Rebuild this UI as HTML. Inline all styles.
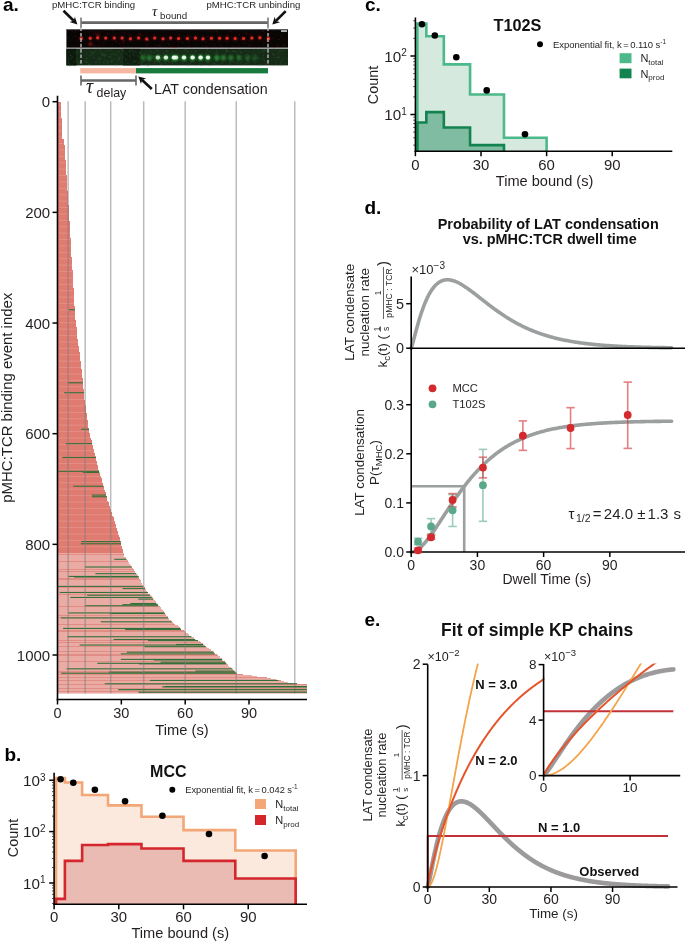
<!DOCTYPE html>
<html><head><meta charset="utf-8"><style>
html,body{margin:0;padding:0;background:#fff;}
body{width:685px;height:942px;overflow:hidden;}
svg{display:block;will-change:transform;font-family:"Liberation Sans", sans-serif;}
</style></head><body>
<svg width="685" height="942" viewBox="0 0 685 942">
<text x="3" y="10.5" font-size="19" text-anchor="start" font-weight="bold" fill="#000" >a.</text>
<text x="52" y="8.4" font-size="9.6" text-anchor="start" font-weight="normal" fill="#231f20" >pMHC:TCR binding</text>
<text x="206.5" y="8.4" font-size="9.6" text-anchor="start" font-weight="normal" fill="#231f20" >pMHC:TCR unbinding</text>
<text x="152" y="15.5" font-size="15" fill="#231f20" font-family="Liberation Serif" font-style="italic">τ</text>
<text x="160" y="19" font-size="9.8" text-anchor="start" font-weight="normal" fill="#231f20" >bound</text>
<line x1="63.5" y1="10.8" x2="73.69" y2="20.77" stroke="#111" stroke-width="2.6" />
<polygon points="77.4,24.4 69.6,22.08 73.69,20.77 74.91,16.65" fill="#111"/>
<line x1="285.7" y1="11.1" x2="275.95" y2="20.92" stroke="#111" stroke-width="2.6" />
<polygon points="272.3,24.6 274.68,16.81 275.95,20.92 280.07,22.17" fill="#111"/>
<line x1="81" y1="22.6" x2="268" y2="22.6" stroke="#666" stroke-width="2.6" />
<line x1="81" y1="17.5" x2="81" y2="28" stroke="#777" stroke-width="1.6" />
<line x1="268" y1="17.5" x2="268" y2="28" stroke="#777" stroke-width="1.6" />
<defs><filter id="blr" x="-50%" y="-50%" width="200%" height="200%"><feGaussianBlur stdDeviation="0.9"/></filter><filter id="blr2" x="-50%" y="-50%" width="200%" height="200%"><feGaussianBlur stdDeviation="0.45"/></filter></defs>
<rect x="66.4" y="29.2" width="221.6" height="18.6" fill="#080505" />
<rect x="66.4" y="48.6" width="221.6" height="16.8" fill="#162a17" />
<rect x="123" y="48.6" width="17" height="16.8" fill="#0f1c10" />
<rect x="66.4" y="48.6" width="10" height="16.8" fill="#0c170d" />
<line x1="66.4" y1="48.2" x2="288" y2="48.2" stroke="#a0a0a0" stroke-width="1.0" />
<line x1="66.4" y1="29.6" x2="288" y2="29.6" stroke="#6a6a6a" stroke-width="0.8" />
<g filter="url(#blr2)">
<rect x="138.24" y="32.64" width="1" height="1" fill="#a01515" opacity="0.22"/>
<rect x="82.94" y="39.38" width="1" height="1" fill="#a01515" opacity="0.12"/>
<rect x="79.76" y="38.88" width="1" height="1" fill="#a01515" opacity="0.1"/>
<rect x="162.4" y="31.22" width="1" height="1" fill="#a01515" opacity="0.1"/>
<rect x="160.39" y="44.47" width="1" height="1" fill="#a01515" opacity="0.1"/>
<rect x="116.11" y="40.98" width="1" height="1" fill="#a01515" opacity="0.48"/>
<rect x="193.96" y="36.94" width="1" height="1" fill="#a01515" opacity="0.52"/>
<rect x="77.25" y="45.02" width="1" height="1" fill="#a01515" opacity="0.11"/>
<rect x="98.74" y="32.06" width="1" height="1" fill="#a01515" opacity="0.11"/>
<rect x="246.55" y="33.16" width="1" height="1" fill="#a01515" opacity="0.19"/>
<rect x="207.56" y="36.52" width="1" height="1" fill="#a01515" opacity="0.17"/>
<rect x="80.81" y="31.04" width="1" height="1" fill="#a01515" opacity="0.1"/>
<rect x="216.69" y="37.48" width="1" height="1" fill="#a01515" opacity="0.11"/>
<rect x="195.82" y="37.93" width="1" height="1" fill="#a01515" opacity="0.11"/>
<rect x="241.76" y="42.23" width="1" height="1" fill="#a01515" opacity="0.11"/>
<rect x="193.37" y="39.19" width="1" height="1" fill="#a01515" opacity="0.4"/>
<rect x="227.48" y="35.04" width="1" height="1" fill="#a01515" opacity="0.52"/>
<rect x="92.97" y="37.32" width="1" height="1" fill="#a01515" opacity="0.3"/>
<rect x="100.44" y="38.56" width="1" height="1" fill="#a01515" opacity="0.1"/>
<rect x="214.01" y="43.38" width="1" height="1" fill="#a01515" opacity="0.18"/>
<rect x="259.61" y="35.49" width="1" height="1" fill="#a01515" opacity="0.25"/>
<rect x="197.76" y="40.15" width="1" height="1" fill="#a01515" opacity="0.14"/>
<rect x="251.79" y="46.53" width="1" height="1" fill="#a01515" opacity="0.15"/>
<rect x="213.11" y="31.06" width="1" height="1" fill="#a01515" opacity="0.26"/>
<rect x="209.37" y="47.38" width="1" height="1" fill="#a01515" opacity="0.35"/>
<rect x="129.61" y="36.75" width="1" height="1" fill="#a01515" opacity="0.23"/>
<rect x="71.96" y="38.08" width="1" height="1" fill="#a01515" opacity="0.1"/>
<rect x="92.76" y="31.03" width="1" height="1" fill="#a01515" opacity="0.3"/>
<rect x="95.45" y="34.33" width="1" height="1" fill="#a01515" opacity="0.13"/>
<rect x="258.71" y="31.41" width="1" height="1" fill="#a01515" opacity="0.14"/>
<rect x="187.88" y="45.46" width="1" height="1" fill="#a01515" opacity="0.35"/>
<rect x="257.08" y="34.87" width="1" height="1" fill="#a01515" opacity="0.13"/>
<rect x="145.93" y="45.47" width="1" height="1" fill="#a01515" opacity="0.5"/>
<rect x="100.2" y="33.08" width="1" height="1" fill="#a01515" opacity="0.11"/>
<rect x="118.33" y="38.49" width="1" height="1" fill="#a01515" opacity="0.19"/>
<rect x="124.8" y="30.07" width="1" height="1" fill="#a01515" opacity="0.13"/>
<rect x="148.24" y="39.91" width="1" height="1" fill="#a01515" opacity="0.49"/>
<rect x="218.91" y="39.02" width="1" height="1" fill="#a01515" opacity="0.21"/>
<rect x="215.76" y="30.94" width="1" height="1" fill="#a01515" opacity="0.43"/>
<rect x="238.59" y="45.3" width="1" height="1" fill="#a01515" opacity="0.33"/>
<rect x="153.32" y="36.98" width="1" height="1" fill="#a01515" opacity="0.1"/>
<rect x="206.54" y="31.09" width="1" height="1" fill="#a01515" opacity="0.1"/>
<rect x="112.93" y="32.84" width="1" height="1" fill="#a01515" opacity="0.12"/>
<rect x="78.57" y="30" width="1" height="1" fill="#a01515" opacity="0.1"/>
<rect x="89.32" y="36.36" width="1" height="1" fill="#a01515" opacity="0.1"/>
<rect x="259.35" y="40.75" width="1" height="1" fill="#a01515" opacity="0.1"/>
<rect x="122.5" y="36.08" width="1" height="1" fill="#a01515" opacity="0.12"/>
<rect x="94.03" y="44.86" width="1" height="1" fill="#a01515" opacity="0.54"/>
<rect x="169.52" y="38.47" width="1" height="1" fill="#a01515" opacity="0.1"/>
<rect x="89.48" y="36" width="1" height="1" fill="#a01515" opacity="0.11"/>
<rect x="249.35" y="32.83" width="1" height="1" fill="#a01515" opacity="0.1"/>
<rect x="276.22" y="39.24" width="1" height="1" fill="#a01515" opacity="0.1"/>
<rect x="186.5" y="30.47" width="1" height="1" fill="#a01515" opacity="0.17"/>
<rect x="282.27" y="45.11" width="1" height="1" fill="#a01515" opacity="0.25"/>
<rect x="124.45" y="36.42" width="1" height="1" fill="#a01515" opacity="0.1"/>
<rect x="236.83" y="39.32" width="1" height="1" fill="#a01515" opacity="0.31"/>
<rect x="139.53" y="33.9" width="1" height="1" fill="#a01515" opacity="0.34"/>
<rect x="283.68" y="44.92" width="1" height="1" fill="#a01515" opacity="0.34"/>
<rect x="247.03" y="42.95" width="1" height="1" fill="#a01515" opacity="0.11"/>
<rect x="180.88" y="36.22" width="1" height="1" fill="#a01515" opacity="0.1"/>
<rect x="73.15" y="34.89" width="1" height="1" fill="#a01515" opacity="0.11"/>
<rect x="219.35" y="46.74" width="1" height="1" fill="#a01515" opacity="0.14"/>
<rect x="273.14" y="47.29" width="1" height="1" fill="#a01515" opacity="0.49"/>
<rect x="147.22" y="33.86" width="1" height="1" fill="#a01515" opacity="0.11"/>
<rect x="110.28" y="33.58" width="1" height="1" fill="#a01515" opacity="0.21"/>
<rect x="265.07" y="44.71" width="1" height="1" fill="#a01515" opacity="0.15"/>
<rect x="210.66" y="43.99" width="1" height="1" fill="#a01515" opacity="0.1"/>
<rect x="212.33" y="45.92" width="1" height="1" fill="#a01515" opacity="0.32"/>
<rect x="232.03" y="38.37" width="1" height="1" fill="#a01515" opacity="0.1"/>
<rect x="240.61" y="35.82" width="1" height="1" fill="#a01515" opacity="0.33"/>
<rect x="280.76" y="36.93" width="1" height="1" fill="#a01515" opacity="0.13"/>
<rect x="275.3" y="42.68" width="1" height="1" fill="#a01515" opacity="0.1"/>
<rect x="94.95" y="32.65" width="1" height="1" fill="#a01515" opacity="0.43"/>
<rect x="244.43" y="32.56" width="1" height="1" fill="#a01515" opacity="0.35"/>
<rect x="282.67" y="41.5" width="1" height="1" fill="#a01515" opacity="0.12"/>
<rect x="187.71" y="32.29" width="1" height="1" fill="#a01515" opacity="0.1"/>
<rect x="280.6" y="41.37" width="1" height="1" fill="#a01515" opacity="0.17"/>
<rect x="272.4" y="37.59" width="1" height="1" fill="#a01515" opacity="0.4"/>
<rect x="248.75" y="33.69" width="1" height="1" fill="#a01515" opacity="0.11"/>
<rect x="131.45" y="34.21" width="1" height="1" fill="#a01515" opacity="0.19"/>
<rect x="124.06" y="37.33" width="1" height="1" fill="#a01515" opacity="0.1"/>
<rect x="267.2" y="36.19" width="1" height="1" fill="#a01515" opacity="0.14"/>
<rect x="195.34" y="45.83" width="1" height="1" fill="#a01515" opacity="0.13"/>
<rect x="268.9" y="38.78" width="1" height="1" fill="#a01515" opacity="0.17"/>
<rect x="182.17" y="30.33" width="1" height="1" fill="#a01515" opacity="0.14"/>
<rect x="107.28" y="30.07" width="1" height="1" fill="#a01515" opacity="0.33"/>
<rect x="104.92" y="38.29" width="1" height="1" fill="#a01515" opacity="0.27"/>
<rect x="189.42" y="35.7" width="1" height="1" fill="#a01515" opacity="0.16"/>
<rect x="189.2" y="43.72" width="1" height="1" fill="#a01515" opacity="0.1"/>
<rect x="190.27" y="34.35" width="1" height="1" fill="#a01515" opacity="0.11"/>
<rect x="236.9" y="38.88" width="1" height="1" fill="#a01515" opacity="0.18"/>
<rect x="234.2" y="45.97" width="1" height="1" fill="#a01515" opacity="0.14"/>
<rect x="201.76" y="38.85" width="1" height="1" fill="#a01515" opacity="0.16"/>
<rect x="219.4" y="37.92" width="1" height="1" fill="#a01515" opacity="0.17"/>
<rect x="172.17" y="46.48" width="1" height="1" fill="#a01515" opacity="0.25"/>
<rect x="259.84" y="46.49" width="1" height="1" fill="#a01515" opacity="0.11"/>
<rect x="190.09" y="46.51" width="1" height="1" fill="#a01515" opacity="0.37"/>
<rect x="97.17" y="32.13" width="1" height="1" fill="#a01515" opacity="0.14"/>
<rect x="82.96" y="34.21" width="1" height="1" fill="#a01515" opacity="0.1"/>
<rect x="214.28" y="43.72" width="1" height="1" fill="#a01515" opacity="0.42"/>
<rect x="100.98" y="42.53" width="1" height="1" fill="#a01515" opacity="0.23"/>
<rect x="98.46" y="45.45" width="1" height="1" fill="#a01515" opacity="0.51"/>
<rect x="115.31" y="46.67" width="1" height="1" fill="#a01515" opacity="0.13"/>
<rect x="174.2" y="47.32" width="1" height="1" fill="#a01515" opacity="0.36"/>
<rect x="102.52" y="37.55" width="1" height="1" fill="#a01515" opacity="0.16"/>
<rect x="141.61" y="33.43" width="1" height="1" fill="#a01515" opacity="0.11"/>
<rect x="225.87" y="30.34" width="1" height="1" fill="#a01515" opacity="0.18"/>
<rect x="163.9" y="30.32" width="1" height="1" fill="#a01515" opacity="0.12"/>
<rect x="204.26" y="38.96" width="1" height="1" fill="#a01515" opacity="0.1"/>
<rect x="283.72" y="43.8" width="1" height="1" fill="#a01515" opacity="0.51"/>
<rect x="90.05" y="34.65" width="1" height="1" fill="#a01515" opacity="0.1"/>
<rect x="238.38" y="34.73" width="1" height="1" fill="#a01515" opacity="0.1"/>
<rect x="159.9" y="45.95" width="1" height="1" fill="#a01515" opacity="0.35"/>
<rect x="123.89" y="32.61" width="1" height="1" fill="#a01515" opacity="0.45"/>
<rect x="192.53" y="42.26" width="1" height="1" fill="#a01515" opacity="0.1"/>
<rect x="79.66" y="42.04" width="1" height="1" fill="#a01515" opacity="0.13"/>
<rect x="82.93" y="46.42" width="1" height="1" fill="#a01515" opacity="0.21"/>
<rect x="243.36" y="31.47" width="1" height="1" fill="#a01515" opacity="0.38"/>
<rect x="81.66" y="45.1" width="1" height="1" fill="#a01515" opacity="0.14"/>
<rect x="141.61" y="39.68" width="1" height="1" fill="#a01515" opacity="0.46"/>
<rect x="125.93" y="32.26" width="1" height="1" fill="#a01515" opacity="0.17"/>
<rect x="119.46" y="31.92" width="1" height="1" fill="#a01515" opacity="0.1"/>
<rect x="78.08" y="33.53" width="1" height="1" fill="#a01515" opacity="0.11"/>
<rect x="134.1" y="43.29" width="1" height="1" fill="#a01515" opacity="0.11"/>
<rect x="177.02" y="33.11" width="1" height="1" fill="#a01515" opacity="0.12"/>
<rect x="71" y="34.38" width="1" height="1" fill="#a01515" opacity="0.1"/>
<rect x="228.28" y="39.64" width="1" height="1" fill="#a01515" opacity="0.1"/>
<rect x="171.45" y="46.36" width="1" height="1" fill="#a01515" opacity="0.1"/>
<rect x="247.16" y="37.56" width="1" height="1" fill="#a01515" opacity="0.15"/>
<rect x="250.62" y="36.88" width="1" height="1" fill="#a01515" opacity="0.16"/>
<rect x="218.3" y="47.19" width="1" height="1" fill="#a01515" opacity="0.12"/>
<rect x="250.1" y="42.37" width="1" height="1" fill="#a01515" opacity="0.22"/>
<rect x="156.03" y="36.08" width="1" height="1" fill="#a01515" opacity="0.1"/>
<rect x="95.56" y="31.24" width="1" height="1" fill="#a01515" opacity="0.28"/>
<rect x="123.23" y="32.86" width="1" height="1" fill="#a01515" opacity="0.1"/>
<rect x="252.08" y="45.23" width="1" height="1" fill="#a01515" opacity="0.24"/>
<rect x="129.03" y="34.24" width="1" height="1" fill="#a01515" opacity="0.11"/>
<rect x="168.08" y="32.76" width="1" height="1" fill="#a01515" opacity="0.14"/>
<rect x="124.91" y="46.83" width="1" height="1" fill="#a01515" opacity="0.51"/>
<rect x="187.36" y="34.28" width="1" height="1" fill="#a01515" opacity="0.51"/>
<rect x="135.1" y="36.24" width="1" height="1" fill="#a01515" opacity="0.1"/>
<rect x="150.96" y="38.31" width="1" height="1" fill="#a01515" opacity="0.16"/>
<rect x="111.22" y="38.83" width="1" height="1" fill="#a01515" opacity="0.1"/>
<rect x="125.12" y="31.57" width="1" height="1" fill="#a01515" opacity="0.13"/>
<rect x="76.17" y="30.39" width="1" height="1" fill="#a01515" opacity="0.11"/>
<rect x="118.22" y="40.25" width="1" height="1" fill="#a01515" opacity="0.17"/>
<rect x="232.12" y="41.51" width="1" height="1" fill="#a01515" opacity="0.27"/>
<rect x="260.4" y="36.82" width="1" height="1" fill="#a01515" opacity="0.12"/>
<rect x="283.64" y="32.62" width="1" height="1" fill="#a01515" opacity="0.27"/>
<rect x="208.51" y="30.77" width="1" height="1" fill="#a01515" opacity="0.36"/>
<rect x="263.23" y="40.98" width="1" height="1" fill="#a01515" opacity="0.28"/>
<rect x="245.69" y="32.44" width="1" height="1" fill="#a01515" opacity="0.16"/>
<rect x="177.96" y="44.61" width="1" height="1" fill="#a01515" opacity="0.33"/>
<rect x="248.81" y="40.22" width="1" height="1" fill="#a01515" opacity="0.42"/>
<rect x="217.24" y="42.13" width="1" height="1" fill="#a01515" opacity="0.11"/>
<rect x="73.86" y="32.33" width="1" height="1" fill="#a01515" opacity="0.12"/>
<rect x="90.08" y="44.63" width="1" height="1" fill="#a01515" opacity="0.18"/>
<rect x="205.11" y="40.96" width="1" height="1" fill="#a01515" opacity="0.24"/>
<rect x="174.64" y="30.06" width="1" height="1" fill="#a01515" opacity="0.33"/>
<rect x="231.62" y="38.8" width="1" height="1" fill="#a01515" opacity="0.17"/>
<rect x="212.05" y="31.16" width="1" height="1" fill="#a01515" opacity="0.28"/>
<rect x="122.48" y="31.3" width="1" height="1" fill="#a01515" opacity="0.11"/>
<rect x="227.45" y="33.59" width="1" height="1" fill="#a01515" opacity="0.28"/>
<rect x="281.66" y="38.64" width="1" height="1" fill="#a01515" opacity="0.13"/>
<rect x="172.38" y="41.96" width="1" height="1" fill="#a01515" opacity="0.3"/>
<rect x="202.73" y="41.25" width="1" height="1" fill="#a01515" opacity="0.1"/>
<rect x="99.43" y="34.44" width="1" height="1" fill="#a01515" opacity="0.28"/>
<rect x="133.97" y="39.94" width="1" height="1" fill="#a01515" opacity="0.1"/>
<rect x="80.35" y="34.7" width="1" height="1" fill="#a01515" opacity="0.24"/>
<rect x="219.28" y="41.82" width="1" height="1" fill="#a01515" opacity="0.11"/>
<rect x="180.64" y="38.13" width="1" height="1" fill="#a01515" opacity="0.15"/>
<rect x="93.07" y="45.64" width="1" height="1" fill="#a01515" opacity="0.1"/>
<rect x="282.19" y="46.38" width="1" height="1" fill="#a01515" opacity="0.1"/>
<rect x="167.97" y="44.35" width="1" height="1" fill="#a01515" opacity="0.51"/>
<rect x="165.88" y="34.7" width="1" height="1" fill="#a01515" opacity="0.1"/>
<rect x="275.03" y="33.69" width="1" height="1" fill="#a01515" opacity="0.19"/>
<rect x="98.18" y="39.17" width="1" height="1" fill="#a01515" opacity="0.49"/>
<rect x="96.17" y="44.35" width="1" height="1" fill="#a01515" opacity="0.16"/>
<rect x="262.11" y="42.31" width="1" height="1" fill="#a01515" opacity="0.11"/>
<rect x="264.5" y="38.51" width="1" height="1" fill="#a01515" opacity="0.1"/>
<rect x="67.79" y="38.6" width="1" height="1" fill="#a01515" opacity="0.14"/>
<rect x="133.43" y="32.46" width="1" height="1" fill="#a01515" opacity="0.12"/>
<rect x="136.54" y="44.7" width="1" height="1" fill="#a01515" opacity="0.1"/>
<rect x="232.16" y="44.68" width="1" height="1" fill="#a01515" opacity="0.1"/>
<rect x="270.81" y="42.48" width="1" height="1" fill="#a01515" opacity="0.43"/>
<rect x="130.76" y="36.51" width="1" height="1" fill="#a01515" opacity="0.13"/>
<rect x="286.73" y="40.31" width="1" height="1" fill="#a01515" opacity="0.12"/>
<rect x="161.17" y="34.82" width="1" height="1" fill="#a01515" opacity="0.1"/>
<rect x="89.38" y="44.61" width="1" height="1" fill="#a01515" opacity="0.11"/>
<rect x="272.83" y="34.36" width="1" height="1" fill="#a01515" opacity="0.11"/>
<rect x="179.41" y="33.32" width="1" height="1" fill="#a01515" opacity="0.12"/>
<rect x="277.36" y="45.47" width="1" height="1" fill="#a01515" opacity="0.34"/>
<rect x="205.8" y="45.98" width="1" height="1" fill="#a01515" opacity="0.47"/>
<rect x="187.83" y="42.59" width="1" height="1" fill="#a01515" opacity="0.1"/>
<rect x="228.12" y="37.89" width="1" height="1" fill="#a01515" opacity="0.29"/>
<rect x="208.79" y="35.01" width="1" height="1" fill="#a01515" opacity="0.1"/>
<rect x="270.89" y="32.23" width="1" height="1" fill="#a01515" opacity="0.15"/>
<rect x="142.61" y="35.21" width="1" height="1" fill="#a01515" opacity="0.28"/>
<rect x="281.79" y="34.55" width="1" height="1" fill="#a01515" opacity="0.23"/>
<rect x="133.18" y="39.75" width="1" height="1" fill="#a01515" opacity="0.13"/>
<rect x="103.81" y="32.83" width="1" height="1" fill="#a01515" opacity="0.1"/>
<rect x="266.31" y="38.7" width="1" height="1" fill="#a01515" opacity="0.1"/>
<rect x="266.38" y="47.44" width="1" height="1" fill="#a01515" opacity="0.14"/>
<rect x="97.71" y="33.37" width="1" height="1" fill="#a01515" opacity="0.1"/>
<rect x="142.23" y="31.59" width="1" height="1" fill="#a01515" opacity="0.11"/>
<rect x="123.84" y="39.97" width="1" height="1" fill="#a01515" opacity="0.41"/>
<rect x="231.92" y="37.22" width="1" height="1" fill="#a01515" opacity="0.13"/>
<rect x="182.32" y="36.6" width="1" height="1" fill="#a01515" opacity="0.12"/>
<rect x="80.65" y="34.86" width="1" height="1" fill="#a01515" opacity="0.51"/>
<rect x="94.69" y="38.81" width="1" height="1" fill="#a01515" opacity="0.21"/>
<rect x="256.83" y="33.78" width="1" height="1" fill="#a01515" opacity="0.11"/>
<rect x="121.66" y="37" width="1" height="1" fill="#a01515" opacity="0.14"/>
<rect x="276.87" y="44.85" width="1" height="1" fill="#a01515" opacity="0.4"/>
<rect x="71.8" y="30.56" width="1" height="1" fill="#a01515" opacity="0.26"/>
<rect x="264.05" y="38.28" width="1" height="1" fill="#a01515" opacity="0.19"/>
<rect x="67.04" y="36.85" width="1" height="1" fill="#a01515" opacity="0.46"/>
<rect x="248.63" y="44.97" width="1" height="1" fill="#a01515" opacity="0.51"/>
<rect x="121.66" y="31.91" width="1" height="1" fill="#a01515" opacity="0.1"/>
<rect x="181.92" y="41.94" width="1" height="1" fill="#a01515" opacity="0.48"/>
<rect x="225.78" y="41.33" width="1" height="1" fill="#a01515" opacity="0.3"/>
<rect x="167.61" y="39.65" width="1" height="1" fill="#a01515" opacity="0.1"/>
<rect x="239.11" y="34.07" width="1" height="1" fill="#a01515" opacity="0.45"/>
<rect x="209.01" y="35.32" width="1" height="1" fill="#a01515" opacity="0.1"/>
<rect x="122.39" y="41.14" width="1" height="1" fill="#a01515" opacity="0.25"/>
<rect x="91.67" y="31.23" width="1" height="1" fill="#a01515" opacity="0.16"/>
<rect x="195.24" y="36.79" width="1" height="1" fill="#a01515" opacity="0.11"/>
<rect x="199.23" y="30.18" width="1" height="1" fill="#a01515" opacity="0.11"/>
<rect x="168.35" y="46.78" width="1" height="1" fill="#a01515" opacity="0.22"/>
<rect x="261.43" y="38.32" width="1" height="1" fill="#a01515" opacity="0.11"/>
<rect x="121.35" y="46.81" width="1" height="1" fill="#a01515" opacity="0.26"/>
<rect x="134.63" y="30.38" width="1" height="1" fill="#a01515" opacity="0.16"/>
<rect x="215.38" y="37.35" width="1" height="1" fill="#a01515" opacity="0.11"/>
<rect x="213.82" y="46.19" width="1" height="1" fill="#a01515" opacity="0.11"/>
<rect x="74.5" y="35.92" width="1" height="1" fill="#a01515" opacity="0.13"/>
<rect x="217.16" y="33.47" width="1" height="1" fill="#a01515" opacity="0.33"/>
<rect x="229.61" y="38.84" width="1" height="1" fill="#a01515" opacity="0.1"/>
<rect x="280.37" y="35.46" width="1" height="1" fill="#a01515" opacity="0.35"/>
<rect x="117.78" y="33.88" width="1" height="1" fill="#a01515" opacity="0.3"/>
<rect x="131.89" y="46.66" width="1" height="1" fill="#a01515" opacity="0.15"/>
<rect x="108.21" y="33.91" width="1" height="1" fill="#a01515" opacity="0.13"/>
<rect x="213.36" y="46.6" width="1" height="1" fill="#a01515" opacity="0.1"/>
<rect x="153.56" y="33.73" width="1" height="1" fill="#a01515" opacity="0.52"/>
<rect x="98.22" y="30.91" width="1" height="1" fill="#a01515" opacity="0.1"/>
<rect x="153.53" y="45.72" width="1" height="1" fill="#a01515" opacity="0.41"/>
<rect x="228.2" y="47.46" width="1" height="1" fill="#a01515" opacity="0.46"/>
<rect x="139.43" y="33.25" width="1" height="1" fill="#a01515" opacity="0.47"/>
<rect x="231.19" y="30.56" width="1" height="1" fill="#a01515" opacity="0.23"/>
<rect x="150.3" y="36.54" width="1" height="1" fill="#a01515" opacity="0.12"/>
<rect x="104.24" y="30.05" width="1" height="1" fill="#a01515" opacity="0.11"/>
<rect x="144.32" y="46.72" width="1" height="1" fill="#a01515" opacity="0.1"/>
<rect x="279.14" y="33.63" width="1" height="1" fill="#a01515" opacity="0.12"/>
<rect x="247.75" y="44.39" width="1" height="1" fill="#a01515" opacity="0.14"/>
<rect x="77.84" y="38.29" width="1" height="1" fill="#a01515" opacity="0.12"/>
<rect x="269.29" y="33.38" width="1" height="1" fill="#a01515" opacity="0.12"/>
<rect x="264.34" y="30.53" width="1" height="1" fill="#a01515" opacity="0.13"/>
<rect x="245.6" y="43.42" width="1" height="1" fill="#a01515" opacity="0.1"/>
<rect x="74.67" y="31.1" width="1" height="1" fill="#a01515" opacity="0.45"/>
<rect x="123.54" y="43.08" width="1" height="1" fill="#a01515" opacity="0.43"/>
<rect x="141.6" y="34.77" width="1" height="1" fill="#a01515" opacity="0.5"/>
<rect x="202.74" y="34.59" width="1" height="1" fill="#a01515" opacity="0.27"/>
<rect x="136.63" y="34.82" width="1" height="1" fill="#a01515" opacity="0.1"/>
<rect x="233.24" y="46.04" width="1" height="1" fill="#a01515" opacity="0.21"/>
<rect x="274.52" y="30.42" width="1" height="1" fill="#a01515" opacity="0.11"/>
<rect x="171.54" y="46.74" width="1" height="1" fill="#a01515" opacity="0.49"/>
<rect x="152.03" y="34.39" width="1" height="1" fill="#a01515" opacity="0.14"/>
<rect x="175.56" y="46.24" width="1" height="1" fill="#a01515" opacity="0.1"/>
<rect x="243.57" y="42.92" width="1" height="1" fill="#a01515" opacity="0.35"/>
<rect x="237.02" y="40.63" width="1" height="1" fill="#a01515" opacity="0.12"/>
<rect x="137.3" y="36.33" width="1" height="1" fill="#a01515" opacity="0.32"/>
<rect x="84.38" y="33.45" width="1" height="1" fill="#a01515" opacity="0.29"/>
<rect x="121.41" y="31.13" width="1" height="1" fill="#a01515" opacity="0.1"/>
<rect x="188.57" y="35.7" width="1" height="1" fill="#a01515" opacity="0.52"/>
<rect x="261.36" y="47.29" width="1" height="1" fill="#a01515" opacity="0.11"/>
<rect x="85.5" y="31.69" width="1" height="1" fill="#a01515" opacity="0.16"/>
<rect x="223.15" y="37.82" width="1" height="1" fill="#a01515" opacity="0.11"/>
<rect x="158.7" y="40.86" width="1" height="1" fill="#a01515" opacity="0.24"/>
<rect x="231.55" y="44.82" width="1" height="1" fill="#a01515" opacity="0.23"/>
<rect x="93.66" y="44.72" width="1" height="1" fill="#a01515" opacity="0.11"/>
<rect x="191.71" y="36.53" width="1" height="1" fill="#a01515" opacity="0.28"/>
<rect x="110.82" y="34.33" width="1" height="1" fill="#a01515" opacity="0.11"/>
<rect x="100.73" y="45.47" width="1" height="1" fill="#a01515" opacity="0.19"/>
<rect x="138.79" y="36.93" width="1" height="1" fill="#a01515" opacity="0.54"/>
<rect x="178.61" y="34.05" width="1" height="1" fill="#a01515" opacity="0.34"/>
<rect x="210.73" y="47.34" width="1" height="1" fill="#a01515" opacity="0.1"/>
<rect x="171.45" y="44.33" width="1" height="1" fill="#a01515" opacity="0.37"/>
<rect x="268.16" y="30.71" width="1" height="1" fill="#a01515" opacity="0.11"/>
<rect x="93.23" y="33.32" width="1" height="1" fill="#a01515" opacity="0.51"/>
<rect x="195.3" y="46.28" width="1" height="1" fill="#a01515" opacity="0.12"/>
<rect x="257.55" y="37.86" width="1" height="1" fill="#a01515" opacity="0.11"/>
<rect x="238.11" y="46.55" width="1" height="1" fill="#a01515" opacity="0.1"/>
<rect x="198.15" y="40.85" width="1" height="1" fill="#a01515" opacity="0.1"/>
<rect x="148.12" y="32.47" width="1" height="1" fill="#a01515" opacity="0.1"/>
<rect x="123.08" y="40.49" width="1" height="1" fill="#a01515" opacity="0.22"/>
<rect x="111.76" y="30.2" width="1" height="1" fill="#a01515" opacity="0.12"/>
<rect x="216.23" y="33.24" width="1" height="1" fill="#a01515" opacity="0.11"/>
<rect x="111.75" y="43.92" width="1" height="1" fill="#a01515" opacity="0.17"/>
<rect x="80.92" y="31.77" width="1" height="1" fill="#a01515" opacity="0.13"/>
<rect x="188.03" y="41.19" width="1" height="1" fill="#a01515" opacity="0.1"/>
<rect x="103.01" y="42.17" width="1" height="1" fill="#a01515" opacity="0.13"/>
<rect x="129.33" y="35.38" width="1" height="1" fill="#a01515" opacity="0.49"/>
<rect x="135.72" y="39.91" width="1" height="1" fill="#a01515" opacity="0.12"/>
<rect x="158.62" y="45.12" width="1" height="1" fill="#a01515" opacity="0.55"/>
<rect x="147.03" y="33.45" width="1" height="1" fill="#a01515" opacity="0.27"/>
<rect x="111.81" y="30.1" width="1" height="1" fill="#a01515" opacity="0.43"/>
<rect x="160.23" y="44.36" width="1" height="1" fill="#a01515" opacity="0.13"/>
<rect x="261.22" y="38.07" width="1" height="1" fill="#a01515" opacity="0.1"/>
<rect x="70.26" y="39.65" width="1" height="1" fill="#a01515" opacity="0.22"/>
<rect x="267.15" y="31.56" width="1" height="1" fill="#a01515" opacity="0.21"/>
<rect x="148.59" y="38.83" width="1" height="1" fill="#a01515" opacity="0.1"/>
<rect x="129.32" y="39.12" width="1" height="1" fill="#a01515" opacity="0.46"/>
<rect x="90.93" y="38.58" width="1" height="1" fill="#a01515" opacity="0.33"/>
<rect x="279.71" y="33.45" width="1" height="1" fill="#a01515" opacity="0.1"/>
<rect x="274.48" y="47.07" width="1" height="1" fill="#a01515" opacity="0.15"/>
<rect x="78.74" y="46.21" width="1" height="1" fill="#a01515" opacity="0.13"/>
<rect x="265.93" y="40.86" width="1" height="1" fill="#a01515" opacity="0.35"/>
<rect x="102.26" y="43.75" width="1" height="1" fill="#a01515" opacity="0.1"/>
<rect x="155.99" y="44.81" width="1" height="1" fill="#a01515" opacity="0.36"/>
<rect x="107.25" y="33.82" width="1" height="1" fill="#a01515" opacity="0.13"/>
<rect x="180.94" y="36.71" width="1" height="1" fill="#a01515" opacity="0.1"/>
<rect x="121.35" y="42.69" width="1" height="1" fill="#a01515" opacity="0.43"/>
<rect x="76.04" y="39.84" width="1" height="1" fill="#a01515" opacity="0.3"/>
<rect x="75.39" y="44.67" width="1" height="1" fill="#a01515" opacity="0.1"/>
<rect x="198.89" y="39.63" width="1" height="1" fill="#a01515" opacity="0.21"/>
<rect x="134.37" y="37.35" width="1" height="1" fill="#a01515" opacity="0.19"/>
<rect x="160.66" y="41.53" width="1" height="1" fill="#a01515" opacity="0.14"/>
<rect x="163.44" y="30.41" width="1" height="1" fill="#a01515" opacity="0.21"/>
<rect x="174.69" y="34.12" width="1" height="1" fill="#a01515" opacity="0.3"/>
<rect x="238.59" y="38.02" width="1" height="1" fill="#a01515" opacity="0.1"/>
<rect x="171.11" y="31.87" width="1" height="1" fill="#a01515" opacity="0.1"/>
<rect x="161.73" y="31.6" width="1" height="1" fill="#a01515" opacity="0.14"/>
<rect x="179.24" y="30.71" width="1" height="1" fill="#a01515" opacity="0.22"/>
<rect x="85.09" y="42.84" width="1" height="1" fill="#a01515" opacity="0.31"/>
<rect x="179.53" y="30.95" width="1" height="1" fill="#a01515" opacity="0.16"/>
<rect x="150.13" y="46.64" width="1" height="1" fill="#a01515" opacity="0.1"/>
<rect x="255.56" y="47.43" width="1" height="1" fill="#a01515" opacity="0.28"/>
<rect x="246.3" y="33.39" width="1" height="1" fill="#a01515" opacity="0.53"/>
<rect x="175.21" y="46.74" width="1" height="1" fill="#a01515" opacity="0.45"/>
<rect x="103.32" y="43.8" width="1" height="1" fill="#a01515" opacity="0.46"/>
<rect x="81.41" y="36.14" width="1" height="1" fill="#a01515" opacity="0.29"/>
<rect x="101.93" y="45.69" width="1" height="1" fill="#a01515" opacity="0.11"/>
<rect x="246.44" y="32.51" width="1" height="1" fill="#a01515" opacity="0.16"/>
<rect x="269.38" y="33.65" width="1" height="1" fill="#a01515" opacity="0.11"/>
<rect x="178.32" y="35.58" width="1" height="1" fill="#a01515" opacity="0.1"/>
<rect x="107.06" y="32.82" width="1" height="1" fill="#a01515" opacity="0.47"/>
<rect x="216.53" y="45.67" width="1" height="1" fill="#a01515" opacity="0.1"/>
<rect x="239.67" y="32.01" width="1" height="1" fill="#a01515" opacity="0.17"/>
<rect x="206.99" y="36.3" width="1" height="1" fill="#a01515" opacity="0.4"/>
<rect x="189.14" y="40.15" width="1" height="1" fill="#a01515" opacity="0.41"/>
<rect x="90.01" y="47.38" width="1" height="1" fill="#a01515" opacity="0.21"/>
<rect x="153.74" y="43.96" width="1" height="1" fill="#a01515" opacity="0.11"/>
<rect x="284.91" y="40.1" width="1" height="1" fill="#a01515" opacity="0.12"/>
<rect x="235.22" y="37.74" width="1" height="1" fill="#a01515" opacity="0.1"/>
<rect x="230.59" y="30.85" width="1" height="1" fill="#a01515" opacity="0.35"/>
<rect x="122.8" y="41.19" width="1" height="1" fill="#a01515" opacity="0.53"/>
<rect x="195.89" y="41.61" width="1" height="1" fill="#a01515" opacity="0.11"/>
<rect x="67.39" y="30.59" width="1" height="1" fill="#a01515" opacity="0.1"/>
<rect x="202.53" y="37.56" width="1" height="1" fill="#a01515" opacity="0.16"/>
<rect x="264.02" y="32.31" width="1" height="1" fill="#a01515" opacity="0.11"/>
<rect x="210.68" y="30.39" width="1" height="1" fill="#a01515" opacity="0.1"/>
<rect x="145.09" y="31.86" width="1" height="1" fill="#a01515" opacity="0.12"/>
<rect x="116.34" y="40.21" width="1" height="1" fill="#a01515" opacity="0.19"/>
<rect x="111.92" y="40.92" width="1" height="1" fill="#a01515" opacity="0.15"/>
<rect x="96.64" y="46.39" width="1" height="1" fill="#a01515" opacity="0.11"/>
<rect x="99.85" y="31.68" width="1" height="1" fill="#a01515" opacity="0.22"/>
<rect x="258.68" y="43.69" width="1" height="1" fill="#a01515" opacity="0.13"/>
<rect x="125.13" y="30.2" width="1" height="1" fill="#a01515" opacity="0.22"/>
<rect x="190.71" y="36.13" width="1" height="1" fill="#a01515" opacity="0.22"/>
<rect x="164.63" y="46.4" width="1" height="1" fill="#a01515" opacity="0.28"/>
<rect x="121.67" y="45.81" width="1" height="1" fill="#a01515" opacity="0.1"/>
<rect x="183.94" y="37.1" width="1" height="1" fill="#a01515" opacity="0.11"/>
<rect x="79.84" y="43.63" width="1" height="1" fill="#a01515" opacity="0.1"/>
<rect x="188.2" y="46.47" width="1" height="1" fill="#a01515" opacity="0.1"/>
<rect x="110.89" y="40.64" width="1" height="1" fill="#a01515" opacity="0.16"/>
<rect x="208.15" y="44.23" width="1" height="1" fill="#a01515" opacity="0.1"/>
<rect x="135.06" y="35.25" width="1" height="1" fill="#a01515" opacity="0.1"/>
<rect x="262.66" y="43.7" width="1" height="1" fill="#a01515" opacity="0.26"/>
<rect x="68.4" y="44.78" width="1" height="1" fill="#a01515" opacity="0.29"/>
<rect x="169.36" y="42.98" width="1" height="1" fill="#a01515" opacity="0.14"/>
<rect x="116.71" y="31.84" width="1" height="1" fill="#a01515" opacity="0.11"/>
<rect x="75.54" y="35.87" width="1" height="1" fill="#a01515" opacity="0.29"/>
<rect x="219.92" y="44.79" width="1" height="1" fill="#a01515" opacity="0.26"/>
<rect x="125.52" y="39.69" width="1" height="1" fill="#a01515" opacity="0.14"/>
<rect x="240.46" y="39.16" width="1" height="1" fill="#a01515" opacity="0.11"/>
<rect x="208.24" y="46.89" width="1" height="1" fill="#a01515" opacity="0.1"/>
<rect x="260.61" y="30.27" width="1" height="1" fill="#a01515" opacity="0.11"/>
<rect x="118.94" y="43.02" width="1" height="1" fill="#a01515" opacity="0.48"/>
<rect x="231.15" y="35.72" width="1" height="1" fill="#a01515" opacity="0.41"/>
<rect x="139.28" y="34.19" width="1" height="1" fill="#a01515" opacity="0.44"/>
<rect x="205.75" y="42.12" width="1" height="1" fill="#a01515" opacity="0.23"/>
<rect x="282.38" y="38.22" width="1" height="1" fill="#a01515" opacity="0.37"/>
<rect x="220.48" y="45.01" width="1" height="1" fill="#a01515" opacity="0.14"/>
<rect x="226.42" y="39.98" width="1" height="1" fill="#a01515" opacity="0.11"/>
<rect x="113.63" y="40.9" width="1" height="1" fill="#a01515" opacity="0.1"/>
<rect x="267.37" y="32.53" width="1" height="1" fill="#a01515" opacity="0.1"/>
<rect x="90.47" y="46.26" width="1" height="1" fill="#a01515" opacity="0.12"/>
<rect x="98.21" y="30.5" width="1" height="1" fill="#a01515" opacity="0.1"/>
<rect x="219.38" y="41.09" width="1" height="1" fill="#a01515" opacity="0.25"/>
<rect x="229.09" y="31.15" width="1" height="1" fill="#a01515" opacity="0.19"/>
<rect x="146.95" y="44.31" width="1" height="1" fill="#a01515" opacity="0.35"/>
<rect x="263.08" y="31.15" width="1" height="1" fill="#a01515" opacity="0.39"/>
<rect x="268.17" y="46.53" width="1" height="1" fill="#a01515" opacity="0.1"/>
<rect x="112.26" y="31.96" width="1" height="1" fill="#a01515" opacity="0.1"/>
<rect x="253.5" y="44.21" width="1" height="1" fill="#a01515" opacity="0.21"/>
<rect x="248.51" y="41.05" width="1" height="1" fill="#a01515" opacity="0.11"/>
<rect x="88.97" y="31.71" width="1" height="1" fill="#a01515" opacity="0.3"/>
<rect x="112.1" y="35.58" width="1" height="1" fill="#a01515" opacity="0.13"/>
<rect x="71.6" y="34.49" width="1" height="1" fill="#a01515" opacity="0.11"/>
<rect x="224.47" y="36.44" width="1" height="1" fill="#a01515" opacity="0.11"/>
<rect x="279.08" y="38.82" width="1" height="1" fill="#a01515" opacity="0.38"/>
<rect x="203.02" y="30.54" width="1" height="1" fill="#a01515" opacity="0.13"/>
<rect x="163.02" y="43.53" width="1" height="1" fill="#a01515" opacity="0.12"/>
<rect x="222.03" y="39.41" width="1" height="1" fill="#a01515" opacity="0.1"/>
<rect x="256.69" y="31.59" width="1" height="1" fill="#a01515" opacity="0.35"/>
<rect x="104.48" y="30.02" width="1" height="1" fill="#a01515" opacity="0.1"/>
<rect x="234.68" y="47.11" width="1" height="1" fill="#a01515" opacity="0.1"/>
<rect x="174.98" y="38.6" width="1" height="1" fill="#a01515" opacity="0.33"/>
<rect x="107.59" y="38.66" width="1" height="1" fill="#a01515" opacity="0.12"/>
<rect x="250" y="34.56" width="1" height="1" fill="#a01515" opacity="0.48"/>
<rect x="129.42" y="33.76" width="1" height="1" fill="#a01515" opacity="0.25"/>
<rect x="176.63" y="31.92" width="1" height="1" fill="#a01515" opacity="0.22"/>
<rect x="84.79" y="61.61" width="1.3" height="1.3" fill="#2f5f30" opacity="0.38"/>
<rect x="240.13" y="59.05" width="1.3" height="1.3" fill="#2f5f30" opacity="0.24"/>
<rect x="155.28" y="55.31" width="1.3" height="1.3" fill="#2f5f30" opacity="0.46"/>
<rect x="85.96" y="63.22" width="1.3" height="1.3" fill="#2f5f30" opacity="0.11"/>
<rect x="112.35" y="53.21" width="1.3" height="1.3" fill="#2f5f30" opacity="0.46"/>
<rect x="177.26" y="55.07" width="1.3" height="1.3" fill="#2f5f30" opacity="0.45"/>
<rect x="118.39" y="56.37" width="1.3" height="1.3" fill="#2f5f30" opacity="0.31"/>
<rect x="232.98" y="61.05" width="1.3" height="1.3" fill="#2f5f30" opacity="0.36"/>
<rect x="143.67" y="54.23" width="1.3" height="1.3" fill="#2f5f30" opacity="0.16"/>
<rect x="252.48" y="59.59" width="1.3" height="1.3" fill="#2f5f30" opacity="0.4"/>
<rect x="104.3" y="56.02" width="1.3" height="1.3" fill="#2f5f30" opacity="0.41"/>
<rect x="194.42" y="51.02" width="1.3" height="1.3" fill="#2f5f30" opacity="0.28"/>
<rect x="261.73" y="52.81" width="1.3" height="1.3" fill="#2f5f30" opacity="0.18"/>
<rect x="133.33" y="60.25" width="1.3" height="1.3" fill="#2f5f30" opacity="0.44"/>
<rect x="101.01" y="51.5" width="1.3" height="1.3" fill="#2f5f30" opacity="0.2"/>
<rect x="138.84" y="57.35" width="1.3" height="1.3" fill="#2f5f30" opacity="0.16"/>
<rect x="139.18" y="52.03" width="1.3" height="1.3" fill="#2f5f30" opacity="0.49"/>
<rect x="227.32" y="50.63" width="1.3" height="1.3" fill="#2f5f30" opacity="0.48"/>
<rect x="89.36" y="55.15" width="1.3" height="1.3" fill="#2f5f30" opacity="0.49"/>
<rect x="241.88" y="60.73" width="1.3" height="1.3" fill="#2f5f30" opacity="0.27"/>
<rect x="110.16" y="59.21" width="1.3" height="1.3" fill="#2f5f30" opacity="0.14"/>
<rect x="112.42" y="55.21" width="1.3" height="1.3" fill="#2f5f30" opacity="0.11"/>
<rect x="154.78" y="61.66" width="1.3" height="1.3" fill="#2f5f30" opacity="0.38"/>
<rect x="177.11" y="59.12" width="1.3" height="1.3" fill="#2f5f30" opacity="0.29"/>
<rect x="98.2" y="58.66" width="1.3" height="1.3" fill="#2f5f30" opacity="0.26"/>
<rect x="230.01" y="63.53" width="1.3" height="1.3" fill="#2f5f30" opacity="0.27"/>
<rect x="193.28" y="60.99" width="1.3" height="1.3" fill="#2f5f30" opacity="0.27"/>
<rect x="117.28" y="60.56" width="1.3" height="1.3" fill="#2f5f30" opacity="0.45"/>
<rect x="237.29" y="60.2" width="1.3" height="1.3" fill="#2f5f30" opacity="0.44"/>
<rect x="216.51" y="59.26" width="1.3" height="1.3" fill="#2f5f30" opacity="0.28"/>
<rect x="135.86" y="59.05" width="1.3" height="1.3" fill="#2f5f30" opacity="0.14"/>
<rect x="159.31" y="61.52" width="1.3" height="1.3" fill="#2f5f30" opacity="0.39"/>
<rect x="205.52" y="53" width="1.3" height="1.3" fill="#2f5f30" opacity="0.27"/>
<rect x="167.14" y="58.95" width="1.3" height="1.3" fill="#2f5f30" opacity="0.26"/>
<rect x="215.55" y="63.88" width="1.3" height="1.3" fill="#2f5f30" opacity="0.17"/>
<rect x="210.99" y="61.45" width="1.3" height="1.3" fill="#2f5f30" opacity="0.26"/>
<rect x="174.76" y="64.59" width="1.3" height="1.3" fill="#2f5f30" opacity="0.12"/>
<rect x="186.54" y="51.57" width="1.3" height="1.3" fill="#2f5f30" opacity="0.41"/>
<rect x="273.93" y="57.31" width="1.3" height="1.3" fill="#2f5f30" opacity="0.14"/>
<rect x="193.4" y="57.66" width="1.3" height="1.3" fill="#2f5f30" opacity="0.39"/>
<rect x="179.68" y="59.23" width="1.3" height="1.3" fill="#2f5f30" opacity="0.43"/>
<rect x="181.77" y="55.57" width="1.3" height="1.3" fill="#2f5f30" opacity="0.48"/>
<rect x="113.22" y="59.95" width="1.3" height="1.3" fill="#2f5f30" opacity="0.26"/>
<rect x="234.79" y="50.96" width="1.3" height="1.3" fill="#2f5f30" opacity="0.49"/>
<rect x="145.2" y="49.91" width="1.3" height="1.3" fill="#2f5f30" opacity="0.21"/>
<rect x="154.93" y="49.21" width="1.3" height="1.3" fill="#2f5f30" opacity="0.27"/>
<rect x="159.52" y="60.17" width="1.3" height="1.3" fill="#2f5f30" opacity="0.24"/>
<rect x="125.33" y="52.59" width="1.3" height="1.3" fill="#2f5f30" opacity="0.4"/>
<rect x="273.78" y="57.43" width="1.3" height="1.3" fill="#2f5f30" opacity="0.19"/>
<rect x="243.33" y="55.27" width="1.3" height="1.3" fill="#2f5f30" opacity="0.18"/>
<rect x="95.45" y="61.43" width="1.3" height="1.3" fill="#2f5f30" opacity="0.42"/>
<rect x="206.55" y="56.51" width="1.3" height="1.3" fill="#2f5f30" opacity="0.32"/>
<rect x="116.72" y="64.42" width="1.3" height="1.3" fill="#2f5f30" opacity="0.24"/>
<rect x="207.54" y="62.1" width="1.3" height="1.3" fill="#2f5f30" opacity="0.43"/>
<rect x="169.98" y="53.71" width="1.3" height="1.3" fill="#2f5f30" opacity="0.32"/>
<rect x="94.54" y="62.34" width="1.3" height="1.3" fill="#2f5f30" opacity="0.24"/>
<rect x="254.15" y="53.28" width="1.3" height="1.3" fill="#2f5f30" opacity="0.25"/>
<rect x="122.78" y="55.82" width="1.3" height="1.3" fill="#2f5f30" opacity="0.17"/>
<rect x="67.59" y="60.55" width="1.3" height="1.3" fill="#2f5f30" opacity="0.21"/>
<rect x="120.89" y="53.83" width="1.3" height="1.3" fill="#2f5f30" opacity="0.29"/>
<rect x="161.27" y="59.2" width="1.3" height="1.3" fill="#2f5f30" opacity="0.36"/>
<rect x="146.73" y="63.86" width="1.3" height="1.3" fill="#2f5f30" opacity="0.44"/>
<rect x="79.55" y="62.25" width="1.3" height="1.3" fill="#2f5f30" opacity="0.46"/>
<rect x="239.49" y="51.25" width="1.3" height="1.3" fill="#2f5f30" opacity="0.43"/>
<rect x="206.3" y="49.24" width="1.3" height="1.3" fill="#2f5f30" opacity="0.1"/>
<rect x="276.39" y="59.5" width="1.3" height="1.3" fill="#2f5f30" opacity="0.2"/>
<rect x="89.33" y="51.28" width="1.3" height="1.3" fill="#2f5f30" opacity="0.19"/>
<rect x="237.79" y="54.54" width="1.3" height="1.3" fill="#2f5f30" opacity="0.16"/>
<rect x="265.9" y="61.67" width="1.3" height="1.3" fill="#2f5f30" opacity="0.17"/>
<rect x="263.05" y="58.73" width="1.3" height="1.3" fill="#2f5f30" opacity="0.41"/>
<rect x="214.06" y="63.3" width="1.3" height="1.3" fill="#2f5f30" opacity="0.42"/>
<rect x="251.54" y="52.16" width="1.3" height="1.3" fill="#2f5f30" opacity="0.38"/>
<rect x="183.78" y="60.87" width="1.3" height="1.3" fill="#2f5f30" opacity="0.28"/>
<rect x="261.19" y="57.88" width="1.3" height="1.3" fill="#2f5f30" opacity="0.21"/>
<rect x="118.52" y="51.23" width="1.3" height="1.3" fill="#2f5f30" opacity="0.3"/>
<rect x="79.86" y="56.47" width="1.3" height="1.3" fill="#2f5f30" opacity="0.16"/>
<rect x="175.1" y="56.97" width="1.3" height="1.3" fill="#2f5f30" opacity="0.32"/>
<rect x="256.83" y="49.11" width="1.3" height="1.3" fill="#2f5f30" opacity="0.44"/>
<rect x="169.95" y="58" width="1.3" height="1.3" fill="#2f5f30" opacity="0.37"/>
<rect x="251.92" y="55" width="1.3" height="1.3" fill="#2f5f30" opacity="0.27"/>
<rect x="278.33" y="50.21" width="1.3" height="1.3" fill="#2f5f30" opacity="0.35"/>
<rect x="206.95" y="49.46" width="1.3" height="1.3" fill="#2f5f30" opacity="0.34"/>
<rect x="217.17" y="63.9" width="1.3" height="1.3" fill="#2f5f30" opacity="0.23"/>
<rect x="282.98" y="57.17" width="1.3" height="1.3" fill="#2f5f30" opacity="0.29"/>
<rect x="264.46" y="49.54" width="1.3" height="1.3" fill="#2f5f30" opacity="0.39"/>
<rect x="204.56" y="54.42" width="1.3" height="1.3" fill="#2f5f30" opacity="0.44"/>
<rect x="147.55" y="56.59" width="1.3" height="1.3" fill="#2f5f30" opacity="0.31"/>
<rect x="236.53" y="52.37" width="1.3" height="1.3" fill="#2f5f30" opacity="0.27"/>
<rect x="159.93" y="57.86" width="1.3" height="1.3" fill="#2f5f30" opacity="0.43"/>
<rect x="131.43" y="62.24" width="1.3" height="1.3" fill="#2f5f30" opacity="0.26"/>
<rect x="177.82" y="53.35" width="1.3" height="1.3" fill="#2f5f30" opacity="0.3"/>
<rect x="281.5" y="59.47" width="1.3" height="1.3" fill="#2f5f30" opacity="0.42"/>
<rect x="139.8" y="54.07" width="1.3" height="1.3" fill="#2f5f30" opacity="0.22"/>
<rect x="196.02" y="59.16" width="1.3" height="1.3" fill="#2f5f30" opacity="0.41"/>
<rect x="75.81" y="60.56" width="1.3" height="1.3" fill="#2f5f30" opacity="0.45"/>
<rect x="186.99" y="49.8" width="1.3" height="1.3" fill="#2f5f30" opacity="0.22"/>
<rect x="68.37" y="52.04" width="1.3" height="1.3" fill="#2f5f30" opacity="0.47"/>
<rect x="200.91" y="59.53" width="1.3" height="1.3" fill="#2f5f30" opacity="0.42"/>
<rect x="267.16" y="58.79" width="1.3" height="1.3" fill="#2f5f30" opacity="0.35"/>
<rect x="204.9" y="60.14" width="1.3" height="1.3" fill="#2f5f30" opacity="0.34"/>
<rect x="216.82" y="52.4" width="1.3" height="1.3" fill="#2f5f30" opacity="0.37"/>
<rect x="167.73" y="61.2" width="1.3" height="1.3" fill="#2f5f30" opacity="0.14"/>
<rect x="106.89" y="49.59" width="1.3" height="1.3" fill="#2f5f30" opacity="0.41"/>
<rect x="268.1" y="59.49" width="1.3" height="1.3" fill="#2f5f30" opacity="0.25"/>
<rect x="247.97" y="61.58" width="1.3" height="1.3" fill="#2f5f30" opacity="0.32"/>
<rect x="123.76" y="53.83" width="1.3" height="1.3" fill="#2f5f30" opacity="0.27"/>
<rect x="137.06" y="55.89" width="1.3" height="1.3" fill="#2f5f30" opacity="0.36"/>
<rect x="272.45" y="49.87" width="1.3" height="1.3" fill="#2f5f30" opacity="0.33"/>
<rect x="75.66" y="50.9" width="1.3" height="1.3" fill="#2f5f30" opacity="0.42"/>
<rect x="193.57" y="63.7" width="1.3" height="1.3" fill="#2f5f30" opacity="0.28"/>
<rect x="70.11" y="55.19" width="1.3" height="1.3" fill="#2f5f30" opacity="0.34"/>
<rect x="273.3" y="64.69" width="1.3" height="1.3" fill="#2f5f30" opacity="0.29"/>
<rect x="157.73" y="50.63" width="1.3" height="1.3" fill="#2f5f30" opacity="0.36"/>
<rect x="113.7" y="51.43" width="1.3" height="1.3" fill="#2f5f30" opacity="0.11"/>
<rect x="68.05" y="59.94" width="1.3" height="1.3" fill="#2f5f30" opacity="0.15"/>
<rect x="279.6" y="50.41" width="1.3" height="1.3" fill="#2f5f30" opacity="0.45"/>
<rect x="95.37" y="49.28" width="1.3" height="1.3" fill="#2f5f30" opacity="0.39"/>
<rect x="120.3" y="60.74" width="1.3" height="1.3" fill="#2f5f30" opacity="0.17"/>
<rect x="78.03" y="61.38" width="1.3" height="1.3" fill="#2f5f30" opacity="0.39"/>
<rect x="255.21" y="60.68" width="1.3" height="1.3" fill="#2f5f30" opacity="0.13"/>
<rect x="205.3" y="60.35" width="1.3" height="1.3" fill="#2f5f30" opacity="0.28"/>
<rect x="272.12" y="53.06" width="1.3" height="1.3" fill="#2f5f30" opacity="0.49"/>
<rect x="224.79" y="49.18" width="1.3" height="1.3" fill="#2f5f30" opacity="0.11"/>
<rect x="210.15" y="62.08" width="1.3" height="1.3" fill="#2f5f30" opacity="0.13"/>
<rect x="135.43" y="60.67" width="1.3" height="1.3" fill="#2f5f30" opacity="0.17"/>
<rect x="256.41" y="56.78" width="1.3" height="1.3" fill="#2f5f30" opacity="0.12"/>
<rect x="147.86" y="58.2" width="1.3" height="1.3" fill="#2f5f30" opacity="0.28"/>
<rect x="215.91" y="51.32" width="1.3" height="1.3" fill="#2f5f30" opacity="0.42"/>
<rect x="146.92" y="59.32" width="1.3" height="1.3" fill="#2f5f30" opacity="0.35"/>
<rect x="158.95" y="55.17" width="1.3" height="1.3" fill="#2f5f30" opacity="0.41"/>
<rect x="274.88" y="61.55" width="1.3" height="1.3" fill="#2f5f30" opacity="0.33"/>
<rect x="131.33" y="49.97" width="1.3" height="1.3" fill="#2f5f30" opacity="0.49"/>
<rect x="221.72" y="62.24" width="1.3" height="1.3" fill="#2f5f30" opacity="0.23"/>
<rect x="200.28" y="64.64" width="1.3" height="1.3" fill="#2f5f30" opacity="0.43"/>
<rect x="199.25" y="53.94" width="1.3" height="1.3" fill="#2f5f30" opacity="0.27"/>
<rect x="262.39" y="55.03" width="1.3" height="1.3" fill="#2f5f30" opacity="0.37"/>
<rect x="199.39" y="63.34" width="1.3" height="1.3" fill="#2f5f30" opacity="0.42"/>
<rect x="129.33" y="49.03" width="1.3" height="1.3" fill="#2f5f30" opacity="0.21"/>
<rect x="159.95" y="58.39" width="1.3" height="1.3" fill="#2f5f30" opacity="0.43"/>
<rect x="262.24" y="49.68" width="1.3" height="1.3" fill="#2f5f30" opacity="0.43"/>
<rect x="245.59" y="62.88" width="1.3" height="1.3" fill="#2f5f30" opacity="0.33"/>
<rect x="127.25" y="62.62" width="1.3" height="1.3" fill="#2f5f30" opacity="0.42"/>
<rect x="217.62" y="63.62" width="1.3" height="1.3" fill="#2f5f30" opacity="0.24"/>
<rect x="85.71" y="57.86" width="1.3" height="1.3" fill="#2f5f30" opacity="0.42"/>
<rect x="111.09" y="61" width="1.3" height="1.3" fill="#2f5f30" opacity="0.47"/>
<rect x="118.49" y="58.71" width="1.3" height="1.3" fill="#2f5f30" opacity="0.37"/>
<rect x="169.37" y="52.31" width="1.3" height="1.3" fill="#2f5f30" opacity="0.2"/>
<rect x="232.25" y="61.67" width="1.3" height="1.3" fill="#2f5f30" opacity="0.28"/>
<rect x="86.29" y="61.91" width="1.3" height="1.3" fill="#2f5f30" opacity="0.41"/>
<rect x="118.23" y="58.27" width="1.3" height="1.3" fill="#2f5f30" opacity="0.46"/>
<rect x="261.72" y="57.35" width="1.3" height="1.3" fill="#2f5f30" opacity="0.29"/>
<rect x="196.65" y="52.03" width="1.3" height="1.3" fill="#2f5f30" opacity="0.18"/>
<rect x="106.75" y="60.22" width="1.3" height="1.3" fill="#2f5f30" opacity="0.25"/>
<rect x="191.17" y="55.44" width="1.3" height="1.3" fill="#2f5f30" opacity="0.31"/>
<rect x="99.78" y="49.71" width="1.3" height="1.3" fill="#2f5f30" opacity="0.5"/>
<rect x="149.29" y="50.7" width="1.3" height="1.3" fill="#2f5f30" opacity="0.35"/>
<rect x="240.22" y="51.5" width="1.3" height="1.3" fill="#2f5f30" opacity="0.34"/>
<rect x="142.88" y="57.31" width="1.3" height="1.3" fill="#2f5f30" opacity="0.11"/>
<rect x="74.39" y="64.85" width="1.3" height="1.3" fill="#2f5f30" opacity="0.45"/>
<rect x="173.99" y="58.07" width="1.3" height="1.3" fill="#2f5f30" opacity="0.2"/>
<rect x="238.42" y="55.82" width="1.3" height="1.3" fill="#2f5f30" opacity="0.48"/>
<rect x="235.79" y="62.1" width="1.3" height="1.3" fill="#2f5f30" opacity="0.49"/>
<rect x="122.88" y="49.61" width="1.3" height="1.3" fill="#2f5f30" opacity="0.18"/>
<rect x="106.76" y="50.34" width="1.3" height="1.3" fill="#2f5f30" opacity="0.12"/>
<rect x="189.62" y="62.93" width="1.3" height="1.3" fill="#2f5f30" opacity="0.28"/>
<rect x="275.39" y="63.56" width="1.3" height="1.3" fill="#2f5f30" opacity="0.13"/>
<rect x="198.58" y="55.36" width="1.3" height="1.3" fill="#2f5f30" opacity="0.15"/>
<rect x="278.05" y="53.12" width="1.3" height="1.3" fill="#2f5f30" opacity="0.33"/>
<rect x="207.94" y="64.3" width="1.3" height="1.3" fill="#2f5f30" opacity="0.37"/>
<rect x="153.49" y="56.17" width="1.3" height="1.3" fill="#2f5f30" opacity="0.16"/>
<rect x="279.47" y="64.87" width="1.3" height="1.3" fill="#2f5f30" opacity="0.19"/>
<rect x="75.5" y="53.09" width="1.3" height="1.3" fill="#2f5f30" opacity="0.24"/>
<rect x="265.61" y="63.47" width="1.3" height="1.3" fill="#2f5f30" opacity="0.43"/>
<rect x="77.35" y="61.58" width="1.3" height="1.3" fill="#2f5f30" opacity="0.38"/>
<rect x="209.27" y="64.77" width="1.3" height="1.3" fill="#2f5f30" opacity="0.12"/>
<rect x="98.86" y="61.08" width="1.3" height="1.3" fill="#2f5f30" opacity="0.48"/>
<rect x="215.92" y="53.78" width="1.3" height="1.3" fill="#2f5f30" opacity="0.34"/>
<rect x="233.74" y="50.69" width="1.3" height="1.3" fill="#2f5f30" opacity="0.23"/>
<rect x="123.54" y="50.99" width="1.3" height="1.3" fill="#2f5f30" opacity="0.29"/>
<rect x="104.09" y="52.82" width="1.3" height="1.3" fill="#2f5f30" opacity="0.16"/>
<rect x="216.08" y="49.2" width="1.3" height="1.3" fill="#2f5f30" opacity="0.39"/>
<rect x="109.92" y="49.58" width="1.3" height="1.3" fill="#2f5f30" opacity="0.47"/>
<rect x="115.52" y="63.94" width="1.3" height="1.3" fill="#2f5f30" opacity="0.45"/>
<rect x="262.52" y="51.24" width="1.3" height="1.3" fill="#2f5f30" opacity="0.28"/>
<rect x="88.34" y="63.86" width="1.3" height="1.3" fill="#2f5f30" opacity="0.44"/>
<rect x="205.24" y="56.24" width="1.3" height="1.3" fill="#2f5f30" opacity="0.24"/>
<rect x="248.07" y="56.64" width="1.3" height="1.3" fill="#2f5f30" opacity="0.35"/>
<rect x="98.41" y="52.55" width="1.3" height="1.3" fill="#2f5f30" opacity="0.12"/>
<rect x="224.02" y="57.85" width="1.3" height="1.3" fill="#2f5f30" opacity="0.16"/>
<rect x="258.56" y="53.26" width="1.3" height="1.3" fill="#2f5f30" opacity="0.26"/>
<rect x="101.25" y="53.34" width="1.3" height="1.3" fill="#2f5f30" opacity="0.44"/>
<rect x="140.59" y="51.68" width="1.3" height="1.3" fill="#2f5f30" opacity="0.3"/>
<rect x="136.97" y="63.45" width="1.3" height="1.3" fill="#2f5f30" opacity="0.15"/>
<rect x="282.3" y="49.91" width="1.3" height="1.3" fill="#2f5f30" opacity="0.46"/>
<rect x="214.02" y="52.38" width="1.3" height="1.3" fill="#2f5f30" opacity="0.29"/>
<rect x="129.97" y="53.12" width="1.3" height="1.3" fill="#2f5f30" opacity="0.18"/>
<rect x="147.14" y="64.86" width="1.3" height="1.3" fill="#2f5f30" opacity="0.5"/>
<rect x="270.52" y="50.56" width="1.3" height="1.3" fill="#2f5f30" opacity="0.22"/>
<rect x="264.16" y="49.92" width="1.3" height="1.3" fill="#2f5f30" opacity="0.39"/>
<rect x="131.58" y="64.66" width="1.3" height="1.3" fill="#2f5f30" opacity="0.11"/>
<rect x="244.55" y="54.45" width="1.3" height="1.3" fill="#2f5f30" opacity="0.16"/>
<rect x="67.42" y="62.32" width="1.3" height="1.3" fill="#2f5f30" opacity="0.31"/>
<rect x="107.88" y="55.96" width="1.3" height="1.3" fill="#2f5f30" opacity="0.46"/>
<rect x="115.02" y="58.14" width="1.3" height="1.3" fill="#2f5f30" opacity="0.16"/>
<rect x="106.63" y="61.33" width="1.3" height="1.3" fill="#2f5f30" opacity="0.38"/>
<rect x="110.28" y="50.27" width="1.3" height="1.3" fill="#2f5f30" opacity="0.13"/>
<rect x="200.88" y="56.93" width="1.3" height="1.3" fill="#2f5f30" opacity="0.21"/>
<rect x="112.33" y="58.8" width="1.3" height="1.3" fill="#2f5f30" opacity="0.38"/>
<rect x="245.55" y="58.33" width="1.3" height="1.3" fill="#2f5f30" opacity="0.18"/>
<rect x="81.45" y="60.72" width="1.3" height="1.3" fill="#2f5f30" opacity="0.26"/>
<rect x="225.76" y="49.89" width="1.3" height="1.3" fill="#2f5f30" opacity="0.42"/>
<rect x="140.75" y="62.47" width="1.3" height="1.3" fill="#2f5f30" opacity="0.45"/>
<rect x="175.46" y="49.25" width="1.3" height="1.3" fill="#2f5f30" opacity="0.46"/>
<rect x="171.86" y="62.95" width="1.3" height="1.3" fill="#2f5f30" opacity="0.21"/>
<rect x="107.93" y="62.31" width="1.3" height="1.3" fill="#2f5f30" opacity="0.25"/>
<rect x="102.97" y="54.94" width="1.3" height="1.3" fill="#2f5f30" opacity="0.34"/>
<rect x="68.02" y="57.32" width="1.3" height="1.3" fill="#2f5f30" opacity="0.28"/>
<rect x="180.44" y="50.93" width="1.3" height="1.3" fill="#2f5f30" opacity="0.39"/>
<rect x="246.64" y="62.85" width="1.3" height="1.3" fill="#2f5f30" opacity="0.23"/>
<rect x="223.46" y="55.1" width="1.3" height="1.3" fill="#2f5f30" opacity="0.4"/>
<rect x="80.47" y="62.96" width="1.3" height="1.3" fill="#2f5f30" opacity="0.48"/>
<rect x="175.86" y="57.21" width="1.3" height="1.3" fill="#2f5f30" opacity="0.31"/>
<rect x="185.21" y="49.33" width="1.3" height="1.3" fill="#2f5f30" opacity="0.49"/>
<rect x="116.21" y="51.92" width="1.3" height="1.3" fill="#2f5f30" opacity="0.14"/>
<rect x="122.1" y="62.07" width="1.3" height="1.3" fill="#2f5f30" opacity="0.11"/>
<rect x="88.22" y="60.18" width="1.3" height="1.3" fill="#2f5f30" opacity="0.18"/>
<rect x="70.89" y="58.59" width="1.3" height="1.3" fill="#2f5f30" opacity="0.33"/>
<rect x="182.04" y="60.24" width="1.3" height="1.3" fill="#2f5f30" opacity="0.14"/>
<rect x="258.3" y="60.47" width="1.3" height="1.3" fill="#2f5f30" opacity="0.12"/>
<rect x="94.07" y="56.9" width="1.3" height="1.3" fill="#2f5f30" opacity="0.3"/>
<rect x="128.52" y="50.95" width="1.3" height="1.3" fill="#2f5f30" opacity="0.26"/>
<rect x="97.13" y="58.47" width="1.3" height="1.3" fill="#2f5f30" opacity="0.44"/>
<rect x="99.39" y="58.17" width="1.3" height="1.3" fill="#2f5f30" opacity="0.4"/>
<rect x="103.15" y="62.22" width="1.3" height="1.3" fill="#2f5f30" opacity="0.48"/>
<rect x="152.52" y="55.73" width="1.3" height="1.3" fill="#2f5f30" opacity="0.44"/>
<rect x="182.64" y="55.33" width="1.3" height="1.3" fill="#2f5f30" opacity="0.48"/>
<rect x="237.92" y="54.42" width="1.3" height="1.3" fill="#2f5f30" opacity="0.2"/>
<rect x="140.72" y="55.97" width="1.3" height="1.3" fill="#2f5f30" opacity="0.49"/>
<rect x="243.96" y="63.6" width="1.3" height="1.3" fill="#2f5f30" opacity="0.43"/>
<rect x="253.48" y="49.86" width="1.3" height="1.3" fill="#2f5f30" opacity="0.31"/>
<rect x="277.73" y="63.95" width="1.3" height="1.3" fill="#2f5f30" opacity="0.2"/>
<rect x="159.87" y="59.12" width="1.3" height="1.3" fill="#2f5f30" opacity="0.25"/>
<rect x="183.78" y="50.11" width="1.3" height="1.3" fill="#2f5f30" opacity="0.27"/>
<rect x="178.05" y="49.33" width="1.3" height="1.3" fill="#2f5f30" opacity="0.16"/>
<rect x="280.33" y="61.43" width="1.3" height="1.3" fill="#2f5f30" opacity="0.47"/>
<rect x="206.31" y="61.95" width="1.3" height="1.3" fill="#2f5f30" opacity="0.45"/>
<rect x="261.62" y="49.55" width="1.3" height="1.3" fill="#2f5f30" opacity="0.36"/>
<rect x="125.47" y="59.86" width="1.3" height="1.3" fill="#2f5f30" opacity="0.21"/>
<rect x="186.3" y="63.79" width="1.3" height="1.3" fill="#2f5f30" opacity="0.35"/>
<rect x="122.13" y="57.32" width="1.3" height="1.3" fill="#2f5f30" opacity="0.27"/>
<rect x="276.19" y="53.6" width="1.3" height="1.3" fill="#2f5f30" opacity="0.22"/>
<rect x="209.45" y="50.93" width="1.3" height="1.3" fill="#2f5f30" opacity="0.34"/>
<rect x="277.34" y="57.22" width="1.3" height="1.3" fill="#2f5f30" opacity="0.21"/>
<rect x="169.61" y="57.54" width="1.3" height="1.3" fill="#2f5f30" opacity="0.16"/>
<rect x="94.26" y="51.1" width="1.3" height="1.3" fill="#2f5f30" opacity="0.22"/>
<rect x="156.44" y="53.61" width="1.3" height="1.3" fill="#2f5f30" opacity="0.2"/>
<rect x="86.33" y="57.74" width="1.3" height="1.3" fill="#2f5f30" opacity="0.44"/>
<rect x="201.19" y="58.12" width="1.3" height="1.3" fill="#2f5f30" opacity="0.36"/>
<rect x="111.26" y="60.37" width="1.3" height="1.3" fill="#2f5f30" opacity="0.28"/>
<rect x="187.57" y="58.8" width="1.3" height="1.3" fill="#2f5f30" opacity="0.29"/>
<rect x="135.31" y="52.88" width="1.3" height="1.3" fill="#2f5f30" opacity="0.19"/>
<rect x="179.74" y="55.13" width="1.3" height="1.3" fill="#2f5f30" opacity="0.33"/>
<rect x="69.61" y="54.64" width="1.3" height="1.3" fill="#2f5f30" opacity="0.44"/>
<rect x="119.48" y="57.91" width="1.3" height="1.3" fill="#2f5f30" opacity="0.3"/>
<rect x="129.66" y="64.8" width="1.3" height="1.3" fill="#2f5f30" opacity="0.22"/>
<rect x="236.87" y="51.54" width="1.3" height="1.3" fill="#2f5f30" opacity="0.13"/>
<rect x="258.68" y="56.04" width="1.3" height="1.3" fill="#2f5f30" opacity="0.12"/>
<rect x="152.34" y="56.04" width="1.3" height="1.3" fill="#2f5f30" opacity="0.39"/>
<rect x="91.03" y="52.6" width="1.3" height="1.3" fill="#2f5f30" opacity="0.48"/>
<rect x="229.5" y="51.47" width="1.3" height="1.3" fill="#2f5f30" opacity="0.23"/>
<rect x="144.54" y="59.81" width="1.3" height="1.3" fill="#2f5f30" opacity="0.35"/>
<rect x="254" y="62.14" width="1.3" height="1.3" fill="#2f5f30" opacity="0.31"/>
<rect x="229.53" y="60.89" width="1.3" height="1.3" fill="#2f5f30" opacity="0.4"/>
<rect x="171.55" y="61.56" width="1.3" height="1.3" fill="#2f5f30" opacity="0.38"/>
<rect x="268.24" y="51.04" width="1.3" height="1.3" fill="#2f5f30" opacity="0.45"/>
<rect x="67.95" y="61.25" width="1.3" height="1.3" fill="#2f5f30" opacity="0.33"/>
<rect x="176.53" y="64.4" width="1.3" height="1.3" fill="#2f5f30" opacity="0.33"/>
<rect x="158.94" y="61.54" width="1.3" height="1.3" fill="#2f5f30" opacity="0.45"/>
<rect x="200.61" y="55.07" width="1.3" height="1.3" fill="#2f5f30" opacity="0.28"/>
<rect x="167.74" y="60.57" width="1.3" height="1.3" fill="#2f5f30" opacity="0.22"/>
<rect x="152.95" y="57.89" width="1.3" height="1.3" fill="#2f5f30" opacity="0.25"/>
<rect x="137.84" y="61.59" width="1.3" height="1.3" fill="#2f5f30" opacity="0.44"/>
<rect x="176.9" y="56.1" width="1.3" height="1.3" fill="#2f5f30" opacity="0.17"/>
<rect x="133.89" y="51.32" width="1.3" height="1.3" fill="#2f5f30" opacity="0.33"/>
<rect x="194.95" y="50.41" width="1.3" height="1.3" fill="#2f5f30" opacity="0.47"/>
<rect x="138.25" y="62.49" width="1.3" height="1.3" fill="#2f5f30" opacity="0.44"/>
<rect x="277.93" y="52.27" width="1.3" height="1.3" fill="#2f5f30" opacity="0.27"/>
<rect x="267.33" y="49.17" width="1.3" height="1.3" fill="#2f5f30" opacity="0.12"/>
<rect x="191.29" y="56.96" width="1.3" height="1.3" fill="#2f5f30" opacity="0.47"/>
<rect x="237.17" y="57.62" width="1.3" height="1.3" fill="#2f5f30" opacity="0.5"/>
<rect x="180.84" y="57.28" width="1.3" height="1.3" fill="#2f5f30" opacity="0.37"/>
<rect x="152.69" y="54.72" width="1.3" height="1.3" fill="#2f5f30" opacity="0.34"/>
<rect x="144.24" y="64.17" width="1.3" height="1.3" fill="#2f5f30" opacity="0.37"/>
<rect x="182.55" y="50.58" width="1.3" height="1.3" fill="#2f5f30" opacity="0.25"/>
<rect x="155.2" y="57.98" width="1.3" height="1.3" fill="#2f5f30" opacity="0.33"/>
<rect x="260.56" y="64.43" width="1.3" height="1.3" fill="#2f5f30" opacity="0.29"/>
<rect x="163.84" y="58.99" width="1.3" height="1.3" fill="#2f5f30" opacity="0.5"/>
<rect x="142.52" y="57.48" width="1.3" height="1.3" fill="#2f5f30" opacity="0.43"/>
<rect x="104.56" y="54.09" width="1.3" height="1.3" fill="#2f5f30" opacity="0.49"/>
<rect x="248.73" y="57.2" width="1.3" height="1.3" fill="#2f5f30" opacity="0.14"/>
<rect x="263.79" y="60.04" width="1.3" height="1.3" fill="#2f5f30" opacity="0.43"/>
<rect x="284.85" y="63.21" width="1.3" height="1.3" fill="#2f5f30" opacity="0.27"/>
<rect x="101.41" y="53.64" width="1.3" height="1.3" fill="#2f5f30" opacity="0.3"/>
<rect x="178.08" y="52.01" width="1.3" height="1.3" fill="#2f5f30" opacity="0.17"/>
<rect x="205.62" y="58.65" width="1.3" height="1.3" fill="#2f5f30" opacity="0.24"/>
<rect x="285.62" y="59.18" width="1.3" height="1.3" fill="#2f5f30" opacity="0.12"/>
<rect x="157.51" y="61.6" width="1.3" height="1.3" fill="#2f5f30" opacity="0.22"/>
<rect x="218.95" y="49.06" width="1.3" height="1.3" fill="#2f5f30" opacity="0.22"/>
<rect x="252.27" y="58.38" width="1.3" height="1.3" fill="#2f5f30" opacity="0.37"/>
<rect x="110.26" y="56.97" width="1.3" height="1.3" fill="#2f5f30" opacity="0.32"/>
<rect x="125.52" y="59.35" width="1.3" height="1.3" fill="#2f5f30" opacity="0.31"/>
<rect x="286.36" y="58.19" width="1.3" height="1.3" fill="#2f5f30" opacity="0.26"/>
<rect x="93.73" y="51.51" width="1.3" height="1.3" fill="#2f5f30" opacity="0.4"/>
<rect x="90.46" y="50.6" width="1.3" height="1.3" fill="#2f5f30" opacity="0.17"/>
<rect x="181.95" y="62.17" width="1.3" height="1.3" fill="#2f5f30" opacity="0.35"/>
<rect x="244.45" y="49.99" width="1.3" height="1.3" fill="#2f5f30" opacity="0.1"/>
<rect x="236.53" y="54.17" width="1.3" height="1.3" fill="#2f5f30" opacity="0.39"/>
<rect x="144.85" y="51.71" width="1.3" height="1.3" fill="#2f5f30" opacity="0.21"/>
<rect x="88.88" y="63.46" width="1.3" height="1.3" fill="#2f5f30" opacity="0.33"/>
<rect x="143.76" y="56.2" width="1.3" height="1.3" fill="#2f5f30" opacity="0.25"/>
<rect x="79.03" y="63.25" width="1.3" height="1.3" fill="#2f5f30" opacity="0.33"/>
<rect x="278.11" y="56.03" width="1.3" height="1.3" fill="#2f5f30" opacity="0.35"/>
<rect x="121.85" y="49.7" width="1.3" height="1.3" fill="#2f5f30" opacity="0.47"/>
<rect x="255.04" y="54.04" width="1.3" height="1.3" fill="#2f5f30" opacity="0.46"/>
<rect x="246.5" y="53.86" width="1.3" height="1.3" fill="#2f5f30" opacity="0.34"/>
<rect x="278.21" y="56.93" width="1.3" height="1.3" fill="#2f5f30" opacity="0.48"/>
<rect x="120.44" y="55.24" width="1.3" height="1.3" fill="#2f5f30" opacity="0.39"/>
<rect x="115.71" y="53.95" width="1.3" height="1.3" fill="#2f5f30" opacity="0.45"/>
<rect x="173.57" y="61.68" width="1.3" height="1.3" fill="#2f5f30" opacity="0.2"/>
<rect x="105.16" y="54.73" width="1.3" height="1.3" fill="#2f5f30" opacity="0.17"/>
<rect x="280.74" y="53.65" width="1.3" height="1.3" fill="#2f5f30" opacity="0.32"/>
<rect x="92.27" y="57.54" width="1.3" height="1.3" fill="#2f5f30" opacity="0.25"/>
<rect x="155.7" y="50.05" width="1.3" height="1.3" fill="#2f5f30" opacity="0.15"/>
<rect x="248.68" y="54.62" width="1.3" height="1.3" fill="#2f5f30" opacity="0.2"/>
<rect x="109.06" y="53.54" width="1.3" height="1.3" fill="#2f5f30" opacity="0.19"/>
<rect x="74.68" y="59.63" width="1.3" height="1.3" fill="#2f5f30" opacity="0.24"/>
<rect x="101.3" y="60.29" width="1.3" height="1.3" fill="#2f5f30" opacity="0.14"/>
<rect x="126.33" y="62.36" width="1.3" height="1.3" fill="#2f5f30" opacity="0.15"/>
<rect x="164.53" y="62.38" width="1.3" height="1.3" fill="#2f5f30" opacity="0.42"/>
<rect x="102.03" y="54.65" width="1.3" height="1.3" fill="#2f5f30" opacity="0.39"/>
<rect x="149.92" y="64.33" width="1.3" height="1.3" fill="#2f5f30" opacity="0.18"/>
<rect x="276.21" y="57.08" width="1.3" height="1.3" fill="#2f5f30" opacity="0.19"/>
<rect x="166.59" y="51.1" width="1.3" height="1.3" fill="#2f5f30" opacity="0.38"/>
<rect x="124.37" y="63.39" width="1.3" height="1.3" fill="#2f5f30" opacity="0.34"/>
<rect x="147.96" y="52.94" width="1.3" height="1.3" fill="#2f5f30" opacity="0.34"/>
<rect x="113.76" y="62.96" width="1.3" height="1.3" fill="#2f5f30" opacity="0.15"/>
<rect x="179.87" y="57.68" width="1.3" height="1.3" fill="#2f5f30" opacity="0.21"/>
<rect x="236.78" y="55.16" width="1.3" height="1.3" fill="#2f5f30" opacity="0.36"/>
<rect x="191.89" y="53.97" width="1.3" height="1.3" fill="#2f5f30" opacity="0.26"/>
<rect x="85.93" y="51.83" width="1.3" height="1.3" fill="#2f5f30" opacity="0.44"/>
<rect x="137.63" y="59.6" width="1.3" height="1.3" fill="#2f5f30" opacity="0.14"/>
<rect x="190.64" y="54.78" width="1.3" height="1.3" fill="#2f5f30" opacity="0.3"/>
<rect x="132.33" y="50.05" width="1.3" height="1.3" fill="#2f5f30" opacity="0.22"/>
<rect x="116.81" y="51.02" width="1.3" height="1.3" fill="#2f5f30" opacity="0.39"/>
<rect x="129.12" y="55.45" width="1.3" height="1.3" fill="#2f5f30" opacity="0.46"/>
<rect x="237.5" y="63.12" width="1.3" height="1.3" fill="#2f5f30" opacity="0.44"/>
<rect x="96.08" y="53.42" width="1.3" height="1.3" fill="#2f5f30" opacity="0.11"/>
<rect x="216.52" y="59.62" width="1.3" height="1.3" fill="#2f5f30" opacity="0.24"/>
<rect x="157.77" y="59.55" width="1.3" height="1.3" fill="#2f5f30" opacity="0.38"/>
<rect x="121.65" y="62.55" width="1.3" height="1.3" fill="#2f5f30" opacity="0.24"/>
<rect x="205.34" y="51.91" width="1.3" height="1.3" fill="#2f5f30" opacity="0.15"/>
<rect x="267.79" y="60.74" width="1.3" height="1.3" fill="#2f5f30" opacity="0.39"/>
<rect x="75.9" y="49.64" width="1.3" height="1.3" fill="#2f5f30" opacity="0.16"/>
<rect x="110.58" y="53.85" width="1.3" height="1.3" fill="#2f5f30" opacity="0.25"/>
<rect x="75.63" y="53.97" width="1.3" height="1.3" fill="#2f5f30" opacity="0.36"/>
<rect x="106.53" y="62.43" width="1.3" height="1.3" fill="#2f5f30" opacity="0.33"/>
<rect x="224.66" y="53.08" width="1.3" height="1.3" fill="#2f5f30" opacity="0.27"/>
<rect x="217.55" y="54.58" width="1.3" height="1.3" fill="#2f5f30" opacity="0.1"/>
<rect x="250.54" y="61.42" width="1.3" height="1.3" fill="#2f5f30" opacity="0.21"/>
<rect x="76.45" y="62.67" width="1.3" height="1.3" fill="#2f5f30" opacity="0.34"/>
<rect x="77.42" y="52.91" width="1.3" height="1.3" fill="#2f5f30" opacity="0.14"/>
<rect x="241.12" y="52.36" width="1.3" height="1.3" fill="#2f5f30" opacity="0.47"/>
<rect x="231.9" y="50.38" width="1.3" height="1.3" fill="#2f5f30" opacity="0.38"/>
<rect x="153.6" y="60.96" width="1.3" height="1.3" fill="#2f5f30" opacity="0.43"/>
<rect x="128.86" y="50.44" width="1.3" height="1.3" fill="#2f5f30" opacity="0.48"/>
<rect x="160.27" y="63.88" width="1.3" height="1.3" fill="#2f5f30" opacity="0.38"/>
<rect x="229.49" y="62.28" width="1.3" height="1.3" fill="#2f5f30" opacity="0.35"/>
<rect x="166.61" y="49.87" width="1.3" height="1.3" fill="#2f5f30" opacity="0.38"/>
<rect x="161.24" y="57.19" width="1.3" height="1.3" fill="#2f5f30" opacity="0.47"/>
<rect x="95.08" y="61.19" width="1.3" height="1.3" fill="#2f5f30" opacity="0.12"/>
<rect x="221.6" y="61.89" width="1.3" height="1.3" fill="#2f5f30" opacity="0.2"/>
<rect x="187.21" y="64.51" width="1.3" height="1.3" fill="#2f5f30" opacity="0.36"/>
<rect x="186.66" y="53" width="1.3" height="1.3" fill="#2f5f30" opacity="0.12"/>
<rect x="145.72" y="55.59" width="1.3" height="1.3" fill="#2f5f30" opacity="0.18"/>
<rect x="135.32" y="51.18" width="1.3" height="1.3" fill="#2f5f30" opacity="0.38"/>
<rect x="214.47" y="52.81" width="1.3" height="1.3" fill="#2f5f30" opacity="0.2"/>
<rect x="180.38" y="56.12" width="1.3" height="1.3" fill="#2f5f30" opacity="0.47"/>
<rect x="144.32" y="53.79" width="1.3" height="1.3" fill="#2f5f30" opacity="0.45"/>
<rect x="98.22" y="58.01" width="1.3" height="1.3" fill="#2f5f30" opacity="0.23"/>
<rect x="246.39" y="57.77" width="1.3" height="1.3" fill="#2f5f30" opacity="0.4"/>
<rect x="104.23" y="59.66" width="1.3" height="1.3" fill="#2f5f30" opacity="0.34"/>
<rect x="168.46" y="61.26" width="1.3" height="1.3" fill="#2f5f30" opacity="0.43"/>
<rect x="92.19" y="53.63" width="1.3" height="1.3" fill="#2f5f30" opacity="0.24"/>
<rect x="112.42" y="49.97" width="1.3" height="1.3" fill="#2f5f30" opacity="0.21"/>
<rect x="110.36" y="60.23" width="1.3" height="1.3" fill="#2f5f30" opacity="0.28"/>
<rect x="91.86" y="54.19" width="1.3" height="1.3" fill="#2f5f30" opacity="0.29"/>
<rect x="146.85" y="51.69" width="1.3" height="1.3" fill="#2f5f30" opacity="0.13"/>
<rect x="69.38" y="64.87" width="1.3" height="1.3" fill="#2f5f30" opacity="0.4"/>
<rect x="85.47" y="60.47" width="1.3" height="1.3" fill="#2f5f30" opacity="0.49"/>
<rect x="191" y="50.74" width="1.3" height="1.3" fill="#2f5f30" opacity="0.3"/>
<rect x="162.53" y="52.04" width="1.3" height="1.3" fill="#2f5f30" opacity="0.32"/>
<rect x="68.83" y="63.71" width="1.3" height="1.3" fill="#2f5f30" opacity="0.36"/>
<rect x="205.1" y="63.96" width="1.3" height="1.3" fill="#2f5f30" opacity="0.36"/>
<rect x="122.31" y="52.94" width="1.3" height="1.3" fill="#2f5f30" opacity="0.16"/>
<rect x="73.09" y="61.39" width="1.3" height="1.3" fill="#2f5f30" opacity="0.44"/>
<rect x="132.19" y="51.97" width="1.3" height="1.3" fill="#2f5f30" opacity="0.36"/>
<rect x="253.06" y="63.83" width="1.3" height="1.3" fill="#2f5f30" opacity="0.17"/>
<rect x="239.62" y="62.29" width="1.3" height="1.3" fill="#2f5f30" opacity="0.4"/>
<rect x="138.87" y="51.95" width="1.3" height="1.3" fill="#2f5f30" opacity="0.43"/>
<rect x="137.43" y="54.9" width="1.3" height="1.3" fill="#2f5f30" opacity="0.32"/>
<rect x="148.24" y="62.3" width="1.3" height="1.3" fill="#2f5f30" opacity="0.2"/>
<rect x="76.08" y="58.07" width="1.3" height="1.3" fill="#2f5f30" opacity="0.35"/>
<rect x="247.34" y="60.29" width="1.3" height="1.3" fill="#2f5f30" opacity="0.46"/>
<rect x="274.89" y="56.91" width="1.3" height="1.3" fill="#2f5f30" opacity="0.3"/>
<rect x="101.65" y="53.79" width="1.3" height="1.3" fill="#2f5f30" opacity="0.33"/>
<rect x="84.65" y="60.01" width="1.3" height="1.3" fill="#2f5f30" opacity="0.17"/>
<rect x="164.5" y="64.52" width="1.3" height="1.3" fill="#2f5f30" opacity="0.14"/>
<rect x="75.79" y="56.03" width="1.3" height="1.3" fill="#2f5f30" opacity="0.18"/>
<rect x="226.05" y="49.04" width="1.3" height="1.3" fill="#2f5f30" opacity="0.44"/>
<rect x="255.17" y="61.59" width="1.3" height="1.3" fill="#2f5f30" opacity="0.27"/>
<rect x="129.32" y="59.59" width="1.3" height="1.3" fill="#2f5f30" opacity="0.31"/>
<rect x="159.67" y="54.42" width="1.3" height="1.3" fill="#2f5f30" opacity="0.28"/>
<rect x="213.54" y="62.22" width="1.3" height="1.3" fill="#2f5f30" opacity="0.46"/>
<rect x="103.18" y="53.73" width="1.3" height="1.3" fill="#2f5f30" opacity="0.28"/>
<rect x="190.94" y="54.57" width="1.3" height="1.3" fill="#2f5f30" opacity="0.18"/>
<rect x="85.71" y="54.18" width="1.3" height="1.3" fill="#2f5f30" opacity="0.28"/>
<rect x="280.69" y="63.54" width="1.3" height="1.3" fill="#2f5f30" opacity="0.45"/>
<rect x="281.36" y="64.39" width="1.3" height="1.3" fill="#2f5f30" opacity="0.35"/>
<rect x="245.45" y="49.96" width="1.3" height="1.3" fill="#2f5f30" opacity="0.37"/>
<rect x="201.01" y="53.75" width="1.3" height="1.3" fill="#2f5f30" opacity="0.33"/>
<rect x="276.62" y="56.69" width="1.3" height="1.3" fill="#2f5f30" opacity="0.36"/>
<rect x="132.85" y="54.49" width="1.3" height="1.3" fill="#2f5f30" opacity="0.45"/>
<rect x="73.13" y="52.02" width="1.3" height="1.3" fill="#2f5f30" opacity="0.37"/>
<rect x="165.42" y="50.36" width="1.3" height="1.3" fill="#2f5f30" opacity="0.36"/>
<rect x="148.84" y="58.29" width="1.3" height="1.3" fill="#2f5f30" opacity="0.27"/>
<rect x="183.6" y="58.04" width="1.3" height="1.3" fill="#2f5f30" opacity="0.26"/>
<rect x="92.14" y="51.89" width="1.3" height="1.3" fill="#2f5f30" opacity="0.46"/>
<rect x="187.59" y="50.8" width="1.3" height="1.3" fill="#2f5f30" opacity="0.44"/>
<rect x="122.77" y="50.52" width="1.3" height="1.3" fill="#2f5f30" opacity="0.31"/>
<rect x="122.34" y="56.83" width="1.3" height="1.3" fill="#2f5f30" opacity="0.32"/>
<rect x="116.84" y="58.16" width="1.3" height="1.3" fill="#2f5f30" opacity="0.15"/>
<rect x="179.9" y="58.42" width="1.3" height="1.3" fill="#2f5f30" opacity="0.13"/>
<rect x="156.77" y="50.18" width="1.3" height="1.3" fill="#2f5f30" opacity="0.28"/>
<rect x="256.96" y="57.81" width="1.3" height="1.3" fill="#2f5f30" opacity="0.39"/>
<rect x="233.52" y="50.83" width="1.3" height="1.3" fill="#2f5f30" opacity="0.5"/>
<rect x="225.75" y="50.63" width="1.3" height="1.3" fill="#2f5f30" opacity="0.43"/>
<rect x="153.23" y="51.74" width="1.3" height="1.3" fill="#2f5f30" opacity="0.48"/>
<rect x="190.87" y="61.4" width="1.3" height="1.3" fill="#2f5f30" opacity="0.15"/>
<rect x="237.76" y="49.92" width="1.3" height="1.3" fill="#2f5f30" opacity="0.19"/>
<rect x="148.92" y="49.24" width="1.3" height="1.3" fill="#2f5f30" opacity="0.34"/>
<rect x="113.89" y="53.8" width="1.3" height="1.3" fill="#2f5f30" opacity="0.38"/>
<rect x="160.71" y="63.22" width="1.3" height="1.3" fill="#2f5f30" opacity="0.35"/>
<rect x="258.87" y="58.01" width="1.3" height="1.3" fill="#2f5f30" opacity="0.47"/>
<rect x="258.57" y="51.69" width="1.3" height="1.3" fill="#2f5f30" opacity="0.4"/>
<rect x="142.11" y="61.22" width="1.3" height="1.3" fill="#2f5f30" opacity="0.37"/>
<rect x="248.64" y="50.96" width="1.3" height="1.3" fill="#2f5f30" opacity="0.25"/>
<rect x="229.19" y="64.17" width="1.3" height="1.3" fill="#2f5f30" opacity="0.39"/>
<rect x="76.57" y="58.66" width="1.3" height="1.3" fill="#2f5f30" opacity="0.14"/>
<rect x="187.74" y="61.85" width="1.3" height="1.3" fill="#2f5f30" opacity="0.15"/>
<rect x="270.58" y="59.8" width="1.3" height="1.3" fill="#2f5f30" opacity="0.2"/>
<rect x="109.49" y="56.15" width="1.3" height="1.3" fill="#2f5f30" opacity="0.44"/>
<rect x="194.9" y="50.82" width="1.3" height="1.3" fill="#2f5f30" opacity="0.11"/>
<rect x="91.29" y="61.81" width="1.3" height="1.3" fill="#2f5f30" opacity="0.17"/>
<rect x="188.93" y="53.64" width="1.3" height="1.3" fill="#2f5f30" opacity="0.37"/>
<rect x="150.78" y="51.31" width="1.3" height="1.3" fill="#2f5f30" opacity="0.45"/>
<rect x="185.46" y="60.03" width="1.3" height="1.3" fill="#2f5f30" opacity="0.42"/>
<rect x="275.73" y="49.22" width="1.3" height="1.3" fill="#2f5f30" opacity="0.24"/>
<rect x="100.21" y="57.03" width="1.3" height="1.3" fill="#2f5f30" opacity="0.45"/>
<rect x="243.1" y="49.57" width="1.3" height="1.3" fill="#2f5f30" opacity="0.17"/>
<rect x="247.03" y="59.87" width="1.3" height="1.3" fill="#2f5f30" opacity="0.26"/>
<rect x="171.67" y="51.53" width="1.3" height="1.3" fill="#2f5f30" opacity="0.44"/>
<rect x="153.55" y="62.97" width="1.3" height="1.3" fill="#2f5f30" opacity="0.34"/>
<rect x="83.69" y="54.27" width="1.3" height="1.3" fill="#2f5f30" opacity="0.19"/>
<rect x="263.68" y="58.43" width="1.3" height="1.3" fill="#2f5f30" opacity="0.12"/>
<rect x="104.34" y="54.78" width="1.3" height="1.3" fill="#2f5f30" opacity="0.29"/>
<rect x="193.95" y="55.21" width="1.3" height="1.3" fill="#2f5f30" opacity="0.24"/>
<rect x="68.32" y="58.27" width="1.3" height="1.3" fill="#2f5f30" opacity="0.23"/>
<rect x="71.51" y="56.35" width="1.3" height="1.3" fill="#2f5f30" opacity="0.49"/>
<rect x="76.98" y="51.33" width="1.3" height="1.3" fill="#2f5f30" opacity="0.37"/>
<rect x="126.99" y="53.37" width="1.3" height="1.3" fill="#2f5f30" opacity="0.3"/>
<rect x="124.65" y="58.1" width="1.3" height="1.3" fill="#2f5f30" opacity="0.31"/>
<rect x="277.53" y="64.87" width="1.3" height="1.3" fill="#2f5f30" opacity="0.11"/>
<rect x="190.34" y="61.33" width="1.3" height="1.3" fill="#2f5f30" opacity="0.45"/>
<rect x="237.35" y="59.13" width="1.3" height="1.3" fill="#2f5f30" opacity="0.35"/>
<rect x="146.84" y="53.51" width="1.3" height="1.3" fill="#2f5f30" opacity="0.42"/>
<rect x="259.02" y="64.02" width="1.3" height="1.3" fill="#2f5f30" opacity="0.37"/>
<rect x="133.88" y="61.21" width="1.3" height="1.3" fill="#2f5f30" opacity="0.4"/>
<rect x="178.96" y="59.16" width="1.3" height="1.3" fill="#2f5f30" opacity="0.24"/>
<rect x="188.16" y="55.5" width="1.3" height="1.3" fill="#2f5f30" opacity="0.12"/>
<rect x="141.19" y="54.17" width="1.3" height="1.3" fill="#2f5f30" opacity="0.5"/>
<rect x="172.92" y="54.88" width="1.3" height="1.3" fill="#2f5f30" opacity="0.2"/>
<rect x="118.66" y="54.59" width="1.3" height="1.3" fill="#2f5f30" opacity="0.15"/>
<rect x="68.59" y="62.94" width="1.3" height="1.3" fill="#2f5f30" opacity="0.28"/>
<rect x="165.01" y="58.1" width="1.3" height="1.3" fill="#2f5f30" opacity="0.22"/>
<rect x="104.16" y="50.06" width="1.3" height="1.3" fill="#2f5f30" opacity="0.22"/>
<rect x="134.87" y="60.63" width="1.3" height="1.3" fill="#2f5f30" opacity="0.32"/>
<rect x="273.23" y="54.45" width="1.3" height="1.3" fill="#2f5f30" opacity="0.47"/>
<rect x="195.34" y="50.28" width="1.3" height="1.3" fill="#2f5f30" opacity="0.17"/>
<rect x="194.71" y="64.8" width="1.3" height="1.3" fill="#2f5f30" opacity="0.24"/>
<rect x="237.38" y="55.85" width="1.3" height="1.3" fill="#2f5f30" opacity="0.45"/>
</g>
<g filter="url(#blr2)">
<circle cx="81.27" cy="38.38" r="1.5" fill="#ff3a30"/>
<circle cx="90.2" cy="38.13" r="1.5" fill="#ff3a30"/>
<circle cx="97.66" cy="37.83" r="1.5" fill="#ff3a30"/>
<circle cx="105.66" cy="38.12" r="1.5" fill="#ff3a30"/>
<circle cx="114.3" cy="38.06" r="1.5" fill="#ff3a30"/>
<circle cx="122.1" cy="38.04" r="1.5" fill="#ff3a30"/>
<circle cx="130.4" cy="38.84" r="1.5" fill="#ff3a30"/>
<circle cx="138.55" cy="38.04" r="1.5" fill="#ff3a30"/>
<circle cx="146.73" cy="38.96" r="1.5" fill="#ff3a30"/>
<circle cx="154.7" cy="37.9" r="1.5" fill="#ff3a30"/>
<circle cx="163.01" cy="38.85" r="1.5" fill="#ff3a30"/>
<circle cx="170.64" cy="37.96" r="1.5" fill="#ff3a30"/>
<circle cx="178.59" cy="38.44" r="1.5" fill="#ff3a30"/>
<circle cx="187.38" cy="38.57" r="1.5" fill="#ff3a30"/>
<circle cx="195.52" cy="38.05" r="1.5" fill="#ff3a30"/>
<circle cx="203.03" cy="38.7" r="1.5" fill="#ff3a30"/>
<circle cx="211.45" cy="38.29" r="1.5" fill="#ff3a30"/>
<circle cx="219.58" cy="38.21" r="1.5" fill="#ff3a30"/>
<circle cx="227.06" cy="38.3" r="1.5" fill="#ff3a30"/>
<circle cx="235.15" cy="38.55" r="1.5" fill="#ff3a30"/>
<circle cx="243.53" cy="38.39" r="1.5" fill="#ff3a30"/>
<circle cx="251.9" cy="38.11" r="1.5" fill="#ff3a30"/>
<circle cx="259.86" cy="37.82" r="1.5" fill="#ff3a30"/>
<circle cx="268.43" cy="38.48" r="1.5" fill="#ff3a30"/>
</g>
<g filter="url(#blr)">
<circle cx="81.27" cy="38.38" r="2.2" fill="#c01818" opacity="0.5"/>
<circle cx="90.2" cy="38.13" r="2.2" fill="#c01818" opacity="0.5"/>
<circle cx="97.66" cy="37.83" r="2.2" fill="#c01818" opacity="0.5"/>
<circle cx="105.66" cy="38.12" r="2.2" fill="#c01818" opacity="0.5"/>
<circle cx="114.3" cy="38.06" r="2.2" fill="#c01818" opacity="0.5"/>
<circle cx="122.1" cy="38.04" r="2.2" fill="#c01818" opacity="0.5"/>
<circle cx="130.4" cy="38.84" r="2.2" fill="#c01818" opacity="0.5"/>
<circle cx="138.55" cy="38.04" r="2.2" fill="#c01818" opacity="0.5"/>
<circle cx="146.73" cy="38.96" r="2.2" fill="#c01818" opacity="0.5"/>
<circle cx="154.7" cy="37.9" r="2.2" fill="#c01818" opacity="0.5"/>
<circle cx="163.01" cy="38.85" r="2.2" fill="#c01818" opacity="0.5"/>
<circle cx="170.64" cy="37.96" r="2.2" fill="#c01818" opacity="0.5"/>
<circle cx="178.59" cy="38.44" r="2.2" fill="#c01818" opacity="0.5"/>
<circle cx="187.38" cy="38.57" r="2.2" fill="#c01818" opacity="0.5"/>
<circle cx="195.52" cy="38.05" r="2.2" fill="#c01818" opacity="0.5"/>
<circle cx="203.03" cy="38.7" r="2.2" fill="#c01818" opacity="0.5"/>
<circle cx="211.45" cy="38.29" r="2.2" fill="#c01818" opacity="0.5"/>
<circle cx="219.58" cy="38.21" r="2.2" fill="#c01818" opacity="0.5"/>
<circle cx="227.06" cy="38.3" r="2.2" fill="#c01818" opacity="0.5"/>
<circle cx="235.15" cy="38.55" r="2.2" fill="#c01818" opacity="0.5"/>
<circle cx="243.53" cy="38.39" r="2.2" fill="#c01818" opacity="0.5"/>
<circle cx="251.9" cy="38.11" r="2.2" fill="#c01818" opacity="0.5"/>
<circle cx="259.86" cy="37.82" r="2.2" fill="#c01818" opacity="0.5"/>
<circle cx="268.43" cy="38.48" r="2.2" fill="#c01818" opacity="0.5"/>
<circle cx="90.5" cy="44" r="1.8" fill="#d02020" opacity="0.7"/>
<circle cx="98" cy="35" r="1.2" fill="#d02020" opacity="0.6"/>
<ellipse cx="143.1" cy="57.7" rx="2.6" ry="2.8" fill="#38c848" opacity="0.38"/>
<ellipse cx="149.5" cy="57.7" rx="2.6" ry="2.8" fill="#38c848" opacity="0.47"/>
<ellipse cx="157.9" cy="57.7" rx="2.6" ry="2.8" fill="#38c848" opacity="0.68"/>
<ellipse cx="165.9" cy="57.7" rx="2.6" ry="2.8" fill="#38c848" opacity="0.77"/>
<ellipse cx="173.9" cy="57.7" rx="2.6" ry="2.8" fill="#38c848" opacity="0.85"/>
<ellipse cx="176" cy="57.7" rx="2.6" ry="2.8" fill="#38c848" opacity="0.77"/>
<ellipse cx="184" cy="57.7" rx="2.6" ry="2.8" fill="#38c848" opacity="0.85"/>
<ellipse cx="192.6" cy="57.7" rx="2.6" ry="2.8" fill="#38c848" opacity="0.85"/>
<ellipse cx="200.6" cy="57.7" rx="2.6" ry="2.8" fill="#38c848" opacity="0.85"/>
<ellipse cx="208" cy="57.7" rx="2.6" ry="2.8" fill="#38c848" opacity="0.81"/>
<ellipse cx="216.8" cy="57.7" rx="2.6" ry="2.8" fill="#38c848" opacity="0.59"/>
<ellipse cx="223.4" cy="57.7" rx="2.6" ry="2.8" fill="#38c848" opacity="0.51"/>
<ellipse cx="230.9" cy="57.7" rx="2.6" ry="2.8" fill="#38c848" opacity="0.47"/>
<ellipse cx="239.2" cy="57.7" rx="2.6" ry="2.8" fill="#38c848" opacity="0.38"/>
<ellipse cx="247.6" cy="57.7" rx="2.6" ry="2.8" fill="#38c848" opacity="0.3"/>
<ellipse cx="255" cy="57.7" rx="2.6" ry="2.8" fill="#38c848" opacity="0.26"/>
</g>
<g filter="url(#blr2)">
<ellipse cx="157.9" cy="57.5" rx="2.2" ry="2.0" fill="#f4fff4" opacity="0.76"/>
<ellipse cx="165.9" cy="57.5" rx="2.2" ry="2.0" fill="#f4fff4" opacity="0.85"/>
<ellipse cx="173.9" cy="57.5" rx="2.2" ry="2.0" fill="#f4fff4" opacity="0.95"/>
<ellipse cx="176" cy="57.5" rx="2.2" ry="2.0" fill="#f4fff4" opacity="0.85"/>
<ellipse cx="184" cy="57.5" rx="2.2" ry="2.0" fill="#f4fff4" opacity="0.95"/>
<ellipse cx="192.6" cy="57.5" rx="2.2" ry="2.0" fill="#f4fff4" opacity="0.95"/>
<ellipse cx="200.6" cy="57.5" rx="2.2" ry="2.0" fill="#f4fff4" opacity="0.95"/>
<ellipse cx="208" cy="57.5" rx="2.2" ry="2.0" fill="#f4fff4" opacity="0.9"/>
</g>
<rect x="281" y="30.4" width="6" height="1.3" fill="#fff" />
<line x1="81" y1="27.5" x2="81" y2="66" stroke="#b8b8b8" stroke-width="1.4" stroke-dasharray="3.6,1.8"/>
<line x1="268" y1="27.5" x2="268" y2="66" stroke="#b8b8b8" stroke-width="1.4" stroke-dasharray="3.6,1.8"/>
<rect x="80.2" y="68.1" width="55.8" height="5.3" fill="#f6b8a2" />
<rect x="136" y="68.1" width="132" height="5.3" fill="#187a3c" />
<line x1="81" y1="80.5" x2="136" y2="80.5" stroke="#666" stroke-width="2.6" />
<line x1="81" y1="75.4" x2="81" y2="85.4" stroke="#666" stroke-width="1.6" />
<line x1="136" y1="75.4" x2="136" y2="85.4" stroke="#666" stroke-width="1.6" />
<text x="86" y="93" font-size="20" fill="#231f20" font-family="Liberation Serif" font-style="italic">τ</text>
<text x="96.6" y="97" font-size="12.4" text-anchor="start" font-weight="normal" fill="#231f20" >delay</text>
<line x1="151.8" y1="89" x2="142.09" y2="79.94" stroke="#111" stroke-width="2.6" />
<polygon points="138.3,76.4 146.16,78.53 142.09,79.94 140.97,84.09" fill="#111"/>
<text x="154" y="94" font-size="14.25" text-anchor="start" font-weight="normal" fill="#231f20" >LAT condensation</text>
<g shape-rendering="crispEdges">
<rect x="58.3" y="101.7" width="2.99" height="0.6" fill="#e07b71"/>
<rect x="58.3" y="102.25" width="3" height="0.6" fill="#e07b71"/>
<rect x="58.3" y="102.81" width="3" height="0.6" fill="#e07b71"/>
<rect x="58.3" y="103.36" width="3.02" height="0.6" fill="#e07b71"/>
<rect x="58.3" y="103.91" width="3.02" height="0.6" fill="#e07b71"/>
<rect x="58.3" y="104.47" width="3.02" height="0.6" fill="#e07b71"/>
<rect x="58.3" y="105.02" width="3.03" height="0.6" fill="#e07b71"/>
<rect x="58.3" y="105.57" width="3.03" height="0.6" fill="#e07b71"/>
<rect x="58.3" y="106.13" width="3.04" height="0.6" fill="#e07b71"/>
<rect x="58.3" y="106.68" width="3.04" height="0.6" fill="#e07b71"/>
<rect x="58.3" y="107.23" width="3.06" height="0.6" fill="#e07b71"/>
<rect x="58.3" y="107.79" width="3.06" height="0.6" fill="#e07b71"/>
<rect x="58.3" y="108.34" width="3.06" height="0.6" fill="#e07b71"/>
<rect x="58.3" y="108.89" width="3.06" height="0.6" fill="#e07b71"/>
<rect x="58.3" y="109.45" width="3.07" height="0.6" fill="#e07b71"/>
<rect x="58.3" y="110" width="3.07" height="0.6" fill="#e07b71"/>
<rect x="58.3" y="110.55" width="3.08" height="0.6" fill="#e07b71"/>
<rect x="58.3" y="111.11" width="3.08" height="0.6" fill="#e07b71"/>
<rect x="58.3" y="111.66" width="3.1" height="0.6" fill="#e07b71"/>
<rect x="58.3" y="112.21" width="3.11" height="0.6" fill="#e07b71"/>
<rect x="58.3" y="112.77" width="3.12" height="0.6" fill="#e07b71"/>
<rect x="58.3" y="113.32" width="3.13" height="0.6" fill="#e07b71"/>
<rect x="58.3" y="113.87" width="3.15" height="0.6" fill="#e07b71"/>
<rect x="58.3" y="114.43" width="3.15" height="0.6" fill="#e07b71"/>
<rect x="58.3" y="114.98" width="3.16" height="0.6" fill="#e07b71"/>
<rect x="58.3" y="115.53" width="3.16" height="0.6" fill="#e07b71"/>
<rect x="58.3" y="116.09" width="3.16" height="0.6" fill="#e07b71"/>
<rect x="58.3" y="116.64" width="3.17" height="0.6" fill="#e07b71"/>
<rect x="58.3" y="117.19" width="3.17" height="0.6" fill="#e07b71"/>
<rect x="58.3" y="117.75" width="3.2" height="0.6" fill="#e07b71"/>
<rect x="58.3" y="118.3" width="3.22" height="0.6" fill="#e07b71"/>
<rect x="58.3" y="118.85" width="3.22" height="0.6" fill="#e07b71"/>
<rect x="58.3" y="119.41" width="3.23" height="0.6" fill="#e07b71"/>
<rect x="58.3" y="119.96" width="3.24" height="0.6" fill="#e07b71"/>
<rect x="58.3" y="120.51" width="3.24" height="0.6" fill="#e07b71"/>
<rect x="58.3" y="121.07" width="3.26" height="0.6" fill="#e07b71"/>
<rect x="58.3" y="121.62" width="3.26" height="0.6" fill="#e07b71"/>
<rect x="58.3" y="122.17" width="3.27" height="0.6" fill="#e07b71"/>
<rect x="58.3" y="122.73" width="3.27" height="0.6" fill="#e07b71"/>
<rect x="58.3" y="123.28" width="3.29" height="0.6" fill="#e07b71"/>
<rect x="58.3" y="123.83" width="3.3" height="0.6" fill="#e07b71"/>
<rect x="58.3" y="124.39" width="3.3" height="0.6" fill="#e07b71"/>
<rect x="58.3" y="124.94" width="3.31" height="0.6" fill="#e07b71"/>
<rect x="58.3" y="125.49" width="3.32" height="0.6" fill="#e07b71"/>
<rect x="58.3" y="126.05" width="3.32" height="0.6" fill="#e07b71"/>
<rect x="58.3" y="126.6" width="3.35" height="0.6" fill="#e07b71"/>
<rect x="58.3" y="127.15" width="3.36" height="0.6" fill="#e07b71"/>
<rect x="58.3" y="127.71" width="3.36" height="0.6" fill="#e07b71"/>
<rect x="58.3" y="128.26" width="3.36" height="0.6" fill="#e07b71"/>
<rect x="58.3" y="128.81" width="3.37" height="0.6" fill="#e07b71"/>
<rect x="58.3" y="129.37" width="3.37" height="0.6" fill="#e07b71"/>
<rect x="58.3" y="129.92" width="3.38" height="0.6" fill="#e07b71"/>
<rect x="58.3" y="130.47" width="3.38" height="0.6" fill="#e07b71"/>
<rect x="58.3" y="131.02" width="3.38" height="0.6" fill="#e07b71"/>
<rect x="58.3" y="131.58" width="3.38" height="0.6" fill="#e07b71"/>
<rect x="58.3" y="132.13" width="3.38" height="0.6" fill="#e07b71"/>
<rect x="58.3" y="132.68" width="3.39" height="0.6" fill="#e07b71"/>
<rect x="58.3" y="133.24" width="3.4" height="0.6" fill="#e07b71"/>
<rect x="58.3" y="133.79" width="3.4" height="0.6" fill="#e07b71"/>
<rect x="58.3" y="134.34" width="3.45" height="0.6" fill="#e07b71"/>
<rect x="58.3" y="134.9" width="3.46" height="0.6" fill="#e07b71"/>
<rect x="58.3" y="135.45" width="3.47" height="0.6" fill="#e07b71"/>
<rect x="58.3" y="136" width="3.47" height="0.6" fill="#e07b71"/>
<rect x="58.3" y="136.56" width="3.49" height="0.6" fill="#e07b71"/>
<rect x="58.3" y="137.11" width="3.49" height="0.6" fill="#e07b71"/>
<rect x="58.3" y="137.66" width="3.49" height="0.6" fill="#e07b71"/>
<rect x="58.3" y="138.22" width="3.49" height="0.6" fill="#e07b71"/>
<rect x="58.3" y="138.77" width="5.68" height="0.6" fill="#e07b71"/>
<rect x="58.3" y="139.32" width="5.78" height="0.6" fill="#e07b71"/>
<rect x="58.3" y="139.88" width="5.87" height="0.6" fill="#e07b71"/>
<rect x="58.3" y="140.43" width="5.93" height="0.6" fill="#e07b71"/>
<rect x="58.3" y="140.98" width="5.98" height="0.6" fill="#e07b71"/>
<rect x="58.3" y="141.54" width="5.99" height="0.6" fill="#e07b71"/>
<rect x="58.3" y="142.09" width="6.04" height="0.6" fill="#e07b71"/>
<rect x="58.3" y="142.64" width="6.06" height="0.6" fill="#e07b71"/>
<rect x="58.3" y="143.2" width="6.08" height="0.6" fill="#e07b71"/>
<rect x="58.3" y="143.75" width="6.14" height="0.6" fill="#e07b71"/>
<rect x="58.3" y="144.3" width="6.16" height="0.6" fill="#e07b71"/>
<rect x="58.3" y="144.86" width="6.16" height="0.6" fill="#e07b71"/>
<rect x="58.3" y="145.41" width="6.2" height="0.6" fill="#e07b71"/>
<rect x="58.3" y="145.96" width="6.23" height="0.6" fill="#e07b71"/>
<rect x="58.3" y="146.52" width="6.28" height="0.6" fill="#e07b71"/>
<rect x="58.3" y="147.07" width="6.32" height="0.6" fill="#e07b71"/>
<rect x="58.3" y="147.62" width="6.35" height="0.6" fill="#e07b71"/>
<rect x="58.3" y="148.18" width="6.39" height="0.6" fill="#e07b71"/>
<rect x="58.3" y="148.73" width="6.46" height="0.6" fill="#e07b71"/>
<rect x="58.3" y="149.28" width="6.48" height="0.6" fill="#e07b71"/>
<rect x="58.3" y="149.84" width="6.56" height="0.6" fill="#e07b71"/>
<rect x="58.3" y="150.39" width="6.57" height="0.6" fill="#e07b71"/>
<rect x="58.3" y="150.94" width="6.68" height="0.6" fill="#e07b71"/>
<rect x="58.3" y="151.5" width="6.71" height="0.6" fill="#e07b71"/>
<rect x="58.3" y="152.05" width="6.74" height="0.6" fill="#e07b71"/>
<rect x="58.3" y="152.6" width="6.76" height="0.6" fill="#e07b71"/>
<rect x="58.3" y="153.16" width="6.79" height="0.6" fill="#e07b71"/>
<rect x="58.3" y="153.71" width="6.83" height="0.6" fill="#e07b71"/>
<rect x="58.3" y="154.26" width="6.85" height="0.6" fill="#e07b71"/>
<rect x="58.3" y="154.82" width="6.86" height="0.6" fill="#e07b71"/>
<rect x="58.3" y="155.37" width="6.92" height="0.6" fill="#e07b71"/>
<rect x="58.3" y="155.92" width="7.01" height="0.6" fill="#e07b71"/>
<rect x="58.3" y="156.48" width="7.02" height="0.6" fill="#e07b71"/>
<rect x="58.3" y="157.03" width="7.06" height="0.6" fill="#e07b71"/>
<rect x="58.3" y="157.58" width="7.07" height="0.6" fill="#e07b71"/>
<rect x="58.3" y="158.14" width="7.1" height="0.6" fill="#e07b71"/>
<rect x="58.3" y="158.69" width="7.13" height="0.6" fill="#e07b71"/>
<rect x="58.3" y="159.24" width="7.16" height="0.6" fill="#e07b71"/>
<rect x="58.3" y="159.8" width="7.18" height="0.6" fill="#e07b71"/>
<rect x="58.3" y="160.35" width="7.25" height="0.6" fill="#e07b71"/>
<rect x="58.3" y="160.9" width="7.32" height="0.6" fill="#e07b71"/>
<rect x="58.3" y="161.46" width="7.33" height="0.6" fill="#e07b71"/>
<rect x="58.3" y="162.01" width="7.35" height="0.6" fill="#e07b71"/>
<rect x="58.3" y="162.56" width="7.35" height="0.6" fill="#e07b71"/>
<rect x="58.3" y="163.12" width="7.39" height="0.6" fill="#e07b71"/>
<rect x="58.3" y="163.67" width="7.41" height="0.6" fill="#e07b71"/>
<rect x="58.3" y="164.22" width="7.49" height="0.6" fill="#e07b71"/>
<rect x="58.3" y="164.78" width="7.5" height="0.6" fill="#e07b71"/>
<rect x="58.3" y="165.33" width="7.54" height="0.6" fill="#e07b71"/>
<rect x="58.3" y="165.88" width="7.57" height="0.6" fill="#e07b71"/>
<rect x="58.3" y="166.44" width="7.61" height="0.6" fill="#e07b71"/>
<rect x="58.3" y="166.99" width="7.65" height="0.6" fill="#e07b71"/>
<rect x="58.3" y="167.54" width="7.67" height="0.6" fill="#e07b71"/>
<rect x="58.3" y="168.1" width="7.81" height="0.6" fill="#e07b71"/>
<rect x="58.3" y="168.65" width="7.81" height="0.6" fill="#e07b71"/>
<rect x="58.3" y="169.2" width="7.83" height="0.6" fill="#e07b71"/>
<rect x="58.3" y="169.76" width="7.84" height="0.6" fill="#e07b71"/>
<rect x="58.3" y="170.31" width="7.85" height="0.6" fill="#e07b71"/>
<rect x="58.3" y="170.86" width="7.91" height="0.6" fill="#e07b71"/>
<rect x="58.3" y="171.42" width="7.98" height="0.6" fill="#e07b71"/>
<rect x="58.3" y="171.97" width="7.99" height="0.6" fill="#e07b71"/>
<rect x="58.3" y="172.52" width="8.08" height="0.6" fill="#e07b71"/>
<rect x="58.3" y="173.08" width="8.14" height="0.6" fill="#e07b71"/>
<rect x="58.3" y="173.63" width="8.16" height="0.6" fill="#e07b71"/>
<rect x="58.3" y="174.18" width="8.16" height="0.6" fill="#e07b71"/>
<rect x="58.3" y="174.74" width="8.17" height="0.6" fill="#e07b71"/>
<rect x="58.3" y="175.29" width="8.2" height="0.6" fill="#e07b71"/>
<rect x="58.3" y="175.84" width="8.26" height="0.6" fill="#e07b71"/>
<rect x="58.3" y="176.4" width="8.29" height="0.6" fill="#e07b71"/>
<rect x="58.3" y="176.95" width="8.29" height="0.6" fill="#e07b71"/>
<rect x="58.3" y="177.5" width="8.3" height="0.6" fill="#e07b71"/>
<rect x="58.3" y="178.06" width="8.3" height="0.6" fill="#e07b71"/>
<rect x="58.3" y="178.61" width="8.36" height="0.6" fill="#e07b71"/>
<rect x="58.3" y="179.16" width="8.39" height="0.6" fill="#e07b71"/>
<rect x="58.3" y="179.72" width="8.44" height="0.6" fill="#e07b71"/>
<rect x="58.3" y="180.27" width="8.54" height="0.6" fill="#e07b71"/>
<rect x="58.3" y="180.82" width="8.59" height="0.6" fill="#e07b71"/>
<rect x="58.3" y="181.38" width="8.6" height="0.6" fill="#e07b71"/>
<rect x="58.3" y="181.93" width="8.63" height="0.6" fill="#e07b71"/>
<rect x="58.3" y="182.48" width="8.69" height="0.6" fill="#e07b71"/>
<rect x="58.3" y="183.04" width="8.7" height="0.6" fill="#e07b71"/>
<rect x="58.3" y="183.59" width="8.71" height="0.6" fill="#e07b71"/>
<rect x="58.3" y="184.14" width="8.84" height="0.6" fill="#e07b71"/>
<rect x="58.3" y="184.69" width="8.85" height="0.6" fill="#e07b71"/>
<rect x="58.3" y="185.25" width="8.85" height="0.6" fill="#e07b71"/>
<rect x="58.3" y="185.8" width="8.93" height="0.6" fill="#e07b71"/>
<rect x="58.3" y="186.35" width="8.94" height="0.6" fill="#e07b71"/>
<rect x="58.3" y="186.91" width="8.96" height="0.6" fill="#e07b71"/>
<rect x="58.3" y="187.46" width="8.96" height="0.6" fill="#e07b71"/>
<rect x="58.3" y="188.01" width="9.09" height="0.6" fill="#e07b71"/>
<rect x="58.3" y="188.57" width="9.1" height="0.6" fill="#e07b71"/>
<rect x="58.3" y="189.12" width="9.11" height="0.6" fill="#e07b71"/>
<rect x="58.3" y="189.67" width="9.13" height="0.6" fill="#e07b71"/>
<rect x="58.3" y="190.23" width="9.17" height="0.6" fill="#e07b71"/>
<rect x="58.3" y="190.78" width="9.21" height="0.6" fill="#e07b71"/>
<rect x="58.3" y="191.33" width="9.3" height="0.6" fill="#e07b71"/>
<rect x="58.3" y="191.89" width="9.3" height="0.6" fill="#e07b71"/>
<rect x="58.3" y="192.44" width="9.34" height="0.6" fill="#e07b71"/>
<rect x="58.3" y="192.99" width="9.35" height="0.6" fill="#e07b71"/>
<rect x="58.3" y="193.55" width="9.39" height="0.6" fill="#e07b71"/>
<rect x="58.3" y="194.1" width="9.41" height="0.6" fill="#e07b71"/>
<rect x="58.3" y="194.65" width="9.44" height="0.6" fill="#e07b71"/>
<rect x="58.3" y="195.21" width="9.51" height="0.6" fill="#e07b71"/>
<rect x="58.3" y="195.76" width="9.68" height="0.6" fill="#e07b71"/>
<rect x="58.3" y="196.31" width="9.68" height="0.6" fill="#e07b71"/>
<rect x="58.3" y="196.87" width="9.7" height="0.6" fill="#e07b71"/>
<rect x="58.3" y="197.42" width="9.72" height="0.6" fill="#e07b71"/>
<rect x="58.3" y="197.97" width="9.83" height="0.6" fill="#e07b71"/>
<rect x="58.3" y="198.53" width="9.83" height="0.6" fill="#e07b71"/>
<rect x="58.3" y="199.08" width="9.83" height="0.6" fill="#e07b71"/>
<rect x="58.3" y="199.63" width="9.91" height="0.6" fill="#e07b71"/>
<rect x="58.3" y="200.19" width="9.96" height="0.6" fill="#e07b71"/>
<rect x="58.3" y="200.74" width="9.96" height="0.6" fill="#e07b71"/>
<rect x="58.3" y="201.29" width="9.96" height="0.6" fill="#e07b71"/>
<rect x="58.3" y="201.85" width="9.97" height="0.6" fill="#e07b71"/>
<rect x="58.3" y="202.4" width="10" height="0.6" fill="#e07b71"/>
<rect x="58.3" y="202.95" width="10.01" height="0.6" fill="#e07b71"/>
<rect x="58.3" y="203.51" width="10.02" height="0.6" fill="#e07b71"/>
<rect x="58.3" y="204.06" width="10.04" height="0.6" fill="#e07b71"/>
<rect x="58.3" y="204.61" width="10.06" height="0.6" fill="#e07b71"/>
<rect x="58.3" y="205.17" width="10.2" height="0.6" fill="#e07b71"/>
<rect x="58.3" y="205.72" width="10.23" height="0.6" fill="#e07b71"/>
<rect x="58.3" y="206.27" width="10.3" height="0.6" fill="#e07b71"/>
<rect x="58.3" y="206.83" width="10.3" height="0.6" fill="#e07b71"/>
<rect x="58.3" y="207.38" width="10.31" height="0.6" fill="#e07b71"/>
<rect x="58.3" y="207.93" width="10.32" height="0.6" fill="#e07b71"/>
<rect x="58.3" y="208.49" width="10.33" height="0.6" fill="#e07b71"/>
<rect x="58.3" y="209.04" width="10.42" height="0.6" fill="#e07b71"/>
<rect x="58.3" y="209.59" width="10.42" height="0.6" fill="#e07b71"/>
<rect x="58.3" y="210.15" width="10.43" height="0.6" fill="#e07b71"/>
<rect x="58.3" y="210.7" width="10.43" height="0.6" fill="#e07b71"/>
<rect x="58.3" y="211.25" width="10.5" height="0.6" fill="#e07b71"/>
<rect x="58.3" y="211.81" width="10.51" height="0.6" fill="#e07b71"/>
<rect x="58.3" y="212.36" width="10.63" height="0.6" fill="#e07b71"/>
<rect x="58.3" y="212.91" width="10.72" height="0.6" fill="#e07b71"/>
<rect x="58.3" y="213.47" width="10.73" height="0.6" fill="#e07b71"/>
<rect x="58.3" y="214.02" width="10.79" height="0.6" fill="#e07b71"/>
<rect x="58.3" y="214.57" width="10.83" height="0.6" fill="#e07b71"/>
<rect x="58.3" y="215.13" width="10.87" height="0.6" fill="#e07b71"/>
<rect x="58.3" y="215.68" width="10.98" height="0.6" fill="#e07b71"/>
<rect x="58.3" y="216.23" width="11" height="0.6" fill="#e07b71"/>
<rect x="58.3" y="216.79" width="11.01" height="0.6" fill="#e07b71"/>
<rect x="58.3" y="217.34" width="11.01" height="0.6" fill="#e07b71"/>
<rect x="58.3" y="217.89" width="11.07" height="0.6" fill="#e07b71"/>
<rect x="58.3" y="218.45" width="11.08" height="0.6" fill="#e07b71"/>
<rect x="58.3" y="219" width="11.15" height="0.6" fill="#e07b71"/>
<rect x="58.3" y="219.55" width="11.17" height="0.6" fill="#e07b71"/>
<rect x="58.3" y="220.11" width="11.18" height="0.6" fill="#e07b71"/>
<rect x="58.3" y="220.66" width="11.27" height="0.6" fill="#e07b71"/>
<rect x="58.3" y="221.21" width="11.33" height="0.6" fill="#e07b71"/>
<rect x="58.3" y="221.77" width="11.34" height="0.6" fill="#e07b71"/>
<rect x="58.3" y="222.32" width="11.34" height="0.6" fill="#e07b71"/>
<rect x="58.3" y="222.87" width="11.45" height="0.6" fill="#e07b71"/>
<rect x="58.3" y="223.43" width="11.46" height="0.6" fill="#e07b71"/>
<rect x="58.3" y="223.98" width="11.51" height="0.6" fill="#e07b71"/>
<rect x="58.3" y="224.53" width="11.52" height="0.6" fill="#e07b71"/>
<rect x="58.3" y="225.09" width="11.53" height="0.6" fill="#e07b71"/>
<rect x="58.3" y="225.64" width="11.56" height="0.6" fill="#e07b71"/>
<rect x="58.3" y="226.19" width="11.57" height="0.6" fill="#e07b71"/>
<rect x="58.3" y="226.75" width="11.57" height="0.6" fill="#e07b71"/>
<rect x="58.3" y="227.3" width="11.58" height="0.6" fill="#e07b71"/>
<rect x="58.3" y="227.85" width="11.63" height="0.6" fill="#e07b71"/>
<rect x="58.3" y="228.41" width="11.65" height="0.6" fill="#e07b71"/>
<rect x="58.3" y="228.96" width="11.66" height="0.6" fill="#e07b71"/>
<rect x="58.3" y="229.51" width="11.67" height="0.6" fill="#e07b71"/>
<rect x="58.3" y="230.07" width="11.71" height="0.6" fill="#e07b71"/>
<rect x="58.3" y="230.62" width="11.72" height="0.6" fill="#e07b71"/>
<rect x="58.3" y="231.17" width="11.73" height="0.6" fill="#e07b71"/>
<rect x="58.3" y="231.73" width="11.79" height="0.6" fill="#e07b71"/>
<rect x="58.3" y="232.28" width="11.81" height="0.6" fill="#e07b71"/>
<rect x="58.3" y="232.83" width="11.89" height="0.6" fill="#e07b71"/>
<rect x="58.3" y="233.39" width="11.9" height="0.6" fill="#e07b71"/>
<rect x="58.3" y="233.94" width="11.92" height="0.6" fill="#e07b71"/>
<rect x="58.3" y="234.49" width="11.93" height="0.6" fill="#e07b71"/>
<rect x="58.3" y="235.05" width="11.96" height="0.6" fill="#e07b71"/>
<rect x="58.3" y="235.6" width="12.01" height="0.6" fill="#e07b71"/>
<rect x="58.3" y="236.15" width="12.01" height="0.6" fill="#e07b71"/>
<rect x="58.3" y="236.71" width="12.02" height="0.6" fill="#e07b71"/>
<rect x="58.3" y="237.26" width="12.07" height="0.6" fill="#e07b71"/>
<rect x="58.3" y="237.81" width="12.26" height="0.6" fill="#e07b71"/>
<rect x="58.3" y="238.37" width="12.28" height="0.6" fill="#e07b71"/>
<rect x="58.3" y="238.92" width="12.3" height="0.6" fill="#e07b71"/>
<rect x="58.3" y="239.47" width="12.34" height="0.6" fill="#e07b71"/>
<rect x="58.3" y="240.03" width="12.35" height="0.6" fill="#e07b71"/>
<rect x="58.3" y="240.58" width="12.48" height="0.6" fill="#e07b71"/>
<rect x="58.3" y="241.13" width="12.49" height="0.6" fill="#e07b71"/>
<rect x="58.3" y="241.68" width="12.51" height="0.6" fill="#e07b71"/>
<rect x="58.3" y="242.24" width="12.52" height="0.6" fill="#e07b71"/>
<rect x="58.3" y="242.79" width="12.54" height="0.6" fill="#e07b71"/>
<rect x="58.3" y="243.34" width="12.58" height="0.6" fill="#e07b71"/>
<rect x="58.3" y="243.9" width="12.59" height="0.6" fill="#e07b71"/>
<rect x="58.3" y="244.45" width="12.6" height="0.6" fill="#e07b71"/>
<rect x="58.3" y="245" width="12.68" height="0.6" fill="#e07b71"/>
<rect x="58.3" y="245.56" width="12.68" height="0.6" fill="#e07b71"/>
<rect x="58.3" y="246.11" width="12.7" height="0.6" fill="#e07b71"/>
<rect x="58.3" y="246.66" width="12.74" height="0.6" fill="#e07b71"/>
<rect x="58.3" y="247.22" width="12.74" height="0.6" fill="#e07b71"/>
<rect x="58.3" y="247.77" width="12.76" height="0.6" fill="#e07b71"/>
<rect x="58.3" y="248.32" width="12.79" height="0.6" fill="#e07b71"/>
<rect x="58.3" y="248.88" width="12.82" height="0.6" fill="#e07b71"/>
<rect x="58.3" y="249.43" width="12.83" height="0.6" fill="#e07b71"/>
<rect x="58.3" y="249.98" width="12.84" height="0.6" fill="#e07b71"/>
<rect x="58.3" y="250.54" width="12.84" height="0.6" fill="#e07b71"/>
<rect x="58.3" y="251.09" width="12.87" height="0.6" fill="#e07b71"/>
<rect x="58.3" y="251.64" width="12.88" height="0.6" fill="#e07b71"/>
<rect x="58.3" y="252.2" width="12.92" height="0.6" fill="#e07b71"/>
<rect x="58.3" y="252.75" width="12.97" height="0.6" fill="#e07b71"/>
<rect x="58.3" y="253.3" width="12.98" height="0.6" fill="#e07b71"/>
<rect x="58.3" y="253.86" width="12.98" height="0.6" fill="#e07b71"/>
<rect x="58.3" y="254.41" width="13.03" height="0.6" fill="#e07b71"/>
<rect x="58.3" y="254.96" width="13.05" height="0.6" fill="#e07b71"/>
<rect x="58.3" y="255.52" width="13.06" height="0.6" fill="#e07b71"/>
<rect x="58.3" y="256.07" width="13.08" height="0.6" fill="#e07b71"/>
<rect x="58.3" y="256.62" width="13.09" height="0.6" fill="#e07b71"/>
<rect x="58.3" y="257.18" width="13.24" height="0.6" fill="#e07b71"/>
<rect x="58.3" y="257.73" width="13.3" height="0.6" fill="#e07b71"/>
<rect x="58.3" y="258.28" width="13.34" height="0.6" fill="#e07b71"/>
<rect x="58.3" y="258.84" width="13.35" height="0.6" fill="#e07b71"/>
<rect x="58.3" y="259.39" width="13.49" height="0.6" fill="#e07b71"/>
<rect x="58.3" y="259.94" width="13.5" height="0.6" fill="#e07b71"/>
<rect x="58.3" y="260.5" width="13.53" height="0.6" fill="#e07b71"/>
<rect x="58.3" y="261.05" width="13.54" height="0.6" fill="#e07b71"/>
<rect x="58.3" y="261.6" width="13.59" height="0.6" fill="#e07b71"/>
<rect x="58.3" y="262.16" width="13.61" height="0.6" fill="#e07b71"/>
<rect x="58.3" y="262.71" width="13.62" height="0.6" fill="#e07b71"/>
<rect x="58.3" y="263.26" width="13.69" height="0.6" fill="#e07b71"/>
<rect x="58.3" y="263.82" width="13.7" height="0.6" fill="#e07b71"/>
<rect x="58.3" y="264.37" width="13.75" height="0.6" fill="#e07b71"/>
<rect x="58.3" y="264.92" width="13.76" height="0.6" fill="#e07b71"/>
<rect x="58.3" y="265.48" width="13.76" height="0.6" fill="#e07b71"/>
<rect x="58.3" y="266.03" width="13.77" height="0.6" fill="#e07b71"/>
<rect x="58.3" y="266.58" width="13.85" height="0.6" fill="#e07b71"/>
<rect x="58.3" y="267.14" width="13.89" height="0.6" fill="#e07b71"/>
<rect x="58.3" y="267.69" width="14.02" height="0.6" fill="#e07b71"/>
<rect x="58.3" y="268.24" width="14.02" height="0.6" fill="#e07b71"/>
<rect x="58.3" y="268.8" width="14.03" height="0.6" fill="#e07b71"/>
<rect x="58.3" y="269.35" width="14.15" height="0.6" fill="#e07b71"/>
<rect x="58.3" y="269.9" width="14.17" height="0.6" fill="#e07b71"/>
<rect x="58.3" y="270.46" width="14.2" height="0.6" fill="#e07b71"/>
<rect x="58.3" y="271.01" width="14.2" height="0.6" fill="#e07b71"/>
<rect x="58.3" y="271.56" width="14.21" height="0.6" fill="#e07b71"/>
<rect x="58.3" y="272.12" width="14.21" height="0.6" fill="#e07b71"/>
<rect x="58.3" y="272.67" width="14.29" height="0.6" fill="#e07b71"/>
<rect x="58.3" y="273.22" width="14.47" height="0.6" fill="#e07b71"/>
<rect x="58.3" y="273.78" width="14.49" height="0.6" fill="#e07b71"/>
<rect x="58.3" y="274.33" width="14.51" height="0.6" fill="#e07b71"/>
<rect x="58.3" y="274.88" width="14.56" height="0.6" fill="#e07b71"/>
<rect x="58.3" y="275.44" width="14.57" height="0.6" fill="#e07b71"/>
<rect x="58.3" y="275.99" width="14.58" height="0.6" fill="#e07b71"/>
<rect x="58.3" y="276.54" width="14.58" height="0.6" fill="#e07b71"/>
<rect x="58.3" y="277.1" width="14.58" height="0.6" fill="#e07b71"/>
<rect x="58.3" y="277.65" width="14.59" height="0.6" fill="#e07b71"/>
<rect x="58.3" y="278.2" width="14.61" height="0.6" fill="#e07b71"/>
<rect x="58.3" y="278.76" width="14.69" height="0.6" fill="#e07b71"/>
<rect x="58.3" y="279.31" width="14.7" height="0.6" fill="#e07b71"/>
<rect x="58.3" y="279.86" width="14.73" height="0.6" fill="#e07b71"/>
<rect x="58.3" y="280.42" width="14.74" height="0.6" fill="#e07b71"/>
<rect x="58.3" y="280.97" width="14.74" height="0.6" fill="#e07b71"/>
<rect x="58.3" y="281.52" width="14.77" height="0.6" fill="#e07b71"/>
<rect x="58.3" y="282.08" width="14.79" height="0.6" fill="#e07b71"/>
<rect x="58.3" y="282.63" width="14.81" height="0.6" fill="#e07b71"/>
<rect x="58.3" y="283.18" width="14.84" height="0.6" fill="#e07b71"/>
<rect x="58.3" y="283.74" width="14.86" height="0.6" fill="#e07b71"/>
<rect x="58.3" y="284.29" width="14.87" height="0.6" fill="#e07b71"/>
<rect x="58.3" y="284.84" width="14.87" height="0.6" fill="#e07b71"/>
<rect x="58.3" y="285.4" width="14.92" height="0.6" fill="#e07b71"/>
<rect x="58.3" y="285.95" width="14.98" height="0.6" fill="#e07b71"/>
<rect x="58.3" y="286.5" width="14.98" height="0.6" fill="#e07b71"/>
<rect x="58.3" y="287.06" width="15.12" height="0.6" fill="#e07b71"/>
<rect x="58.3" y="287.61" width="15.19" height="0.6" fill="#e07b71"/>
<rect x="58.3" y="288.16" width="15.23" height="0.6" fill="#e07b71"/>
<rect x="58.3" y="288.72" width="15.25" height="0.6" fill="#e07b71"/>
<rect x="58.3" y="289.27" width="15.26" height="0.6" fill="#e07b71"/>
<rect x="58.3" y="289.82" width="15.28" height="0.6" fill="#e07b71"/>
<rect x="58.3" y="290.38" width="15.41" height="0.6" fill="#e07b71"/>
<rect x="58.3" y="290.93" width="15.41" height="0.6" fill="#e07b71"/>
<rect x="58.3" y="291.48" width="15.47" height="0.6" fill="#e07b71"/>
<rect x="58.3" y="292.04" width="15.49" height="0.6" fill="#e07b71"/>
<rect x="58.3" y="292.59" width="15.52" height="0.6" fill="#e07b71"/>
<rect x="58.3" y="293.14" width="15.55" height="0.6" fill="#e07b71"/>
<rect x="58.3" y="293.7" width="15.57" height="0.6" fill="#e07b71"/>
<rect x="58.3" y="294.25" width="15.57" height="0.6" fill="#e07b71"/>
<rect x="58.3" y="294.8" width="15.61" height="0.6" fill="#e07b71"/>
<rect x="58.3" y="295.36" width="15.62" height="0.6" fill="#e07b71"/>
<rect x="58.3" y="295.91" width="15.64" height="0.6" fill="#e07b71"/>
<rect x="58.3" y="296.46" width="15.65" height="0.6" fill="#e07b71"/>
<rect x="58.3" y="297.01" width="15.66" height="0.6" fill="#e07b71"/>
<rect x="58.3" y="297.57" width="15.7" height="0.6" fill="#e07b71"/>
<rect x="58.3" y="298.12" width="15.75" height="0.6" fill="#e07b71"/>
<rect x="58.3" y="298.67" width="15.77" height="0.6" fill="#e07b71"/>
<rect x="58.3" y="299.23" width="15.84" height="0.6" fill="#e07b71"/>
<rect x="58.3" y="299.78" width="15.86" height="0.6" fill="#e07b71"/>
<rect x="58.3" y="300.33" width="15.87" height="0.6" fill="#e07b71"/>
<rect x="58.3" y="300.89" width="15.87" height="0.6" fill="#e07b71"/>
<rect x="58.3" y="301.44" width="15.92" height="0.6" fill="#e07b71"/>
<rect x="58.3" y="301.99" width="15.95" height="0.6" fill="#e07b71"/>
<rect x="58.3" y="302.55" width="15.98" height="0.6" fill="#e07b71"/>
<rect x="58.3" y="303.1" width="15.99" height="0.6" fill="#e07b71"/>
<rect x="58.3" y="303.65" width="15.99" height="0.6" fill="#e07b71"/>
<rect x="58.3" y="304.21" width="16.04" height="0.6" fill="#e07b71"/>
<rect x="58.3" y="304.76" width="16.11" height="0.6" fill="#e07b71"/>
<rect x="58.3" y="305.31" width="16.12" height="0.6" fill="#e07b71"/>
<rect x="58.3" y="305.87" width="16.24" height="0.6" fill="#e07b71"/>
<rect x="58.3" y="306.42" width="16.27" height="0.6" fill="#e07b71"/>
<rect x="58.3" y="306.97" width="16.28" height="0.6" fill="#e07b71"/>
<rect x="58.3" y="307.53" width="16.33" height="0.6" fill="#e07b71"/>
<rect x="58.3" y="308.08" width="16.37" height="0.6" fill="#e07b71"/>
<rect x="58.3" y="308.63" width="16.46" height="0.6" fill="#e07b71"/>
<rect x="58.3" y="309.19" width="16.48" height="0.6" fill="#e07b71"/>
<rect x="58.3" y="309.74" width="16.55" height="0.6" fill="#e07b71"/>
<rect x="58.3" y="310.29" width="16.59" height="0.6" fill="#e07b71"/>
<rect x="58.3" y="310.85" width="16.61" height="0.6" fill="#e07b71"/>
<rect x="58.3" y="311.4" width="16.61" height="0.6" fill="#e07b71"/>
<rect x="58.3" y="311.95" width="16.63" height="0.6" fill="#e07b71"/>
<rect x="58.3" y="312.51" width="16.69" height="0.6" fill="#e07b71"/>
<rect x="58.3" y="313.06" width="16.74" height="0.6" fill="#e07b71"/>
<rect x="58.3" y="313.61" width="16.76" height="0.6" fill="#e07b71"/>
<rect x="58.3" y="314.17" width="16.82" height="0.6" fill="#e07b71"/>
<rect x="58.3" y="314.72" width="16.82" height="0.6" fill="#e07b71"/>
<rect x="58.3" y="315.27" width="16.82" height="0.6" fill="#e07b71"/>
<rect x="58.3" y="315.83" width="16.86" height="0.6" fill="#e07b71"/>
<rect x="58.3" y="316.38" width="16.9" height="0.6" fill="#e07b71"/>
<rect x="58.3" y="316.93" width="16.94" height="0.6" fill="#e07b71"/>
<rect x="58.3" y="317.49" width="16.98" height="0.6" fill="#e07b71"/>
<rect x="58.3" y="318.04" width="17" height="0.6" fill="#e07b71"/>
<rect x="58.3" y="318.59" width="17.01" height="0.6" fill="#e07b71"/>
<rect x="58.3" y="319.15" width="17.02" height="0.6" fill="#e07b71"/>
<rect x="58.3" y="319.7" width="17.12" height="0.6" fill="#e07b71"/>
<rect x="58.3" y="320.25" width="17.2" height="0.6" fill="#e07b71"/>
<rect x="58.3" y="320.81" width="17.26" height="0.6" fill="#e07b71"/>
<rect x="58.3" y="321.36" width="17.38" height="0.6" fill="#e07b71"/>
<rect x="58.3" y="321.91" width="17.41" height="0.6" fill="#e07b71"/>
<rect x="58.3" y="322.47" width="17.53" height="0.6" fill="#e07b71"/>
<rect x="58.3" y="323.02" width="17.53" height="0.6" fill="#e07b71"/>
<rect x="58.3" y="323.57" width="17.58" height="0.6" fill="#e07b71"/>
<rect x="58.3" y="324.13" width="17.64" height="0.6" fill="#e07b71"/>
<rect x="58.3" y="324.68" width="17.65" height="0.6" fill="#e07b71"/>
<rect x="58.3" y="325.23" width="17.7" height="0.6" fill="#e07b71"/>
<rect x="58.3" y="325.79" width="17.72" height="0.6" fill="#e07b71"/>
<rect x="58.3" y="326.34" width="17.86" height="0.6" fill="#e07b71"/>
<rect x="58.3" y="326.89" width="18.14" height="0.6" fill="#e07b71"/>
<rect x="58.3" y="327.45" width="18.3" height="0.6" fill="#e07b71"/>
<rect x="58.3" y="328" width="18.3" height="0.6" fill="#e07b71"/>
<rect x="58.3" y="328.55" width="18.33" height="0.6" fill="#e07b71"/>
<rect x="58.3" y="329.11" width="18.34" height="0.6" fill="#e07b71"/>
<rect x="58.3" y="329.66" width="18.34" height="0.6" fill="#e07b71"/>
<rect x="58.3" y="330.21" width="18.37" height="0.6" fill="#e07b71"/>
<rect x="58.3" y="330.77" width="18.46" height="0.6" fill="#e07b71"/>
<rect x="58.3" y="331.32" width="18.48" height="0.6" fill="#e07b71"/>
<rect x="58.3" y="331.87" width="18.51" height="0.6" fill="#e07b71"/>
<rect x="58.3" y="332.43" width="18.51" height="0.6" fill="#e07b71"/>
<rect x="58.3" y="332.98" width="18.57" height="0.6" fill="#e07b71"/>
<rect x="58.3" y="333.53" width="18.65" height="0.6" fill="#e07b71"/>
<rect x="58.3" y="334.09" width="18.88" height="0.6" fill="#e07b71"/>
<rect x="58.3" y="334.64" width="18.95" height="0.6" fill="#e07b71"/>
<rect x="58.3" y="335.19" width="18.96" height="0.6" fill="#e07b71"/>
<rect x="58.3" y="335.75" width="19.03" height="0.6" fill="#e07b71"/>
<rect x="58.3" y="336.3" width="19.07" height="0.6" fill="#e07b71"/>
<rect x="58.3" y="336.85" width="19.13" height="0.6" fill="#e07b71"/>
<rect x="58.3" y="337.41" width="19.16" height="0.6" fill="#e07b71"/>
<rect x="58.3" y="337.96" width="19.18" height="0.6" fill="#e07b71"/>
<rect x="58.3" y="338.51" width="19.26" height="0.6" fill="#e07b71"/>
<rect x="58.3" y="339.07" width="19.44" height="0.6" fill="#e07b71"/>
<rect x="58.3" y="339.62" width="19.71" height="0.6" fill="#e07b71"/>
<rect x="58.3" y="340.17" width="19.71" height="0.6" fill="#e07b71"/>
<rect x="58.3" y="340.73" width="19.74" height="0.6" fill="#e07b71"/>
<rect x="58.3" y="341.28" width="19.75" height="0.6" fill="#e07b71"/>
<rect x="58.3" y="341.83" width="19.76" height="0.6" fill="#e07b71"/>
<rect x="58.3" y="342.39" width="19.85" height="0.6" fill="#e07b71"/>
<rect x="58.3" y="342.94" width="19.99" height="0.6" fill="#e07b71"/>
<rect x="58.3" y="343.49" width="20" height="0.6" fill="#e07b71"/>
<rect x="58.3" y="344.05" width="20.11" height="0.6" fill="#e07b71"/>
<rect x="58.3" y="344.6" width="20.12" height="0.6" fill="#e07b71"/>
<rect x="58.3" y="345.15" width="20.19" height="0.6" fill="#e07b71"/>
<rect x="58.3" y="345.71" width="20.22" height="0.6" fill="#e07b71"/>
<rect x="58.3" y="346.26" width="20.28" height="0.6" fill="#e07b71"/>
<rect x="58.3" y="346.81" width="20.31" height="0.6" fill="#e07b71"/>
<rect x="58.3" y="347.37" width="20.37" height="0.6" fill="#e07b71"/>
<rect x="58.3" y="347.92" width="20.47" height="0.6" fill="#e07b71"/>
<rect x="58.3" y="348.47" width="20.6" height="0.6" fill="#e07b71"/>
<rect x="58.3" y="349.03" width="20.64" height="0.6" fill="#e07b71"/>
<rect x="58.3" y="349.58" width="20.72" height="0.6" fill="#e07b71"/>
<rect x="58.3" y="350.13" width="20.73" height="0.6" fill="#e07b71"/>
<rect x="58.3" y="350.69" width="20.85" height="0.6" fill="#e07b71"/>
<rect x="58.3" y="351.24" width="21.02" height="0.6" fill="#e07b71"/>
<rect x="58.3" y="351.79" width="21.17" height="0.6" fill="#e07b71"/>
<rect x="58.3" y="352.34" width="21.21" height="0.6" fill="#e07b71"/>
<rect x="58.3" y="352.9" width="21.23" height="0.6" fill="#e07b71"/>
<rect x="58.3" y="353.45" width="21.29" height="0.6" fill="#e07b71"/>
<rect x="58.3" y="354" width="21.34" height="0.6" fill="#e07b71"/>
<rect x="58.3" y="354.56" width="21.34" height="0.6" fill="#e07b71"/>
<rect x="58.3" y="355.11" width="21.36" height="0.6" fill="#e07b71"/>
<rect x="58.3" y="355.66" width="21.42" height="0.6" fill="#e07b71"/>
<rect x="58.3" y="356.22" width="21.67" height="0.6" fill="#e07b71"/>
<rect x="58.3" y="356.77" width="21.8" height="0.6" fill="#e07b71"/>
<rect x="58.3" y="357.32" width="21.81" height="0.6" fill="#e07b71"/>
<rect x="58.3" y="357.88" width="21.86" height="0.6" fill="#e07b71"/>
<rect x="58.3" y="358.43" width="21.91" height="0.6" fill="#e07b71"/>
<rect x="58.3" y="358.98" width="21.96" height="0.6" fill="#e07b71"/>
<rect x="58.3" y="359.54" width="22.13" height="0.6" fill="#e07b71"/>
<rect x="58.3" y="360.09" width="22.14" height="0.6" fill="#e07b71"/>
<rect x="58.3" y="360.64" width="22.3" height="0.6" fill="#e07b71"/>
<rect x="58.3" y="361.2" width="22.3" height="0.6" fill="#e07b71"/>
<rect x="58.3" y="361.75" width="22.36" height="0.6" fill="#e07b71"/>
<rect x="58.3" y="362.3" width="22.53" height="0.6" fill="#e07b71"/>
<rect x="58.3" y="362.86" width="22.54" height="0.6" fill="#e07b71"/>
<rect x="58.3" y="363.41" width="22.59" height="0.6" fill="#e07b71"/>
<rect x="58.3" y="363.96" width="22.6" height="0.6" fill="#e07b71"/>
<rect x="58.3" y="364.52" width="22.72" height="0.6" fill="#e07b71"/>
<rect x="58.3" y="365.07" width="22.72" height="0.6" fill="#e07b71"/>
<rect x="58.3" y="365.62" width="22.77" height="0.6" fill="#e07b71"/>
<rect x="58.3" y="366.18" width="22.79" height="0.6" fill="#e07b71"/>
<rect x="58.3" y="366.73" width="22.84" height="0.6" fill="#e07b71"/>
<rect x="58.3" y="367.28" width="22.87" height="0.6" fill="#e07b71"/>
<rect x="58.3" y="367.84" width="22.93" height="0.6" fill="#e07b71"/>
<rect x="58.3" y="368.39" width="23.16" height="0.6" fill="#e07b71"/>
<rect x="58.3" y="368.94" width="23.25" height="0.6" fill="#e07b71"/>
<rect x="58.3" y="369.5" width="23.26" height="0.6" fill="#e07b71"/>
<rect x="58.3" y="370.05" width="23.44" height="0.6" fill="#e07b71"/>
<rect x="58.3" y="370.6" width="23.45" height="0.6" fill="#e07b71"/>
<rect x="58.3" y="371.16" width="23.45" height="0.6" fill="#e07b71"/>
<rect x="58.3" y="371.71" width="23.47" height="0.6" fill="#e07b71"/>
<rect x="58.3" y="372.26" width="23.56" height="0.6" fill="#e07b71"/>
<rect x="58.3" y="372.82" width="23.61" height="0.6" fill="#e07b71"/>
<rect x="58.3" y="373.37" width="23.7" height="0.6" fill="#e07b71"/>
<rect x="58.3" y="373.92" width="23.72" height="0.6" fill="#e07b71"/>
<rect x="58.3" y="374.48" width="23.73" height="0.6" fill="#e07b71"/>
<rect x="58.3" y="375.03" width="23.77" height="0.6" fill="#e07b71"/>
<rect x="58.3" y="375.58" width="23.8" height="0.6" fill="#e07b71"/>
<rect x="58.3" y="376.14" width="23.91" height="0.6" fill="#e07b71"/>
<rect x="58.3" y="376.69" width="23.98" height="0.6" fill="#e07b71"/>
<rect x="58.3" y="377.24" width="24.03" height="0.6" fill="#e07b71"/>
<rect x="58.3" y="377.8" width="24.21" height="0.6" fill="#e07b71"/>
<rect x="58.3" y="378.35" width="24.25" height="0.6" fill="#e07b71"/>
<rect x="58.3" y="378.9" width="24.34" height="0.6" fill="#e07b71"/>
<rect x="58.3" y="379.46" width="24.34" height="0.6" fill="#e07b71"/>
<rect x="58.3" y="380.01" width="24.35" height="0.6" fill="#e07b71"/>
<rect x="58.3" y="380.56" width="24.44" height="0.6" fill="#e07b71"/>
<rect x="58.3" y="381.12" width="24.47" height="0.6" fill="#e07b71"/>
<rect x="58.3" y="381.67" width="24.55" height="0.6" fill="#e07b71"/>
<rect x="58.3" y="382.22" width="24.56" height="0.6" fill="#e07b71"/>
<rect x="58.3" y="382.78" width="24.63" height="0.6" fill="#e07b71"/>
<rect x="58.3" y="383.33" width="24.64" height="0.6" fill="#e07b71"/>
<rect x="58.3" y="383.88" width="24.68" height="0.6" fill="#e07b71"/>
<rect x="58.3" y="384.44" width="24.7" height="0.6" fill="#e07b71"/>
<rect x="58.3" y="384.99" width="24.8" height="0.6" fill="#e07b71"/>
<rect x="58.3" y="385.54" width="24.91" height="0.6" fill="#e07b71"/>
<rect x="58.3" y="386.1" width="24.92" height="0.6" fill="#e07b71"/>
<rect x="58.3" y="386.65" width="24.96" height="0.6" fill="#e07b71"/>
<rect x="58.3" y="387.2" width="25.03" height="0.6" fill="#e07b71"/>
<rect x="58.3" y="387.76" width="25.03" height="0.6" fill="#e07b71"/>
<rect x="58.3" y="388.31" width="25.03" height="0.6" fill="#e07b71"/>
<rect x="58.3" y="388.86" width="25.08" height="0.6" fill="#e07b71"/>
<rect x="58.3" y="389.42" width="25.26" height="0.6" fill="#e07b71"/>
<rect x="58.3" y="389.97" width="25.35" height="0.6" fill="#e07b71"/>
<rect x="58.3" y="390.52" width="25.46" height="0.6" fill="#e07b71"/>
<rect x="58.3" y="391.08" width="25.46" height="0.6" fill="#e07b71"/>
<rect x="58.3" y="391.63" width="25.76" height="0.6" fill="#e07b71"/>
<rect x="58.3" y="392.18" width="25.79" height="0.6" fill="#e07b71"/>
<rect x="58.3" y="392.74" width="25.82" height="0.6" fill="#e07b71"/>
<rect x="58.3" y="393.29" width="25.89" height="0.6" fill="#e07b71"/>
<rect x="58.3" y="393.84" width="25.91" height="0.6" fill="#e07b71"/>
<rect x="58.3" y="394.4" width="25.92" height="0.6" fill="#e07b71"/>
<rect x="58.3" y="394.95" width="25.93" height="0.6" fill="#e07b71"/>
<rect x="58.3" y="395.5" width="25.96" height="0.6" fill="#e07b71"/>
<rect x="58.3" y="396.06" width="25.99" height="0.6" fill="#e07b71"/>
<rect x="58.3" y="396.61" width="26.01" height="0.6" fill="#e07b71"/>
<rect x="58.3" y="397.16" width="26.07" height="0.6" fill="#e07b71"/>
<rect x="58.3" y="397.72" width="26.07" height="0.6" fill="#e07b71"/>
<rect x="58.3" y="398.27" width="26.15" height="0.6" fill="#e07b71"/>
<rect x="58.3" y="398.82" width="26.16" height="0.6" fill="#e07b71"/>
<rect x="58.3" y="399.38" width="26.17" height="0.6" fill="#e07b71"/>
<rect x="58.3" y="399.93" width="26.32" height="0.6" fill="#e07b71"/>
<rect x="58.3" y="400.48" width="26.57" height="0.6" fill="#e07b71"/>
<rect x="58.3" y="401.04" width="26.63" height="0.6" fill="#e07b71"/>
<rect x="58.3" y="401.59" width="26.64" height="0.6" fill="#e07b71"/>
<rect x="58.3" y="402.14" width="26.65" height="0.6" fill="#e07b71"/>
<rect x="58.3" y="402.7" width="26.85" height="0.6" fill="#e07b71"/>
<rect x="58.3" y="403.25" width="26.89" height="0.6" fill="#e07b71"/>
<rect x="58.3" y="403.8" width="27.05" height="0.6" fill="#e07b71"/>
<rect x="58.3" y="404.36" width="27.11" height="0.6" fill="#e07b71"/>
<rect x="58.3" y="404.91" width="27.2" height="0.6" fill="#e07b71"/>
<rect x="58.3" y="405.46" width="27.25" height="0.6" fill="#e07b71"/>
<rect x="58.3" y="406.01" width="27.26" height="0.6" fill="#e07b71"/>
<rect x="58.3" y="406.57" width="27.36" height="0.6" fill="#e07b71"/>
<rect x="58.3" y="407.12" width="27.37" height="0.6" fill="#e07b71"/>
<rect x="58.3" y="407.67" width="27.43" height="0.6" fill="#e07b71"/>
<rect x="58.3" y="408.23" width="27.46" height="0.6" fill="#e07b71"/>
<rect x="58.3" y="408.78" width="27.48" height="0.6" fill="#e07b71"/>
<rect x="58.3" y="409.33" width="27.55" height="0.6" fill="#e07b71"/>
<rect x="58.3" y="409.89" width="27.57" height="0.6" fill="#e07b71"/>
<rect x="58.3" y="410.44" width="27.6" height="0.6" fill="#e07b71"/>
<rect x="58.3" y="410.99" width="27.76" height="0.6" fill="#e07b71"/>
<rect x="58.3" y="411.55" width="27.87" height="0.6" fill="#e07b71"/>
<rect x="58.3" y="412.1" width="27.97" height="0.6" fill="#e07b71"/>
<rect x="58.3" y="412.65" width="28.16" height="0.6" fill="#e07b71"/>
<rect x="58.3" y="413.21" width="28.33" height="0.6" fill="#e07b71"/>
<rect x="58.3" y="413.76" width="28.35" height="0.6" fill="#e07b71"/>
<rect x="58.3" y="414.31" width="28.51" height="0.6" fill="#e07b71"/>
<rect x="58.3" y="414.87" width="28.55" height="0.6" fill="#e07b71"/>
<rect x="58.3" y="415.42" width="28.55" height="0.6" fill="#e07b71"/>
<rect x="58.3" y="415.97" width="28.58" height="0.6" fill="#e07b71"/>
<rect x="58.3" y="416.53" width="28.78" height="0.6" fill="#e07b71"/>
<rect x="58.3" y="417.08" width="28.82" height="0.6" fill="#e07b71"/>
<rect x="58.3" y="417.63" width="28.94" height="0.6" fill="#e07b71"/>
<rect x="58.3" y="418.19" width="29.02" height="0.6" fill="#e07b71"/>
<rect x="58.3" y="418.74" width="29.12" height="0.6" fill="#e07b71"/>
<rect x="58.3" y="419.29" width="29.17" height="0.6" fill="#e07b71"/>
<rect x="58.3" y="419.85" width="29.2" height="0.6" fill="#e07b71"/>
<rect x="58.3" y="420.4" width="29.24" height="0.6" fill="#e07b71"/>
<rect x="58.3" y="420.95" width="29.28" height="0.6" fill="#e07b71"/>
<rect x="58.3" y="421.51" width="29.31" height="0.6" fill="#e07b71"/>
<rect x="58.3" y="422.06" width="29.34" height="0.6" fill="#e07b71"/>
<rect x="58.3" y="422.61" width="29.46" height="0.6" fill="#e07b71"/>
<rect x="58.3" y="423.17" width="29.51" height="0.6" fill="#e07b71"/>
<rect x="58.3" y="423.72" width="29.6" height="0.6" fill="#e07b71"/>
<rect x="58.3" y="424.27" width="29.63" height="0.6" fill="#e07b71"/>
<rect x="58.3" y="424.83" width="29.8" height="0.6" fill="#e07b71"/>
<rect x="58.3" y="425.38" width="29.89" height="0.6" fill="#e07b71"/>
<rect x="58.3" y="425.93" width="29.99" height="0.6" fill="#e07b71"/>
<rect x="58.3" y="426.49" width="30.02" height="0.6" fill="#e07b71"/>
<rect x="58.3" y="427.04" width="30.03" height="0.6" fill="#e07b71"/>
<rect x="58.3" y="427.59" width="30.45" height="0.6" fill="#e07b71"/>
<rect x="58.3" y="428.15" width="30.46" height="0.6" fill="#e07b71"/>
<rect x="58.3" y="428.7" width="30.57" height="0.6" fill="#e07b71"/>
<rect x="58.3" y="429.25" width="30.71" height="0.6" fill="#e07b71"/>
<rect x="58.3" y="429.81" width="30.91" height="0.6" fill="#e07b71"/>
<rect x="58.3" y="430.36" width="31.07" height="0.6" fill="#e07b71"/>
<rect x="58.3" y="430.91" width="31.12" height="0.6" fill="#e07b71"/>
<rect x="58.3" y="431.47" width="31.13" height="0.6" fill="#e07b71"/>
<rect x="58.3" y="432.02" width="31.18" height="0.6" fill="#e07b71"/>
<rect x="58.3" y="432.57" width="31.24" height="0.6" fill="#e07b71"/>
<rect x="58.3" y="433.13" width="31.25" height="0.6" fill="#e07b71"/>
<rect x="58.3" y="433.68" width="31.27" height="0.6" fill="#e07b71"/>
<rect x="58.3" y="434.23" width="31.42" height="0.6" fill="#e07b71"/>
<rect x="58.3" y="434.79" width="31.44" height="0.6" fill="#e07b71"/>
<rect x="58.3" y="435.34" width="31.71" height="0.6" fill="#e07b71"/>
<rect x="58.3" y="435.89" width="31.75" height="0.6" fill="#e07b71"/>
<rect x="58.3" y="436.45" width="31.8" height="0.6" fill="#e07b71"/>
<rect x="58.3" y="437" width="31.92" height="0.6" fill="#e07b71"/>
<rect x="58.3" y="437.55" width="32.42" height="0.6" fill="#e07b71"/>
<rect x="58.3" y="438.11" width="32.69" height="0.6" fill="#e07b71"/>
<rect x="58.3" y="438.66" width="32.78" height="0.6" fill="#e07b71"/>
<rect x="58.3" y="439.21" width="33.12" height="0.6" fill="#e07b71"/>
<rect x="58.3" y="439.77" width="33.41" height="0.6" fill="#e07b71"/>
<rect x="58.3" y="440.32" width="33.45" height="0.6" fill="#e07b71"/>
<rect x="58.3" y="440.87" width="33.46" height="0.6" fill="#e07b71"/>
<rect x="58.3" y="441.43" width="33.54" height="0.6" fill="#e07b71"/>
<rect x="58.3" y="441.98" width="33.58" height="0.6" fill="#e07b71"/>
<rect x="58.3" y="442.53" width="33.7" height="0.6" fill="#e07b71"/>
<rect x="58.3" y="443.09" width="33.8" height="0.6" fill="#e07b71"/>
<rect x="58.3" y="443.64" width="33.81" height="0.6" fill="#e07b71"/>
<rect x="58.3" y="444.19" width="34.07" height="0.6" fill="#e07b71"/>
<rect x="58.3" y="444.75" width="34.27" height="0.6" fill="#e07b71"/>
<rect x="58.3" y="445.3" width="34.34" height="0.6" fill="#e07b71"/>
<rect x="58.3" y="445.85" width="34.49" height="0.6" fill="#e07b71"/>
<rect x="58.3" y="446.41" width="34.63" height="0.6" fill="#e07b71"/>
<rect x="58.3" y="446.96" width="34.73" height="0.6" fill="#e07b71"/>
<rect x="58.3" y="447.51" width="34.99" height="0.6" fill="#e07b71"/>
<rect x="58.3" y="448.07" width="35.07" height="0.6" fill="#e07b71"/>
<rect x="58.3" y="448.62" width="35.08" height="0.6" fill="#e07b71"/>
<rect x="58.3" y="449.17" width="35.34" height="0.6" fill="#e07b71"/>
<rect x="58.3" y="449.73" width="35.43" height="0.6" fill="#e07b71"/>
<rect x="58.3" y="450.28" width="35.5" height="0.6" fill="#e07b71"/>
<rect x="58.3" y="450.83" width="35.66" height="0.6" fill="#e07b71"/>
<rect x="58.3" y="451.39" width="35.67" height="0.6" fill="#e07b71"/>
<rect x="58.3" y="451.94" width="35.88" height="0.6" fill="#e07b71"/>
<rect x="58.3" y="452.49" width="36.01" height="0.6" fill="#e07b71"/>
<rect x="58.3" y="453.05" width="36.41" height="0.6" fill="#e07b71"/>
<rect x="58.3" y="453.6" width="36.63" height="0.6" fill="#e07b71"/>
<rect x="58.3" y="454.15" width="36.81" height="0.6" fill="#e07b71"/>
<rect x="58.3" y="454.71" width="36.86" height="0.6" fill="#e07b71"/>
<rect x="58.3" y="455.26" width="36.9" height="0.6" fill="#e07b71"/>
<rect x="58.3" y="455.81" width="37.23" height="0.6" fill="#e07b71"/>
<rect x="58.3" y="456.37" width="37.3" height="0.6" fill="#e07b71"/>
<rect x="58.3" y="456.92" width="37.34" height="0.6" fill="#e07b71"/>
<rect x="58.3" y="457.47" width="37.39" height="0.6" fill="#e07b71"/>
<rect x="58.3" y="458.03" width="37.77" height="0.6" fill="#e07b71"/>
<rect x="58.3" y="458.58" width="37.77" height="0.6" fill="#e07b71"/>
<rect x="58.3" y="459.13" width="37.87" height="0.6" fill="#e07b71"/>
<rect x="58.3" y="459.69" width="37.93" height="0.6" fill="#e07b71"/>
<rect x="58.3" y="460.24" width="38.01" height="0.6" fill="#e07b71"/>
<rect x="58.3" y="460.79" width="38.08" height="0.6" fill="#e07b71"/>
<rect x="58.3" y="461.34" width="38.35" height="0.6" fill="#e07b71"/>
<rect x="58.3" y="461.9" width="38.39" height="0.6" fill="#e07b71"/>
<rect x="58.3" y="462.45" width="38.47" height="0.6" fill="#e07b71"/>
<rect x="58.3" y="463" width="38.74" height="0.6" fill="#e07b71"/>
<rect x="58.3" y="463.56" width="38.9" height="0.6" fill="#e07b71"/>
<rect x="58.3" y="464.11" width="38.97" height="0.6" fill="#e07b71"/>
<rect x="58.3" y="464.66" width="39.2" height="0.6" fill="#e07b71"/>
<rect x="58.3" y="465.22" width="39.43" height="0.6" fill="#e07b71"/>
<rect x="58.3" y="465.77" width="39.49" height="0.6" fill="#e07b71"/>
<rect x="58.3" y="466.32" width="39.55" height="0.6" fill="#e07b71"/>
<rect x="58.3" y="466.88" width="39.66" height="0.6" fill="#e07b71"/>
<rect x="58.3" y="467.43" width="39.72" height="0.6" fill="#e07b71"/>
<rect x="58.3" y="467.98" width="39.81" height="0.6" fill="#e07b71"/>
<rect x="58.3" y="468.54" width="39.99" height="0.6" fill="#e07b71"/>
<rect x="58.3" y="469.09" width="40.18" height="0.6" fill="#e07b71"/>
<rect x="58.3" y="469.64" width="40.47" height="0.6" fill="#e07b71"/>
<rect x="58.3" y="470.2" width="40.58" height="0.6" fill="#e07b71"/>
<rect x="58.3" y="470.75" width="40.8" height="0.6" fill="#e07b71"/>
<rect x="58.3" y="471.3" width="41.01" height="0.6" fill="#e07b71"/>
<rect x="58.3" y="471.86" width="41.08" height="0.6" fill="#e07b71"/>
<rect x="58.3" y="472.41" width="41.19" height="0.6" fill="#e07b71"/>
<rect x="58.3" y="472.96" width="41.36" height="0.6" fill="#e07b71"/>
<rect x="58.3" y="473.52" width="41.61" height="0.6" fill="#e07b71"/>
<rect x="58.3" y="474.07" width="41.75" height="0.6" fill="#e07b71"/>
<rect x="58.3" y="474.62" width="42.02" height="0.6" fill="#e07b71"/>
<rect x="58.3" y="475.18" width="42.06" height="0.6" fill="#e07b71"/>
<rect x="58.3" y="475.73" width="42.12" height="0.6" fill="#e07b71"/>
<rect x="58.3" y="476.28" width="42.46" height="0.6" fill="#e07b71"/>
<rect x="58.3" y="476.84" width="42.54" height="0.6" fill="#e07b71"/>
<rect x="58.3" y="477.39" width="42.68" height="0.6" fill="#e07b71"/>
<rect x="58.3" y="477.94" width="43.39" height="0.6" fill="#e07b71"/>
<rect x="58.3" y="478.5" width="43.39" height="0.6" fill="#e07b71"/>
<rect x="58.3" y="479.05" width="43.44" height="0.6" fill="#e07b71"/>
<rect x="58.3" y="479.6" width="43.73" height="0.6" fill="#e07b71"/>
<rect x="58.3" y="480.16" width="43.75" height="0.6" fill="#e07b71"/>
<rect x="58.3" y="480.71" width="43.84" height="0.6" fill="#e07b71"/>
<rect x="58.3" y="481.26" width="44.06" height="0.6" fill="#e07b71"/>
<rect x="58.3" y="481.82" width="44.08" height="0.6" fill="#e07b71"/>
<rect x="58.3" y="482.37" width="44.11" height="0.6" fill="#e07b71"/>
<rect x="58.3" y="482.92" width="44.15" height="0.6" fill="#e07b71"/>
<rect x="58.3" y="483.48" width="44.61" height="0.6" fill="#e07b71"/>
<rect x="58.3" y="484.03" width="44.66" height="0.6" fill="#e07b71"/>
<rect x="58.3" y="484.58" width="44.89" height="0.6" fill="#e07b71"/>
<rect x="58.3" y="485.14" width="45.04" height="0.6" fill="#e07b71"/>
<rect x="58.3" y="485.69" width="45.09" height="0.6" fill="#e07b71"/>
<rect x="58.3" y="486.24" width="45.38" height="0.6" fill="#e07b71"/>
<rect x="58.3" y="486.8" width="45.41" height="0.6" fill="#e07b71"/>
<rect x="58.3" y="487.35" width="45.44" height="0.6" fill="#e07b71"/>
<rect x="58.3" y="487.9" width="45.71" height="0.6" fill="#e07b71"/>
<rect x="58.3" y="488.46" width="46.08" height="0.6" fill="#e07b71"/>
<rect x="58.3" y="489.01" width="46.17" height="0.6" fill="#e07b71"/>
<rect x="58.3" y="489.56" width="46.37" height="0.6" fill="#e07b71"/>
<rect x="58.3" y="490.12" width="46.55" height="0.6" fill="#e07b71"/>
<rect x="58.3" y="490.67" width="46.62" height="0.6" fill="#e07b71"/>
<rect x="58.3" y="491.22" width="46.68" height="0.6" fill="#e07b71"/>
<rect x="58.3" y="491.78" width="47.06" height="0.6" fill="#e07b71"/>
<rect x="58.3" y="492.33" width="47.52" height="0.6" fill="#e07b71"/>
<rect x="58.3" y="492.88" width="47.62" height="0.6" fill="#e07b71"/>
<rect x="58.3" y="493.44" width="47.65" height="0.6" fill="#e07b71"/>
<rect x="58.3" y="493.99" width="47.75" height="0.6" fill="#e07b71"/>
<rect x="58.3" y="494.54" width="47.77" height="0.6" fill="#e07b71"/>
<rect x="58.3" y="495.1" width="47.8" height="0.6" fill="#e07b71"/>
<rect x="58.3" y="495.65" width="48.31" height="0.6" fill="#e07b71"/>
<rect x="58.3" y="496.2" width="48.47" height="0.6" fill="#e07b71"/>
<rect x="58.3" y="496.76" width="48.58" height="0.6" fill="#e07b71"/>
<rect x="58.3" y="497.31" width="48.66" height="0.6" fill="#e07b71"/>
<rect x="58.3" y="497.86" width="48.71" height="0.6" fill="#e07b71"/>
<rect x="58.3" y="498.42" width="48.88" height="0.6" fill="#e07b71"/>
<rect x="58.3" y="498.97" width="49.08" height="0.6" fill="#e07b71"/>
<rect x="58.3" y="499.52" width="49.14" height="0.6" fill="#e07b71"/>
<rect x="58.3" y="500.08" width="49.15" height="0.6" fill="#e07b71"/>
<rect x="58.3" y="500.63" width="49.69" height="0.6" fill="#e07b71"/>
<rect x="58.3" y="501.18" width="50.18" height="0.6" fill="#e07b71"/>
<rect x="58.3" y="501.74" width="50.21" height="0.6" fill="#e07b71"/>
<rect x="58.3" y="502.29" width="50.27" height="0.6" fill="#e07b71"/>
<rect x="58.3" y="502.84" width="50.28" height="0.6" fill="#e07b71"/>
<rect x="58.3" y="503.4" width="50.36" height="0.6" fill="#e07b71"/>
<rect x="58.3" y="503.95" width="50.43" height="0.6" fill="#e07b71"/>
<rect x="58.3" y="504.5" width="50.89" height="0.6" fill="#e07b71"/>
<rect x="58.3" y="505.06" width="50.98" height="0.6" fill="#e07b71"/>
<rect x="58.3" y="505.61" width="51.11" height="0.6" fill="#e07b71"/>
<rect x="58.3" y="506.16" width="51.23" height="0.6" fill="#e07b71"/>
<rect x="58.3" y="506.72" width="51.32" height="0.6" fill="#e07b71"/>
<rect x="58.3" y="507.27" width="51.46" height="0.6" fill="#e07b71"/>
<rect x="58.3" y="507.82" width="51.56" height="0.6" fill="#e07b71"/>
<rect x="58.3" y="508.38" width="51.97" height="0.6" fill="#e07b71"/>
<rect x="58.3" y="508.93" width="52.51" height="0.6" fill="#e07b71"/>
<rect x="58.3" y="509.48" width="52.56" height="0.6" fill="#e07b71"/>
<rect x="58.3" y="510.04" width="52.65" height="0.6" fill="#e07b71"/>
<rect x="58.3" y="510.59" width="52.68" height="0.6" fill="#e07b71"/>
<rect x="58.3" y="511.14" width="52.75" height="0.6" fill="#e07b71"/>
<rect x="58.3" y="511.7" width="53.13" height="0.6" fill="#e07b71"/>
<rect x="58.3" y="512.25" width="53.52" height="0.6" fill="#e07b71"/>
<rect x="58.3" y="512.8" width="53.54" height="0.6" fill="#e07b71"/>
<rect x="58.3" y="513.36" width="53.55" height="0.6" fill="#e07b71"/>
<rect x="58.3" y="513.91" width="54.12" height="0.6" fill="#e07b71"/>
<rect x="58.3" y="514.46" width="54.14" height="0.6" fill="#e07b71"/>
<rect x="58.3" y="515.02" width="54.14" height="0.6" fill="#e07b71"/>
<rect x="58.3" y="515.57" width="54.89" height="0.6" fill="#e07b71"/>
<rect x="58.3" y="516.12" width="55" height="0.6" fill="#e07b71"/>
<rect x="58.3" y="516.68" width="55.26" height="0.6" fill="#e07b71"/>
<rect x="58.3" y="517.23" width="55.32" height="0.6" fill="#e07b71"/>
<rect x="58.3" y="517.78" width="55.35" height="0.6" fill="#e07b71"/>
<rect x="58.3" y="518.33" width="55.58" height="0.6" fill="#e07b71"/>
<rect x="58.3" y="518.89" width="55.59" height="0.6" fill="#e07b71"/>
<rect x="58.3" y="519.44" width="55.94" height="0.6" fill="#e07b71"/>
<rect x="58.3" y="519.99" width="56.1" height="0.6" fill="#e07b71"/>
<rect x="58.3" y="520.55" width="56.18" height="0.6" fill="#e07b71"/>
<rect x="58.3" y="521.1" width="56.47" height="0.6" fill="#e07b71"/>
<rect x="58.3" y="521.65" width="56.49" height="0.6" fill="#e07b71"/>
<rect x="58.3" y="522.21" width="56.65" height="0.6" fill="#e07b71"/>
<rect x="58.3" y="522.76" width="57.03" height="0.6" fill="#e07b71"/>
<rect x="58.3" y="523.31" width="57.09" height="0.6" fill="#e07b71"/>
<rect x="58.3" y="523.87" width="57.22" height="0.6" fill="#e07b71"/>
<rect x="58.3" y="524.42" width="57.32" height="0.6" fill="#e07b71"/>
<rect x="58.3" y="524.97" width="57.35" height="0.6" fill="#e07b71"/>
<rect x="58.3" y="525.53" width="57.47" height="0.6" fill="#e07b71"/>
<rect x="58.3" y="526.08" width="57.75" height="0.6" fill="#e07b71"/>
<rect x="58.3" y="526.63" width="58.04" height="0.6" fill="#e07b71"/>
<rect x="58.3" y="527.19" width="58.09" height="0.6" fill="#e07b71"/>
<rect x="58.3" y="527.74" width="58.17" height="0.6" fill="#e07b71"/>
<rect x="58.3" y="528.29" width="58.34" height="0.6" fill="#e07b71"/>
<rect x="58.3" y="528.85" width="58.47" height="0.6" fill="#e07b71"/>
<rect x="58.3" y="529.4" width="58.83" height="0.6" fill="#e07b71"/>
<rect x="58.3" y="529.95" width="58.95" height="0.6" fill="#e07b71"/>
<rect x="58.3" y="530.51" width="59.27" height="0.6" fill="#e07b71"/>
<rect x="58.3" y="531.06" width="59.32" height="0.6" fill="#e07b71"/>
<rect x="58.3" y="531.61" width="59.49" height="0.6" fill="#e07b71"/>
<rect x="58.3" y="532.17" width="59.63" height="0.6" fill="#e07b71"/>
<rect x="58.3" y="532.72" width="59.67" height="0.6" fill="#e07b71"/>
<rect x="58.3" y="533.27" width="59.68" height="0.6" fill="#e07b71"/>
<rect x="58.3" y="533.83" width="60.06" height="0.6" fill="#e07b71"/>
<rect x="58.3" y="534.38" width="60.07" height="0.6" fill="#e07b71"/>
<rect x="58.3" y="534.93" width="60.21" height="0.6" fill="#e07b71"/>
<rect x="58.3" y="535.49" width="60.31" height="0.6" fill="#e07b71"/>
<rect x="58.3" y="536.04" width="60.36" height="0.6" fill="#e07b71"/>
<rect x="58.3" y="536.59" width="61.09" height="0.6" fill="#e07b71"/>
<rect x="58.3" y="537.15" width="61.34" height="0.6" fill="#e07b71"/>
<rect x="58.3" y="537.7" width="61.36" height="0.6" fill="#e07b71"/>
<rect x="58.3" y="538.25" width="61.48" height="0.6" fill="#e07b71"/>
<rect x="58.3" y="538.81" width="61.72" height="0.6" fill="#e07b71"/>
<rect x="58.3" y="539.36" width="61.72" height="0.6" fill="#e07b71"/>
<rect x="58.3" y="539.91" width="61.91" height="0.6" fill="#e07b71"/>
<rect x="58.3" y="540.47" width="62.12" height="0.6" fill="#e07b71"/>
<rect x="58.3" y="541.02" width="62.21" height="0.6" fill="#e07b71"/>
<rect x="58.3" y="541.57" width="62.5" height="0.6" fill="#e07b71"/>
<rect x="58.3" y="542.13" width="62.52" height="0.6" fill="#e07b71"/>
<rect x="58.3" y="542.68" width="62.55" height="0.6" fill="#e07b71"/>
<rect x="58.3" y="543.23" width="62.81" height="0.6" fill="#e07b71"/>
<rect x="58.3" y="543.79" width="62.86" height="0.6" fill="#e07b71"/>
<rect x="58.3" y="544.34" width="63.07" height="0.6" fill="#e07b71"/>
<rect x="58.3" y="544.89" width="63.16" height="0.6" fill="#e07b71"/>
<rect x="58.3" y="545.45" width="63.18" height="0.6" fill="#e07b71"/>
<rect x="58.3" y="546" width="63.29" height="0.6" fill="#e07b71"/>
<rect x="58.3" y="546.55" width="63.35" height="0.6" fill="#e07b71"/>
<rect x="58.3" y="547.11" width="63.79" height="0.6" fill="#e07b71"/>
<rect x="58.3" y="547.66" width="63.88" height="0.6" fill="#e07b71"/>
<rect x="58.3" y="548.21" width="64.11" height="0.6" fill="#e07b71"/>
<rect x="58.3" y="548.77" width="64.15" height="0.6" fill="#e07b71"/>
<rect x="58.3" y="549.32" width="64.22" height="0.6" fill="#e07b71"/>
<rect x="58.3" y="549.87" width="64.29" height="0.6" fill="#e07b71"/>
<rect x="58.3" y="550.43" width="64.32" height="0.6" fill="#e07b71"/>
<rect x="58.3" y="550.98" width="64.34" height="0.6" fill="#e07b71"/>
<rect x="58.3" y="551.53" width="64.65" height="0.6" fill="#e07b71"/>
<rect x="58.3" y="552.09" width="65.01" height="0.6" fill="#e07b71"/>
<rect x="58.3" y="552.64" width="65.1" height="0.6" fill="#e9aba4"/>
<rect x="58.3" y="553.19" width="65.24" height="0.6" fill="#e9aba4"/>
<rect x="58.3" y="553.75" width="65.26" height="0.6" fill="#e9aba4"/>
<rect x="58.3" y="554.3" width="65.48" height="0.6" fill="#e28d84"/>
<rect x="58.3" y="554.85" width="65.58" height="0.6" fill="#e9aba4"/>
<rect x="58.3" y="555.41" width="65.58" height="0.6" fill="#e9aba4"/>
<rect x="58.3" y="555.96" width="66.07" height="0.6" fill="#e9aba4"/>
<rect x="58.3" y="556.51" width="66.44" height="0.6" fill="#e28d84"/>
<rect x="58.3" y="557.07" width="67.2" height="0.6" fill="#e9aba4"/>
<rect x="58.3" y="557.62" width="67.38" height="0.6" fill="#e9aba4"/>
<rect x="58.3" y="558.17" width="67.69" height="0.6" fill="#e9aba4"/>
<rect x="58.3" y="558.73" width="67.96" height="0.6" fill="#e9aba4"/>
<rect x="58.3" y="559.28" width="68.22" height="0.6" fill="#e9aba4"/>
<rect x="58.3" y="559.83" width="69.04" height="0.6" fill="#e9aba4"/>
<rect x="58.3" y="560.39" width="69.28" height="0.6" fill="#e9aba4"/>
<rect x="58.3" y="560.94" width="69.33" height="0.6" fill="#e28d84"/>
<rect x="58.3" y="561.49" width="69.51" height="0.6" fill="#e28d84"/>
<rect x="58.3" y="562.05" width="70.22" height="0.6" fill="#e9aba4"/>
<rect x="58.3" y="562.6" width="70.33" height="0.6" fill="#e9aba4"/>
<rect x="58.3" y="563.15" width="70.6" height="0.6" fill="#e9aba4"/>
<rect x="58.3" y="563.71" width="71.69" height="0.6" fill="#e28d84"/>
<rect x="58.3" y="564.26" width="71.88" height="0.6" fill="#e9aba4"/>
<rect x="58.3" y="564.81" width="72.07" height="0.6" fill="#e28d84"/>
<rect x="58.3" y="565.37" width="72.57" height="0.6" fill="#e9aba4"/>
<rect x="58.3" y="565.92" width="72.71" height="0.6" fill="#e9aba4"/>
<rect x="58.3" y="566.47" width="73.23" height="0.6" fill="#e9aba4"/>
<rect x="58.3" y="567.03" width="73.31" height="0.6" fill="#e9aba4"/>
<rect x="58.3" y="567.58" width="73.49" height="0.6" fill="#e9aba4"/>
<rect x="58.3" y="568.13" width="74.21" height="0.6" fill="#e9aba4"/>
<rect x="58.3" y="568.69" width="74.75" height="0.6" fill="#e9aba4"/>
<rect x="58.3" y="569.24" width="75.74" height="0.6" fill="#e28d84"/>
<rect x="58.3" y="569.79" width="75.81" height="0.6" fill="#e9aba4"/>
<rect x="58.3" y="570.35" width="76.05" height="0.6" fill="#e9aba4"/>
<rect x="58.3" y="570.9" width="76.14" height="0.6" fill="#e9aba4"/>
<rect x="58.3" y="571.45" width="76.7" height="0.6" fill="#e28d84"/>
<rect x="58.3" y="572" width="76.82" height="0.6" fill="#e9aba4"/>
<rect x="58.3" y="572.56" width="77.81" height="0.6" fill="#e9aba4"/>
<rect x="58.3" y="573.11" width="78" height="0.6" fill="#e9aba4"/>
<rect x="58.3" y="573.66" width="78.24" height="0.6" fill="#e28d84"/>
<rect x="58.3" y="574.22" width="78.65" height="0.6" fill="#e9aba4"/>
<rect x="58.3" y="574.77" width="79.03" height="0.6" fill="#e9aba4"/>
<rect x="58.3" y="575.32" width="79.4" height="0.6" fill="#e9aba4"/>
<rect x="58.3" y="575.88" width="79.5" height="0.6" fill="#e9aba4"/>
<rect x="58.3" y="576.43" width="80.4" height="0.6" fill="#e9aba4"/>
<rect x="58.3" y="576.98" width="80.74" height="0.6" fill="#e9aba4"/>
<rect x="58.3" y="577.54" width="80.8" height="0.6" fill="#e9aba4"/>
<rect x="58.3" y="578.09" width="81.08" height="0.6" fill="#e28d84"/>
<rect x="58.3" y="578.64" width="81.26" height="0.6" fill="#e28d84"/>
<rect x="58.3" y="579.2" width="81.3" height="0.6" fill="#e28d84"/>
<rect x="58.3" y="579.75" width="82.02" height="0.6" fill="#e9aba4"/>
<rect x="58.3" y="580.3" width="82.39" height="0.6" fill="#e9aba4"/>
<rect x="58.3" y="580.86" width="82.62" height="0.6" fill="#e9aba4"/>
<rect x="58.3" y="581.41" width="82.65" height="0.6" fill="#e9aba4"/>
<rect x="58.3" y="581.96" width="82.72" height="0.6" fill="#e9aba4"/>
<rect x="58.3" y="582.52" width="82.89" height="0.6" fill="#e9aba4"/>
<rect x="58.3" y="583.07" width="83.86" height="0.6" fill="#e9aba4"/>
<rect x="58.3" y="583.62" width="83.96" height="0.6" fill="#e9aba4"/>
<rect x="58.3" y="584.18" width="84.19" height="0.6" fill="#e9aba4"/>
<rect x="58.3" y="584.73" width="84.54" height="0.6" fill="#e9aba4"/>
<rect x="58.3" y="585.28" width="84.57" height="0.6" fill="#e9aba4"/>
<rect x="58.3" y="585.84" width="84.65" height="0.6" fill="#e9aba4"/>
<rect x="58.3" y="586.39" width="85.97" height="0.6" fill="#e9aba4"/>
<rect x="58.3" y="586.94" width="86.42" height="0.6" fill="#e28d84"/>
<rect x="58.3" y="587.5" width="86.81" height="0.6" fill="#e9aba4"/>
<rect x="58.3" y="588.05" width="86.81" height="0.6" fill="#e9aba4"/>
<rect x="58.3" y="588.6" width="86.84" height="0.6" fill="#e9aba4"/>
<rect x="58.3" y="589.16" width="87.44" height="0.6" fill="#e9aba4"/>
<rect x="58.3" y="589.71" width="88.02" height="0.6" fill="#e9aba4"/>
<rect x="58.3" y="590.26" width="88.12" height="0.6" fill="#e9aba4"/>
<rect x="58.3" y="590.82" width="88.56" height="0.6" fill="#e9aba4"/>
<rect x="58.3" y="591.37" width="89.13" height="0.6" fill="#e9aba4"/>
<rect x="58.3" y="591.92" width="89.52" height="0.6" fill="#e9aba4"/>
<rect x="58.3" y="592.48" width="89.8" height="0.6" fill="#e9aba4"/>
<rect x="58.3" y="593.03" width="89.87" height="0.6" fill="#e9aba4"/>
<rect x="58.3" y="593.58" width="90.97" height="0.6" fill="#e9aba4"/>
<rect x="58.3" y="594.14" width="91.6" height="0.6" fill="#e28d84"/>
<rect x="58.3" y="594.69" width="91.6" height="0.6" fill="#e9aba4"/>
<rect x="58.3" y="595.24" width="92.47" height="0.6" fill="#e9aba4"/>
<rect x="58.3" y="595.8" width="92.6" height="0.6" fill="#e9aba4"/>
<rect x="58.3" y="596.35" width="93.24" height="0.6" fill="#e9aba4"/>
<rect x="58.3" y="596.9" width="93.38" height="0.6" fill="#e9aba4"/>
<rect x="58.3" y="597.46" width="94.31" height="0.6" fill="#e9aba4"/>
<rect x="58.3" y="598.01" width="94.37" height="0.6" fill="#e9aba4"/>
<rect x="58.3" y="598.56" width="94.74" height="0.6" fill="#e9aba4"/>
<rect x="58.3" y="599.12" width="95.43" height="0.6" fill="#e9aba4"/>
<rect x="58.3" y="599.67" width="95.58" height="0.6" fill="#e9aba4"/>
<rect x="58.3" y="600.22" width="96.29" height="0.6" fill="#e9aba4"/>
<rect x="58.3" y="600.78" width="96.85" height="0.6" fill="#e28d84"/>
<rect x="58.3" y="601.33" width="97.75" height="0.6" fill="#e9aba4"/>
<rect x="58.3" y="601.88" width="97.81" height="0.6" fill="#e9aba4"/>
<rect x="58.3" y="602.44" width="98.17" height="0.6" fill="#e9aba4"/>
<rect x="58.3" y="602.99" width="98.19" height="0.6" fill="#e9aba4"/>
<rect x="58.3" y="603.54" width="98.63" height="0.6" fill="#e9aba4"/>
<rect x="58.3" y="604.1" width="99.46" height="0.6" fill="#e9aba4"/>
<rect x="58.3" y="604.65" width="99.88" height="0.6" fill="#e9aba4"/>
<rect x="58.3" y="605.2" width="100.01" height="0.6" fill="#e9aba4"/>
<rect x="58.3" y="605.76" width="100.18" height="0.6" fill="#e9aba4"/>
<rect x="58.3" y="606.31" width="101.41" height="0.6" fill="#e28d84"/>
<rect x="58.3" y="606.86" width="102.01" height="0.6" fill="#e9aba4"/>
<rect x="58.3" y="607.42" width="102.22" height="0.6" fill="#e9aba4"/>
<rect x="58.3" y="607.97" width="102.34" height="0.6" fill="#e9aba4"/>
<rect x="58.3" y="608.52" width="102.97" height="0.6" fill="#e9aba4"/>
<rect x="58.3" y="609.08" width="103.37" height="0.6" fill="#e9aba4"/>
<rect x="58.3" y="609.63" width="103.54" height="0.6" fill="#e9aba4"/>
<rect x="58.3" y="610.18" width="104.9" height="0.6" fill="#e9aba4"/>
<rect x="58.3" y="610.74" width="105.56" height="0.6" fill="#e9aba4"/>
<rect x="58.3" y="611.29" width="105.67" height="0.6" fill="#e9aba4"/>
<rect x="58.3" y="611.84" width="105.74" height="0.6" fill="#e9aba4"/>
<rect x="58.3" y="612.4" width="106.18" height="0.6" fill="#e9aba4"/>
<rect x="58.3" y="612.95" width="106.38" height="0.6" fill="#e9aba4"/>
<rect x="58.3" y="613.5" width="107.17" height="0.6" fill="#e9aba4"/>
<rect x="58.3" y="614.06" width="107.3" height="0.6" fill="#e9aba4"/>
<rect x="58.3" y="614.61" width="107.32" height="0.6" fill="#e9aba4"/>
<rect x="58.3" y="615.16" width="108.16" height="0.6" fill="#e28d84"/>
<rect x="58.3" y="615.72" width="108.99" height="0.6" fill="#e9aba4"/>
<rect x="58.3" y="616.27" width="109.47" height="0.6" fill="#e9aba4"/>
<rect x="58.3" y="616.82" width="109.48" height="0.6" fill="#e9aba4"/>
<rect x="58.3" y="617.38" width="109.73" height="0.6" fill="#e28d84"/>
<rect x="58.3" y="617.93" width="109.91" height="0.6" fill="#e9aba4"/>
<rect x="58.3" y="618.48" width="110.71" height="0.6" fill="#e9aba4"/>
<rect x="58.3" y="619.04" width="110.95" height="0.6" fill="#e9aba4"/>
<rect x="58.3" y="619.59" width="111.24" height="0.6" fill="#e9aba4"/>
<rect x="58.3" y="620.14" width="112.6" height="0.6" fill="#e9aba4"/>
<rect x="58.3" y="620.7" width="112.91" height="0.6" fill="#e9aba4"/>
<rect x="58.3" y="621.25" width="113.47" height="0.6" fill="#e9aba4"/>
<rect x="58.3" y="621.8" width="113.75" height="0.6" fill="#e9aba4"/>
<rect x="58.3" y="622.36" width="115.13" height="0.6" fill="#e9aba4"/>
<rect x="58.3" y="622.91" width="115.3" height="0.6" fill="#e9aba4"/>
<rect x="58.3" y="623.46" width="115.93" height="0.6" fill="#e9aba4"/>
<rect x="58.3" y="624.02" width="117.12" height="0.6" fill="#e28d84"/>
<rect x="58.3" y="624.57" width="118.05" height="0.6" fill="#e9aba4"/>
<rect x="58.3" y="625.12" width="119.2" height="0.6" fill="#e9aba4"/>
<rect x="58.3" y="625.68" width="119.51" height="0.6" fill="#e9aba4"/>
<rect x="58.3" y="626.23" width="120.54" height="0.6" fill="#e9aba4"/>
<rect x="58.3" y="626.78" width="121.18" height="0.6" fill="#e9aba4"/>
<rect x="58.3" y="627.34" width="121.53" height="0.6" fill="#e9aba4"/>
<rect x="58.3" y="627.89" width="121.79" height="0.6" fill="#e9aba4"/>
<rect x="58.3" y="628.44" width="122.22" height="0.6" fill="#e9aba4"/>
<rect x="58.3" y="628.99" width="122.72" height="0.6" fill="#e9aba4"/>
<rect x="58.3" y="629.55" width="123.08" height="0.6" fill="#e9aba4"/>
<rect x="58.3" y="630.1" width="125.22" height="0.6" fill="#e28d84"/>
<rect x="58.3" y="630.65" width="125.67" height="0.6" fill="#e28d84"/>
<rect x="58.3" y="631.21" width="126.2" height="0.6" fill="#e28d84"/>
<rect x="58.3" y="631.76" width="126.27" height="0.6" fill="#e9aba4"/>
<rect x="58.3" y="632.31" width="127.26" height="0.6" fill="#e9aba4"/>
<rect x="58.3" y="632.87" width="127.78" height="0.6" fill="#e28d84"/>
<rect x="58.3" y="633.42" width="129.42" height="0.6" fill="#e9aba4"/>
<rect x="58.3" y="633.97" width="130.54" height="0.6" fill="#e9aba4"/>
<rect x="58.3" y="634.53" width="130.87" height="0.6" fill="#e9aba4"/>
<rect x="58.3" y="635.08" width="130.94" height="0.6" fill="#e9aba4"/>
<rect x="58.3" y="635.63" width="132" height="0.6" fill="#e9aba4"/>
<rect x="58.3" y="636.19" width="133.15" height="0.6" fill="#e9aba4"/>
<rect x="58.3" y="636.74" width="134.92" height="0.6" fill="#e28d84"/>
<rect x="58.3" y="637.29" width="135.6" height="0.6" fill="#e9aba4"/>
<rect x="58.3" y="637.85" width="135.84" height="0.6" fill="#e9aba4"/>
<rect x="58.3" y="638.4" width="136.08" height="0.6" fill="#e9aba4"/>
<rect x="58.3" y="638.95" width="136.93" height="0.6" fill="#e9aba4"/>
<rect x="58.3" y="639.51" width="137.85" height="0.6" fill="#e9aba4"/>
<rect x="58.3" y="640.06" width="139.76" height="0.6" fill="#e28d84"/>
<rect x="58.3" y="640.61" width="140.08" height="0.6" fill="#e9aba4"/>
<rect x="58.3" y="641.17" width="141.8" height="0.6" fill="#e9aba4"/>
<rect x="58.3" y="641.72" width="142.51" height="0.6" fill="#e9aba4"/>
<rect x="58.3" y="642.27" width="143.15" height="0.6" fill="#e28d84"/>
<rect x="58.3" y="642.83" width="143.45" height="0.6" fill="#e9aba4"/>
<rect x="58.3" y="643.38" width="144.42" height="0.6" fill="#e9aba4"/>
<rect x="58.3" y="643.93" width="144.88" height="0.6" fill="#e9aba4"/>
<rect x="58.3" y="644.49" width="145.1" height="0.6" fill="#e9aba4"/>
<rect x="58.3" y="645.04" width="146.6" height="0.6" fill="#e9aba4"/>
<rect x="58.3" y="645.59" width="147.22" height="0.6" fill="#e9aba4"/>
<rect x="58.3" y="646.15" width="147.43" height="0.6" fill="#e28d84"/>
<rect x="58.3" y="646.7" width="148.22" height="0.6" fill="#e9aba4"/>
<rect x="58.3" y="647.25" width="148.55" height="0.6" fill="#e9aba4"/>
<rect x="58.3" y="647.81" width="150.78" height="0.6" fill="#e9aba4"/>
<rect x="58.3" y="648.36" width="151.16" height="0.6" fill="#e9aba4"/>
<rect x="58.3" y="648.91" width="152.28" height="0.6" fill="#e9aba4"/>
<rect x="58.3" y="649.47" width="152.86" height="0.6" fill="#e9aba4"/>
<rect x="58.3" y="650.02" width="153.06" height="0.6" fill="#e9aba4"/>
<rect x="58.3" y="650.57" width="154.08" height="0.6" fill="#e9aba4"/>
<rect x="58.3" y="651.13" width="154.2" height="0.6" fill="#e28d84"/>
<rect x="58.3" y="651.68" width="155.65" height="0.6" fill="#e9aba4"/>
<rect x="58.3" y="652.23" width="155.94" height="0.6" fill="#e9aba4"/>
<rect x="58.3" y="652.79" width="156.42" height="0.6" fill="#e9aba4"/>
<rect x="58.3" y="653.34" width="156.45" height="0.6" fill="#e9aba4"/>
<rect x="58.3" y="653.89" width="157.51" height="0.6" fill="#e9aba4"/>
<rect x="58.3" y="654.45" width="158.86" height="0.6" fill="#e28d84"/>
<rect x="58.3" y="655" width="159.21" height="0.6" fill="#e28d84"/>
<rect x="58.3" y="655.55" width="159.23" height="0.6" fill="#e9aba4"/>
<rect x="58.3" y="656.11" width="161.22" height="0.6" fill="#e9aba4"/>
<rect x="58.3" y="656.66" width="161.7" height="0.6" fill="#e9aba4"/>
<rect x="58.3" y="657.21" width="161.75" height="0.6" fill="#e9aba4"/>
<rect x="58.3" y="657.77" width="161.81" height="0.6" fill="#e9aba4"/>
<rect x="58.3" y="658.32" width="163.57" height="0.6" fill="#e9aba4"/>
<rect x="58.3" y="658.87" width="163.75" height="0.6" fill="#e9aba4"/>
<rect x="58.3" y="659.43" width="163.75" height="0.6" fill="#e9aba4"/>
<rect x="58.3" y="659.98" width="164.61" height="0.6" fill="#e9aba4"/>
<rect x="58.3" y="660.53" width="165.73" height="0.6" fill="#e9aba4"/>
<rect x="58.3" y="661.09" width="166.71" height="0.6" fill="#e28d84"/>
<rect x="58.3" y="661.64" width="166.78" height="0.6" fill="#e9aba4"/>
<rect x="58.3" y="662.19" width="167.45" height="0.6" fill="#e9aba4"/>
<rect x="58.3" y="662.75" width="167.58" height="0.6" fill="#e9aba4"/>
<rect x="58.3" y="663.3" width="168.12" height="0.6" fill="#e9aba4"/>
<rect x="58.3" y="663.85" width="169.57" height="0.6" fill="#e9aba4"/>
<rect x="58.3" y="664.41" width="169.71" height="0.6" fill="#e9aba4"/>
<rect x="58.3" y="664.96" width="169.86" height="0.6" fill="#e9aba4"/>
<rect x="58.3" y="665.51" width="170.96" height="0.6" fill="#e9aba4"/>
<rect x="58.3" y="666.07" width="171.15" height="0.6" fill="#e9aba4"/>
<rect x="58.3" y="666.62" width="171.7" height="0.6" fill="#e9aba4"/>
<rect x="58.3" y="667.17" width="172.67" height="0.6" fill="#e9aba4"/>
<rect x="58.3" y="667.73" width="173.43" height="0.6" fill="#e9aba4"/>
<rect x="58.3" y="668.28" width="174.06" height="0.6" fill="#e9aba4"/>
<rect x="58.3" y="668.83" width="174.71" height="0.6" fill="#e28d84"/>
<rect x="58.3" y="669.39" width="174.72" height="0.6" fill="#e9aba4"/>
<rect x="58.3" y="669.94" width="174.8" height="0.6" fill="#e9aba4"/>
<rect x="58.3" y="670.49" width="175.77" height="0.6" fill="#e9aba4"/>
<rect x="58.3" y="671.05" width="176.37" height="0.6" fill="#e28d84"/>
<rect x="58.3" y="671.6" width="177.02" height="0.6" fill="#e9aba4"/>
<rect x="58.3" y="672.15" width="177.44" height="0.6" fill="#e28d84"/>
<rect x="58.3" y="672.71" width="178.44" height="0.6" fill="#e9aba4"/>
<rect x="58.3" y="673.26" width="178.79" height="0.6" fill="#e9aba4"/>
<rect x="58.3" y="673.81" width="179.05" height="0.6" fill="#e28d84"/>
<rect x="58.3" y="674.37" width="184.38" height="0.6" fill="#e28d84"/>
<rect x="58.3" y="674.92" width="189.34" height="0.6" fill="#e9aba4"/>
<rect x="58.3" y="675.47" width="193.86" height="0.6" fill="#e9aba4"/>
<rect x="58.3" y="676.03" width="198.2" height="0.6" fill="#e9aba4"/>
<rect x="58.3" y="676.58" width="204.4" height="0.6" fill="#e9aba4"/>
<rect x="58.3" y="677.13" width="208.76" height="0.6" fill="#e28d84"/>
<rect x="58.3" y="677.69" width="210.17" height="0.6" fill="#e28d84"/>
<rect x="58.3" y="678.24" width="212.78" height="0.6" fill="#e9aba4"/>
<rect x="58.3" y="678.79" width="216.38" height="0.6" fill="#e9aba4"/>
<rect x="58.3" y="679.35" width="217.4" height="0.6" fill="#e9aba4"/>
<rect x="58.3" y="679.9" width="220" height="0.6" fill="#e9aba4"/>
<rect x="58.3" y="680.45" width="222.99" height="0.6" fill="#e28d84"/>
<rect x="58.3" y="681.01" width="225.37" height="0.6" fill="#e9aba4"/>
<rect x="58.3" y="681.56" width="227.36" height="0.6" fill="#e9aba4"/>
<rect x="58.3" y="682.11" width="229.86" height="0.6" fill="#e9aba4"/>
<rect x="58.3" y="682.67" width="233.61" height="0.6" fill="#e9aba4"/>
<rect x="58.3" y="683.22" width="238.65" height="0.6" fill="#e9aba4"/>
<rect x="58.3" y="683.77" width="245.1" height="0.6" fill="#e9aba4"/>
<rect x="58.3" y="684.32" width="248.42" height="0.6" fill="#e28d84"/>
<rect x="58.3" y="684.88" width="248.45" height="0.6" fill="#e9aba4"/>
<rect x="58.3" y="685.43" width="248.47" height="0.6" fill="#e9aba4"/>
<rect x="58.3" y="685.98" width="248.57" height="0.6" fill="#e9aba4"/>
<rect x="58.3" y="686.54" width="248.65" height="0.6" fill="#e9aba4"/>
<rect x="58.3" y="687.09" width="248.7" height="0.6" fill="#e9aba4"/>
<rect x="58.3" y="687.64" width="248.7" height="0.6" fill="#e9aba4"/>
<rect x="58.3" y="688.2" width="248.7" height="0.6" fill="#e28d84"/>
<rect x="58.3" y="688.75" width="248.7" height="0.6" fill="#e9aba4"/>
<rect x="58.3" y="689.3" width="248.7" height="0.6" fill="#e9aba4"/>
<rect x="58.3" y="689.86" width="248.7" height="0.6" fill="#e9aba4"/>
<rect x="58.3" y="690.41" width="248.7" height="0.6" fill="#e9aba4"/>
<rect x="58.3" y="690.96" width="248.7" height="0.6" fill="#e28d84"/>
<rect x="58.3" y="691.52" width="248.7" height="0.6" fill="#e9aba4"/>
<rect x="58.3" y="692.07" width="248.7" height="0.6" fill="#e9aba4"/>
<rect x="58.3" y="692.62" width="248.7" height="0.6" fill="#e9aba4"/>
<rect x="58.3" y="693.18" width="248.7" height="0.6" fill="#e9aba4"/>
<rect x="58.3" y="693.73" width="248.7" height="0.6" fill="#e9aba4"/>
</g>
<rect x="58.3" y="104.7" width="3.02" height="0.9" fill="#ffffff" opacity="0.16"/>
<rect x="58.3" y="111.1" width="3.08" height="0.9" fill="#ffffff" opacity="0.16"/>
<rect x="58.3" y="117.5" width="3.17" height="0.9" fill="#ffffff" opacity="0.16"/>
<rect x="58.3" y="123.9" width="3.3" height="0.9" fill="#ffffff" opacity="0.16"/>
<rect x="58.3" y="130.3" width="3.38" height="0.9" fill="#ffffff" opacity="0.16"/>
<rect x="58.3" y="136.7" width="3.49" height="0.9" fill="#ffffff" opacity="0.16"/>
<rect x="58.3" y="143.1" width="6.06" height="0.9" fill="#ffffff" opacity="0.16"/>
<rect x="58.3" y="149.5" width="6.48" height="0.9" fill="#ffffff" opacity="0.16"/>
<rect x="58.3" y="155.9" width="6.92" height="0.9" fill="#ffffff" opacity="0.16"/>
<rect x="58.3" y="162.3" width="7.35" height="0.9" fill="#ffffff" opacity="0.16"/>
<rect x="58.3" y="168.7" width="7.81" height="0.9" fill="#ffffff" opacity="0.16"/>
<rect x="58.3" y="175.1" width="8.17" height="0.9" fill="#ffffff" opacity="0.16"/>
<rect x="58.3" y="181.5" width="8.6" height="0.9" fill="#ffffff" opacity="0.16"/>
<rect x="58.3" y="187.9" width="8.96" height="0.9" fill="#ffffff" opacity="0.16"/>
<rect x="58.3" y="194.3" width="9.41" height="0.9" fill="#ffffff" opacity="0.16"/>
<rect x="58.3" y="200.7" width="9.96" height="0.9" fill="#ffffff" opacity="0.16"/>
<rect x="58.3" y="207.1" width="10.3" height="0.9" fill="#ffffff" opacity="0.16"/>
<rect x="58.3" y="213.5" width="10.73" height="0.9" fill="#ffffff" opacity="0.16"/>
<rect x="58.3" y="219.9" width="11.17" height="0.9" fill="#ffffff" opacity="0.16"/>
<rect x="58.3" y="226.3" width="11.57" height="0.9" fill="#ffffff" opacity="0.16"/>
<rect x="58.3" y="232.7" width="11.81" height="0.9" fill="#ffffff" opacity="0.16"/>
<rect x="58.3" y="239.1" width="12.3" height="0.9" fill="#ffffff" opacity="0.16"/>
<rect x="58.3" y="245.5" width="12.68" height="0.9" fill="#ffffff" opacity="0.16"/>
<rect x="58.3" y="251.9" width="12.88" height="0.9" fill="#ffffff" opacity="0.16"/>
<rect x="58.3" y="258.3" width="13.34" height="0.9" fill="#ffffff" opacity="0.16"/>
<rect x="58.3" y="264.7" width="13.75" height="0.9" fill="#ffffff" opacity="0.16"/>
<rect x="58.3" y="271.1" width="14.2" height="0.9" fill="#ffffff" opacity="0.16"/>
<rect x="58.3" y="277.5" width="14.58" height="0.9" fill="#ffffff" opacity="0.16"/>
<rect x="58.3" y="283.9" width="14.86" height="0.9" fill="#ffffff" opacity="0.16"/>
<rect x="58.3" y="290.3" width="15.28" height="0.9" fill="#ffffff" opacity="0.16"/>
<rect x="58.3" y="296.7" width="15.65" height="0.9" fill="#ffffff" opacity="0.16"/>
<rect x="58.3" y="303.1" width="15.98" height="0.9" fill="#ffffff" opacity="0.16"/>
<rect x="58.3" y="309.5" width="16.48" height="0.9" fill="#ffffff" opacity="0.16"/>
<rect x="58.3" y="315.9" width="16.86" height="0.9" fill="#ffffff" opacity="0.16"/>
<rect x="58.3" y="322.3" width="17.41" height="0.9" fill="#ffffff" opacity="0.16"/>
<rect x="58.3" y="328.7" width="18.33" height="0.9" fill="#ffffff" opacity="0.16"/>
<rect x="58.3" y="335.1" width="18.95" height="0.9" fill="#ffffff" opacity="0.16"/>
<rect x="58.3" y="341.5" width="19.75" height="0.9" fill="#ffffff" opacity="0.16"/>
<rect x="58.3" y="347.9" width="20.37" height="0.9" fill="#ffffff" opacity="0.16"/>
<rect x="58.3" y="354.3" width="21.34" height="0.9" fill="#ffffff" opacity="0.16"/>
<rect x="58.3" y="360.7" width="22.3" height="0.9" fill="#ffffff" opacity="0.16"/>
<rect x="58.3" y="367.1" width="22.84" height="0.9" fill="#ffffff" opacity="0.16"/>
<rect x="58.3" y="373.5" width="23.7" height="0.9" fill="#ffffff" opacity="0.16"/>
<rect x="58.3" y="379.9" width="24.34" height="0.9" fill="#ffffff" opacity="0.16"/>
<rect x="58.3" y="386.3" width="24.92" height="0.9" fill="#ffffff" opacity="0.16"/>
<rect x="58.3" y="392.7" width="25.79" height="0.9" fill="#ffffff" opacity="0.16"/>
<rect x="58.3" y="399.1" width="26.16" height="0.9" fill="#ffffff" opacity="0.16"/>
<rect x="58.3" y="405.5" width="27.25" height="0.9" fill="#ffffff" opacity="0.16"/>
<rect x="58.3" y="411.9" width="27.87" height="0.9" fill="#ffffff" opacity="0.16"/>
<rect x="58.3" y="418.3" width="29.02" height="0.9" fill="#ffffff" opacity="0.16"/>
<rect x="58.3" y="424.7" width="29.63" height="0.9" fill="#ffffff" opacity="0.16"/>
<rect x="58.3" y="431.1" width="31.12" height="0.9" fill="#ffffff" opacity="0.16"/>
<rect x="58.3" y="437.5" width="31.92" height="0.9" fill="#ffffff" opacity="0.16"/>
<rect x="58.3" y="443.9" width="33.81" height="0.9" fill="#ffffff" opacity="0.16"/>
<rect x="58.3" y="450.3" width="35.5" height="0.9" fill="#ffffff" opacity="0.16"/>
<rect x="58.3" y="456.7" width="37.3" height="0.9" fill="#ffffff" opacity="0.16"/>
<rect x="58.3" y="463.1" width="38.74" height="0.9" fill="#ffffff" opacity="0.16"/>
<rect x="58.3" y="469.5" width="40.18" height="0.9" fill="#ffffff" opacity="0.16"/>
<rect x="58.3" y="475.9" width="42.12" height="0.9" fill="#ffffff" opacity="0.16"/>
<rect x="58.3" y="482.3" width="44.08" height="0.9" fill="#ffffff" opacity="0.16"/>
<rect x="58.3" y="488.7" width="46.08" height="0.9" fill="#ffffff" opacity="0.16"/>
<rect x="58.3" y="495.1" width="47.8" height="0.9" fill="#ffffff" opacity="0.16"/>
<rect x="58.3" y="501.5" width="50.18" height="0.9" fill="#ffffff" opacity="0.16"/>
<rect x="58.3" y="507.9" width="51.56" height="0.9" fill="#ffffff" opacity="0.16"/>
<rect x="58.3" y="514.3" width="54.12" height="0.9" fill="#ffffff" opacity="0.16"/>
<rect x="58.3" y="520.7" width="56.18" height="0.9" fill="#ffffff" opacity="0.16"/>
<rect x="58.3" y="527.1" width="58.04" height="0.9" fill="#ffffff" opacity="0.16"/>
<rect x="58.3" y="533.5" width="59.68" height="0.9" fill="#ffffff" opacity="0.16"/>
<rect x="58.3" y="539.9" width="61.72" height="0.9" fill="#ffffff" opacity="0.16"/>
<rect x="58.3" y="546.3" width="63.29" height="0.9" fill="#ffffff" opacity="0.16"/>
<rect x="69" y="309.19" width="5.78" height="1.1" fill="#2a6e35" opacity="0.95"/>
<rect x="67.72" y="382.22" width="15.15" height="1.1" fill="#2a6e35" opacity="0.95"/>
<rect x="64.21" y="392.18" width="19.88" height="1.1" fill="#2a6e35" opacity="0.95"/>
<rect x="81.23" y="428.7" width="7.64" height="1.1" fill="#2a6e35" opacity="0.95"/>
<rect x="65.71" y="443.09" width="26.39" height="1.1" fill="#2a6e35" opacity="0.95"/>
<rect x="62.38" y="456.92" width="33.26" height="1.1" fill="#2a6e35" opacity="0.95"/>
<rect x="58.7" y="470.75" width="40.4" height="1.1" fill="#2a6e35" opacity="0.95"/>
<rect x="82.97" y="471.86" width="16.41" height="1.1" fill="#2a6e35" opacity="0.95"/>
<rect x="73.25" y="485.69" width="30.14" height="1.1" fill="#2a6e35" opacity="0.95"/>
<rect x="91.79" y="494.54" width="14.28" height="1.1" fill="#2a6e35" opacity="0.95"/>
<rect x="92.08" y="496.2" width="14.69" height="1.1" fill="#2a6e35" opacity="0.95"/>
<rect x="81.4" y="541.02" width="39.11" height="1.1" fill="#2a6e35" opacity="0.95"/>
<rect x="80.82" y="543.23" width="40.29" height="1.1" fill="#2a6e35" opacity="0.95"/>
<rect x="114.27" y="558.73" width="11.99" height="1.1" fill="#2a6e35" opacity="0.95"/>
<rect x="85.05" y="566.47" width="46.49" height="1.1" fill="#2a6e35" opacity="0.95"/>
<rect x="95.39" y="573.11" width="40.91" height="1.1" fill="#2a6e35" opacity="0.95"/>
<rect x="68.5" y="575.88" width="69.3" height="1.1" fill="#2a6e35" opacity="0.95"/>
<rect x="74.01" y="576.43" width="64.69" height="1.1" fill="#2a6e35" opacity="0.95"/>
<rect x="57.81" y="585.84" width="85.14" height="1.1" fill="#2a6e35" opacity="0.95"/>
<rect x="122.59" y="588.05" width="22.52" height="1.1" fill="#2a6e35" opacity="0.95"/>
<rect x="59.74" y="591.92" width="88.08" height="1.1" fill="#2a6e35" opacity="0.95"/>
<rect x="87.15" y="594.69" width="62.75" height="1.1" fill="#2a6e35" opacity="0.95"/>
<rect x="70.27" y="596.9" width="81.42" height="1.1" fill="#2a6e35" opacity="0.95"/>
<rect x="138.28" y="598.56" width="14.76" height="1.1" fill="#2a6e35" opacity="0.95"/>
<rect x="130.37" y="602.99" width="26.12" height="1.1" fill="#2a6e35" opacity="0.95"/>
<rect x="122.42" y="604.1" width="35.34" height="1.1" fill="#2a6e35" opacity="0.95"/>
<rect x="85.1" y="605.2" width="73.21" height="1.1" fill="#2a6e35" opacity="0.95"/>
<rect x="68.27" y="612.4" width="96.22" height="1.1" fill="#2a6e35" opacity="0.95"/>
<rect x="109.69" y="612.95" width="54.98" height="1.1" fill="#2a6e35" opacity="0.95"/>
<rect x="60.84" y="617.38" width="107.18" height="1.1" fill="#2a6e35" opacity="0.95"/>
<rect x="100.79" y="621.25" width="70.98" height="1.1" fill="#2a6e35" opacity="0.95"/>
<rect x="63.12" y="627.89" width="116.97" height="1.1" fill="#2a6e35" opacity="0.95"/>
<rect x="125.12" y="628.99" width="55.9" height="1.1" fill="#2a6e35" opacity="0.95"/>
<rect x="67.41" y="636.19" width="124.04" height="1.1" fill="#2a6e35" opacity="0.95"/>
<rect x="113.57" y="638.95" width="81.66" height="1.1" fill="#2a6e35" opacity="0.95"/>
<rect x="147.96" y="640.06" width="50.09" height="1.1" fill="#2a6e35" opacity="0.95"/>
<rect x="176.02" y="643.93" width="27.16" height="1.1" fill="#2a6e35" opacity="0.95"/>
<rect x="79.64" y="644.49" width="123.76" height="1.1" fill="#2a6e35" opacity="0.95"/>
<rect x="144.48" y="646.15" width="61.25" height="1.1" fill="#2a6e35" opacity="0.95"/>
<rect x="126.67" y="651.68" width="87.28" height="1.1" fill="#2a6e35" opacity="0.95"/>
<rect x="120.82" y="653.34" width="93.93" height="1.1" fill="#2a6e35" opacity="0.95"/>
<rect x="120.82" y="658.87" width="101.23" height="1.1" fill="#2a6e35" opacity="0.95"/>
<rect x="153.76" y="659.43" width="68.29" height="1.1" fill="#2a6e35" opacity="0.95"/>
<rect x="160.63" y="661.64" width="64.45" height="1.1" fill="#2a6e35" opacity="0.95"/>
<rect x="97.27" y="662.75" width="128.61" height="1.1" fill="#2a6e35" opacity="0.95"/>
<rect x="138.83" y="663.3" width="87.59" height="1.1" fill="#2a6e35" opacity="0.95"/>
<rect x="66.62" y="668.28" width="165.74" height="1.1" fill="#2a6e35" opacity="0.95"/>
<rect x="195.33" y="670.49" width="38.74" height="1.1" fill="#2a6e35" opacity="0.95"/>
<rect x="108.82" y="671.6" width="126.5" height="1.1" fill="#2a6e35" opacity="0.95"/>
<rect x="61.21" y="672.71" width="175.54" height="1.1" fill="#2a6e35" opacity="0.95"/>
<rect x="149.91" y="679.9" width="128.39" height="1.1" fill="#2a6e35" opacity="0.95"/>
<rect x="104.79" y="683.22" width="192.16" height="1.1" fill="#2a6e35" opacity="0.95"/>
<rect x="165.03" y="685.98" width="141.83" height="1.1" fill="#2a6e35" opacity="0.95"/>
<line x1="68.14" y1="101.2" x2="68.14" y2="699.5" stroke="#7a7a7a" stroke-width="1.5" opacity="0.5"/>
<line x1="85.16" y1="101.2" x2="85.16" y2="699.5" stroke="#7a7a7a" stroke-width="1.5" opacity="0.5"/>
<line x1="110.7" y1="101.2" x2="110.7" y2="699.5" stroke="#7a7a7a" stroke-width="1.5" opacity="0.5"/>
<line x1="143.68" y1="101.2" x2="143.68" y2="699.5" stroke="#7a7a7a" stroke-width="1.5" opacity="0.5"/>
<line x1="185.18" y1="101.2" x2="185.18" y2="699.5" stroke="#7a7a7a" stroke-width="1.5" opacity="0.5"/>
<line x1="236.25" y1="101.2" x2="236.25" y2="699.5" stroke="#7a7a7a" stroke-width="1.5" opacity="0.5"/>
<line x1="294.77" y1="101.2" x2="294.77" y2="699.5" stroke="#7a7a7a" stroke-width="1.5" opacity="0.5"/>
<rect x="58.3" y="693.6" width="250" height="5.2" fill="#fff" />
<rect x="162.29" y="686.2" width="144.71" height="1.3" fill="#2a6e35" opacity="0.9"/>
<rect x="118.18" y="689" width="188.82" height="1.3" fill="#2a6e35" opacity="0.9"/>
<rect x="138.54" y="691.6" width="168.46" height="1.3" fill="#2a6e35" opacity="0.9"/>
<line x1="57.5" y1="95.8" x2="57.5" y2="700.2" stroke="#000" stroke-width="1.6" />
<line x1="56.7" y1="699.5" x2="307" y2="699.5" stroke="#000" stroke-width="1.6" />
<line x1="52.5" y1="101.7" x2="57.5" y2="101.7" stroke="#000" stroke-width="1.5" />
<text x="50.2" y="107.2" font-size="15" text-anchor="end" font-weight="normal" fill="#231f20" >0</text>
<line x1="52.5" y1="212.36" x2="57.5" y2="212.36" stroke="#000" stroke-width="1.5" />
<text x="50.2" y="217.86" font-size="15" text-anchor="end" font-weight="normal" fill="#231f20" >200</text>
<line x1="52.5" y1="323.02" x2="57.5" y2="323.02" stroke="#000" stroke-width="1.5" />
<text x="50.2" y="328.52" font-size="15" text-anchor="end" font-weight="normal" fill="#231f20" >400</text>
<line x1="52.5" y1="433.68" x2="57.5" y2="433.68" stroke="#000" stroke-width="1.5" />
<text x="50.2" y="439.18" font-size="15" text-anchor="end" font-weight="normal" fill="#231f20" >600</text>
<line x1="52.5" y1="544.34" x2="57.5" y2="544.34" stroke="#000" stroke-width="1.5" />
<text x="50.2" y="549.84" font-size="15" text-anchor="end" font-weight="normal" fill="#231f20" >800</text>
<line x1="52.5" y1="655" x2="57.5" y2="655" stroke="#000" stroke-width="1.5" />
<text x="50.2" y="660.5" font-size="15" text-anchor="end" font-weight="normal" fill="#231f20" >1000</text>
<line x1="57.5" y1="699.5" x2="57.5" y2="704.5" stroke="#000" stroke-width="1.5" />
<text x="57.5" y="718" font-size="14.5" text-anchor="middle" font-weight="normal" fill="#231f20" >0</text>
<line x1="121.34" y1="699.5" x2="121.34" y2="704.5" stroke="#000" stroke-width="1.5" />
<text x="121.34" y="718" font-size="14.5" text-anchor="middle" font-weight="normal" fill="#231f20" >30</text>
<line x1="185.18" y1="699.5" x2="185.18" y2="704.5" stroke="#000" stroke-width="1.5" />
<text x="185.18" y="718" font-size="14.5" text-anchor="middle" font-weight="normal" fill="#231f20" >60</text>
<line x1="249.02" y1="699.5" x2="249.02" y2="704.5" stroke="#000" stroke-width="1.5" />
<text x="249.02" y="718" font-size="14.5" text-anchor="middle" font-weight="normal" fill="#231f20" >90</text>
<text x="182" y="735" font-size="14.7" text-anchor="middle" font-weight="normal" fill="#231f20" >Time (s)</text>
<text x="0" y="0" font-size="14.4" text-anchor="middle" fill="#231f20" transform="translate(12,397.7) rotate(-90)" textLength="210" lengthAdjust="spacingAndGlyphs">pMHC:TCR binding event index</text>
<polygon points="56.04,904.3 56.04,778.07 64.89,778.07 64.89,782.55 82.14,782.55 82.14,795.01 108.03,795.01 108.03,805.36 141.46,805.36 141.46,816.69 183.52,816.69 183.52,830.09 235.29,830.09 235.29,850.44 295.68,850.44 295.68,904.3" fill="#fbe9de"/>
<polygon points="56.04,904.3 56.04,898.92 64.89,898.92 64.89,860.83 82.14,860.83 82.14,844.95 108.03,844.95 108.03,844.15 141.46,844.15 141.46,848.45 183.52,848.45 183.52,860.83 235.29,860.83 235.29,878.56 295.68,878.56 295.68,904.3" fill="#eabbb2"/>
<polyline points="56.04,904.3 56.04,778.07 64.89,778.07 64.89,782.55 82.14,782.55 82.14,795.01 108.03,795.01 108.03,805.36 141.46,805.36 141.46,816.69 183.52,816.69 183.52,830.09 235.29,830.09 235.29,850.44 295.68,850.44 295.68,904.3" stroke="#f3a676" stroke-width="2.6" fill="none" stroke-linejoin="miter"/>
<polyline points="56.04,904.3 56.04,898.92 64.89,898.92 64.89,860.83 82.14,860.83 82.14,844.95 108.03,844.95 108.03,844.15 141.46,844.15 141.46,848.45 183.52,848.45 183.52,860.83 235.29,860.83 235.29,878.56 295.68,878.56 295.68,904.3" stroke="#d4262c" stroke-width="2.6" fill="none" stroke-linejoin="miter"/>
<circle cx="60.57" cy="779.22" r="3.3" fill="#000"/>
<circle cx="73.3" cy="782.7" r="3.3" fill="#000"/>
<circle cx="94.87" cy="789.82" r="3.3" fill="#000"/>
<circle cx="125.07" cy="801.22" r="3.3" fill="#000"/>
<circle cx="162.38" cy="815.79" r="3.3" fill="#000"/>
<circle cx="208.97" cy="833.95" r="3.3" fill="#000"/>
<circle cx="264.62" cy="856.01" r="3.3" fill="#000"/>
<line x1="54.1" y1="772.7" x2="54.1" y2="905.1" stroke="#000" stroke-width="1.6" />
<line x1="53.3" y1="904.3" x2="307" y2="904.3" stroke="#000" stroke-width="1.6" />
<text x="4.5" y="760.7" font-size="19" text-anchor="start" font-weight="bold" fill="#000" >b.</text>
<text x="168.3" y="777" font-size="16" text-anchor="middle" font-weight="bold" fill="#111" >MCC</text>
<line x1="49.2" y1="883" x2="54.1" y2="883" stroke="#000" stroke-width="1.5" />
<text x="45.5" y="888.6" font-size="15.2" text-anchor="end" fill="#231f20">10<tspan font-size="10" dy="-5.3">1</tspan></text>
<line x1="49.2" y1="831.6" x2="54.1" y2="831.6" stroke="#000" stroke-width="1.5" />
<text x="45.5" y="837.2" font-size="15.2" text-anchor="end" fill="#231f20">10<tspan font-size="10" dy="-5.3">2</tspan></text>
<line x1="49.2" y1="780.2" x2="54.1" y2="780.2" stroke="#000" stroke-width="1.5" />
<text x="45.5" y="785.8" font-size="15.2" text-anchor="end" fill="#231f20">10<tspan font-size="10" dy="-5.3">3</tspan></text>
<line x1="52" y1="903.45" x2="54.1" y2="903.45" stroke="#222" stroke-width="0.8" />
<line x1="52" y1="898.47" x2="54.1" y2="898.47" stroke="#222" stroke-width="0.8" />
<line x1="52" y1="894.4" x2="54.1" y2="894.4" stroke="#222" stroke-width="0.8" />
<line x1="52" y1="890.96" x2="54.1" y2="890.96" stroke="#222" stroke-width="0.8" />
<line x1="52" y1="887.98" x2="54.1" y2="887.98" stroke="#222" stroke-width="0.8" />
<line x1="52" y1="885.35" x2="54.1" y2="885.35" stroke="#222" stroke-width="0.8" />
<line x1="52" y1="867.53" x2="54.1" y2="867.53" stroke="#222" stroke-width="0.8" />
<line x1="52" y1="858.48" x2="54.1" y2="858.48" stroke="#222" stroke-width="0.8" />
<line x1="52" y1="852.05" x2="54.1" y2="852.05" stroke="#222" stroke-width="0.8" />
<line x1="52" y1="847.07" x2="54.1" y2="847.07" stroke="#222" stroke-width="0.8" />
<line x1="52" y1="843" x2="54.1" y2="843" stroke="#222" stroke-width="0.8" />
<line x1="52" y1="839.56" x2="54.1" y2="839.56" stroke="#222" stroke-width="0.8" />
<line x1="52" y1="836.58" x2="54.1" y2="836.58" stroke="#222" stroke-width="0.8" />
<line x1="52" y1="833.95" x2="54.1" y2="833.95" stroke="#222" stroke-width="0.8" />
<line x1="52" y1="816.13" x2="54.1" y2="816.13" stroke="#222" stroke-width="0.8" />
<line x1="52" y1="807.08" x2="54.1" y2="807.08" stroke="#222" stroke-width="0.8" />
<line x1="52" y1="800.65" x2="54.1" y2="800.65" stroke="#222" stroke-width="0.8" />
<line x1="52" y1="795.67" x2="54.1" y2="795.67" stroke="#222" stroke-width="0.8" />
<line x1="52" y1="791.6" x2="54.1" y2="791.6" stroke="#222" stroke-width="0.8" />
<line x1="52" y1="788.16" x2="54.1" y2="788.16" stroke="#222" stroke-width="0.8" />
<line x1="52" y1="785.18" x2="54.1" y2="785.18" stroke="#222" stroke-width="0.8" />
<line x1="52" y1="782.55" x2="54.1" y2="782.55" stroke="#222" stroke-width="0.8" />
<line x1="54.1" y1="904.3" x2="54.1" y2="909.3" stroke="#000" stroke-width="1.5" />
<text x="54.1" y="922.2" font-size="14.9" text-anchor="middle" font-weight="normal" fill="#231f20" >0</text>
<line x1="118.81" y1="904.3" x2="118.81" y2="909.3" stroke="#000" stroke-width="1.5" />
<text x="118.81" y="922.2" font-size="14.9" text-anchor="middle" font-weight="normal" fill="#231f20" >30</text>
<line x1="183.52" y1="904.3" x2="183.52" y2="909.3" stroke="#000" stroke-width="1.5" />
<text x="183.52" y="922.2" font-size="14.9" text-anchor="middle" font-weight="normal" fill="#231f20" >60</text>
<line x1="248.23" y1="904.3" x2="248.23" y2="909.3" stroke="#000" stroke-width="1.5" />
<text x="248.23" y="922.2" font-size="14.9" text-anchor="middle" font-weight="normal" fill="#231f20" >90</text>
<text x="180.3" y="937.8" font-size="14.6" text-anchor="middle" font-weight="normal" fill="#231f20" >Time bound (s)</text>
<text x="0" y="0" font-size="14.4" text-anchor="middle" fill="#231f20" transform="translate(17.6,838) rotate(-90)">Count</text>
<circle cx="172.3" cy="789.7" r="3" fill="#000"/>
<text x="185.2" y="793" font-size="9.4" fill="#231f20" textLength="112.5" lengthAdjust="spacing">Exponential fit, k<tspan dx="1.6">=</tspan><tspan dx="1.6">0.042 s</tspan><tspan font-size="6.5" dy="-4">-1</tspan></text>
<rect x="255" y="799" width="11" height="10" fill="#f3a676" />
<rect x="255" y="815" width="11" height="10" fill="#d4262c" />
<text x="275.3" y="808" font-size="11" fill="#231f20">N<tspan font-size="8" dy="2.5">total</tspan></text>
<text x="275.3" y="824" font-size="11" fill="#231f20">N<tspan font-size="8" dy="2.5">prod</tspan></text>
<polygon points="417.37,151.2 417.37,23.46 426.33,23.46 426.33,36.2 443.83,36.2 443.83,64.35 470.07,64.35 470.07,94.47 503.97,94.47 503.97,137.78 546.62,137.78 546.62,151.2" fill="#d5e9df"/>
<polygon points="417.37,151.2 417.37,122.5 426.33,122.5 426.33,112.08 443.83,112.08 443.83,127.48 470.07,127.48 470.07,145.09 503.97,145.09 503.97,151.2" fill="#80bca2"/>
<polyline points="417.37,151.2 417.37,23.46 426.33,23.46 426.33,36.2 443.83,36.2 443.83,64.35 470.07,64.35 470.07,94.47 503.97,94.47 503.97,137.78 546.62,137.78 546.62,151.2" stroke="#4cb98a" stroke-width="2.6" fill="none" stroke-linejoin="miter"/>
<polyline points="417.37,151.2 417.37,122.5 426.33,122.5 426.33,112.08 443.83,112.08 443.83,127.48 470.07,127.48 470.07,145.09 503.97,145.09 503.97,151.2" stroke="#13834f" stroke-width="2.6" fill="none" stroke-linejoin="miter"/>
<circle cx="421.96" cy="24.32" r="3.3" fill="#000"/>
<circle cx="434.86" cy="35.51" r="3.3" fill="#000"/>
<circle cx="456.3" cy="57.3" r="3.3" fill="#000"/>
<circle cx="486.7" cy="90.42" r="3.3" fill="#000"/>
<circle cx="524.97" cy="134.23" r="3.3" fill="#000"/>
<line x1="415.4" y1="17.5" x2="415.4" y2="152" stroke="#000" stroke-width="1.6" />
<line x1="414.6" y1="151.2" x2="672.3" y2="151.2" stroke="#000" stroke-width="1.6" />
<text x="365" y="10.5" font-size="19" text-anchor="start" font-weight="bold" fill="#000" >c.</text>
<text x="517.5" y="31" font-size="16.3" text-anchor="middle" font-weight="bold" fill="#111" >T102S</text>
<line x1="410.4" y1="114.5" x2="415.4" y2="114.5" stroke="#000" stroke-width="1.5" />
<text x="406.8" y="120.1" font-size="15.2" text-anchor="end" fill="#231f20">10<tspan font-size="10" dy="-5.3">1</tspan></text>
<line x1="410.4" y1="56" x2="415.4" y2="56" stroke="#000" stroke-width="1.5" />
<text x="406.8" y="61.6" font-size="15.2" text-anchor="end" fill="#231f20">10<tspan font-size="10" dy="-5.3">2</tspan></text>
<line x1="413.2" y1="145.09" x2="415.4" y2="145.09" stroke="#222" stroke-width="0.8" />
<line x1="413.2" y1="137.78" x2="415.4" y2="137.78" stroke="#222" stroke-width="0.8" />
<line x1="413.2" y1="132.11" x2="415.4" y2="132.11" stroke="#222" stroke-width="0.8" />
<line x1="413.2" y1="127.48" x2="415.4" y2="127.48" stroke="#222" stroke-width="0.8" />
<line x1="413.2" y1="123.56" x2="415.4" y2="123.56" stroke="#222" stroke-width="0.8" />
<line x1="413.2" y1="120.17" x2="415.4" y2="120.17" stroke="#222" stroke-width="0.8" />
<line x1="413.2" y1="117.18" x2="415.4" y2="117.18" stroke="#222" stroke-width="0.8" />
<line x1="413.2" y1="96.89" x2="415.4" y2="96.89" stroke="#222" stroke-width="0.8" />
<line x1="413.2" y1="86.59" x2="415.4" y2="86.59" stroke="#222" stroke-width="0.8" />
<line x1="413.2" y1="79.28" x2="415.4" y2="79.28" stroke="#222" stroke-width="0.8" />
<line x1="413.2" y1="73.61" x2="415.4" y2="73.61" stroke="#222" stroke-width="0.8" />
<line x1="413.2" y1="68.98" x2="415.4" y2="68.98" stroke="#222" stroke-width="0.8" />
<line x1="413.2" y1="65.06" x2="415.4" y2="65.06" stroke="#222" stroke-width="0.8" />
<line x1="413.2" y1="61.67" x2="415.4" y2="61.67" stroke="#222" stroke-width="0.8" />
<line x1="413.2" y1="58.68" x2="415.4" y2="58.68" stroke="#222" stroke-width="0.8" />
<line x1="413.2" y1="38.39" x2="415.4" y2="38.39" stroke="#222" stroke-width="0.8" />
<line x1="413.2" y1="28.09" x2="415.4" y2="28.09" stroke="#222" stroke-width="0.8" />
<line x1="413.2" y1="20.78" x2="415.4" y2="20.78" stroke="#222" stroke-width="0.8" />
<line x1="415.4" y1="151.2" x2="415.4" y2="156.2" stroke="#000" stroke-width="1.5" />
<text x="415.4" y="169.5" font-size="14.9" text-anchor="middle" font-weight="normal" fill="#231f20" >0</text>
<line x1="481.01" y1="151.2" x2="481.01" y2="156.2" stroke="#000" stroke-width="1.5" />
<text x="481.01" y="169.5" font-size="14.9" text-anchor="middle" font-weight="normal" fill="#231f20" >30</text>
<line x1="546.62" y1="151.2" x2="546.62" y2="156.2" stroke="#000" stroke-width="1.5" />
<text x="546.62" y="169.5" font-size="14.9" text-anchor="middle" font-weight="normal" fill="#231f20" >60</text>
<line x1="612.23" y1="151.2" x2="612.23" y2="156.2" stroke="#000" stroke-width="1.5" />
<text x="612.23" y="169.5" font-size="14.9" text-anchor="middle" font-weight="normal" fill="#231f20" >90</text>
<text x="544.6" y="186" font-size="14.6" text-anchor="middle" font-weight="normal" fill="#231f20" >Time bound (s)</text>
<text x="0" y="0" font-size="14.4" text-anchor="middle" fill="#231f20" transform="translate(378,85) rotate(-90)">Count</text>
<circle cx="540" cy="44.3" r="3" fill="#000"/>
<text x="553" y="47.6" font-size="9.5" fill="#231f20" textLength="113" lengthAdjust="spacing">Exponential fit, k<tspan dx="1.6">=</tspan><tspan dx="1.6">0.110 s</tspan><tspan font-size="6.5" dy="-4">-1</tspan></text>
<rect x="619.6" y="53.2" width="11.9" height="10" fill="#4cb98a" />
<rect x="619.6" y="68.6" width="11.9" height="9.7" fill="#13834f" />
<text x="640.4" y="62.3" font-size="11" fill="#231f20">N<tspan font-size="8" dy="2.5">total</tspan></text>
<text x="640.4" y="77.5" font-size="11" fill="#231f20">N<tspan font-size="8" dy="2.5">prod</tspan></text>
<text x="364.5" y="213.7" font-size="19" text-anchor="start" font-weight="bold" fill="#000" >d.</text>
<text x="548.2" y="228.6" font-size="14.45" text-anchor="middle" font-weight="bold" fill="#111" >Probability of LAT condensation</text>
<text x="549.7" y="244.2" font-size="14.45" text-anchor="middle" font-weight="bold" fill="#111" >vs. pMHC:TCR dwell time</text>
<polyline points="411.2,348.2 412.3,344.86 413.41,340.81 414.51,336.62 415.61,332.45 416.72,328.36 417.82,324.41 418.92,320.61 420.03,316.99 421.13,313.55 422.24,310.3 423.34,307.24 424.44,304.37 425.55,301.69 426.65,299.19 427.75,296.88 428.86,294.74 429.96,292.78 431.06,290.98 432.17,289.33 433.27,287.85 434.37,286.51 435.48,285.31 436.58,284.25 437.68,283.31 438.79,282.5 439.89,281.81 440.99,281.22 442.1,280.75 443.2,280.37 444.31,280.09 445.41,279.9 446.51,279.79 447.62,279.77 448.72,279.81 449.82,279.93 450.93,280.12 452.03,280.37 453.13,280.67 454.24,281.03 455.34,281.44 456.44,281.9 457.55,282.4 458.65,282.95 459.75,283.53 460.86,284.14 461.96,284.79 463.06,285.46 464.17,286.16 465.27,286.89 466.38,287.63 467.48,288.4 468.58,289.19 469.69,289.99 470.79,290.8 471.89,291.62 473,292.46 474.1,293.3 475.2,294.15 476.31,295.01 477.41,295.87 478.51,296.74 479.62,297.6 480.72,298.47 481.82,299.34 482.93,300.2 484.03,301.07 485.13,301.93 486.24,302.79 487.34,303.64 488.44,304.49 489.55,305.33 490.65,306.17 491.76,307 492.86,307.82 493.96,308.63 495.07,309.44 496.17,310.24 497.27,311.03 498.38,311.81 499.48,312.58 500.58,313.34 501.69,314.09 502.79,314.83 503.89,315.56 505,316.28 506.1,316.98 507.2,317.68 508.31,318.37 509.41,319.04 510.51,319.71 511.62,320.36 512.72,321.01 513.83,321.64 514.93,322.26 516.03,322.87 517.14,323.47 518.24,324.05 519.34,324.63 520.45,325.2 521.55,325.75 522.65,326.29 523.76,326.83 524.86,327.35 525.96,327.86 527.07,328.37 528.17,328.86 529.27,329.34 530.38,329.81 531.48,330.27 532.59,330.72 533.69,331.16 534.79,331.6 535.9,332.02 537,332.43 538.1,332.84 539.21,333.23 540.31,333.62 541.41,334 542.52,334.37 543.62,334.73 544.72,335.08 545.83,335.42 546.93,335.76 548.03,336.09 549.14,336.41 550.24,336.72 551.34,337.03 552.45,337.33 553.55,337.62 554.65,337.9 555.76,338.18 556.86,338.45 557.97,338.71 559.07,338.97 560.17,339.22 561.28,339.46 562.38,339.7 563.48,339.94 564.59,340.16 565.69,340.38 566.79,340.6 567.9,340.81 569,341.01 570.1,341.21 571.21,341.41 572.31,341.59 573.41,341.78 574.52,341.96 575.62,342.13 576.72,342.3 577.83,342.47 578.93,342.63 580.04,342.79 581.14,342.94 582.24,343.09 583.35,343.23 584.45,343.37 585.55,343.51 586.66,343.65 587.76,343.78 588.86,343.9 589.97,344.02 591.07,344.14 592.17,344.26 593.28,344.37 594.38,344.48 595.48,344.59 596.59,344.7 597.69,344.8 598.79,344.9 599.9,344.99 601,345.08 602.11,345.17 603.21,345.26 604.31,345.35 605.42,345.43 606.52,345.51 607.62,345.59 608.73,345.67 609.83,345.74 610.93,345.81 612.04,345.88 613.14,345.95 614.24,346.02 615.35,346.08 616.45,346.15 617.55,346.21 618.66,346.27 619.76,346.32 620.87,346.38 621.97,346.43 623.07,346.49 624.18,346.54 625.28,346.59 626.38,346.63 627.49,346.68 628.59,346.73 629.69,346.77 630.8,346.81 631.9,346.85 633,346.9 634.11,346.93 635.21,346.97 636.31,347.01 637.42,347.05 638.52,347.08 639.62,347.11 640.73,347.15 641.83,347.18 642.93,347.21 644.04,347.24 645.14,347.27 646.25,347.3 647.35,347.32 648.45,347.35 649.56,347.38 650.66,347.4 651.76,347.43 652.87,347.45 653.97,347.47 655.07,347.49 656.18,347.52 657.28,347.54 658.38,347.56 659.49,347.58 660.59,347.6 661.69,347.61 662.8,347.63 663.9,347.65 665,347.67 666.11,347.68 667.21,347.7 668.32,347.71 669.42,347.73 670.52,347.74 671.63,347.76" stroke="#9b9f9f" stroke-width="3.6" fill="none" stroke-linecap="round" stroke-linejoin="round"/>
<line x1="411.2" y1="276.5" x2="411.2" y2="349" stroke="#000" stroke-width="1.6" />
<line x1="410.4" y1="348.2" x2="685" y2="348.2" stroke="#000" stroke-width="1.6" />
<line x1="406.2" y1="348.2" x2="411.2" y2="348.2" stroke="#000" stroke-width="1.5" />
<text x="404" y="353.2" font-size="14.4" text-anchor="end" font-weight="normal" fill="#231f20" >0</text>
<line x1="406.2" y1="303.7" x2="411.2" y2="303.7" stroke="#000" stroke-width="1.5" />
<text x="404" y="308.7" font-size="14.4" text-anchor="end" font-weight="normal" fill="#231f20" >5</text>
<text x="411.5" y="273.6" font-size="13" fill="#231f20">×10<tspan font-size="10" dy="-5">−3</tspan></text>
<polyline points="411.2,552 412.3,551.92 413.41,551.69 414.51,551.33 415.61,550.83 416.72,550.22 417.82,549.49 418.92,548.66 420.03,547.73 421.13,546.72 422.24,545.63 423.34,544.47 424.44,543.23 425.55,541.94 426.65,540.59 427.75,539.19 428.86,537.75 429.96,536.26 431.06,534.74 432.17,533.19 433.27,531.61 434.37,530 435.48,528.38 436.58,526.74 437.68,525.08 438.79,523.41 439.89,521.74 440.99,520.06 442.1,518.37 443.2,516.68 444.31,515 445.41,513.32 446.51,511.64 447.62,509.97 448.72,508.3 449.82,506.65 450.93,505 452.03,503.37 453.13,501.75 454.24,500.14 455.34,498.55 456.44,496.98 457.55,495.42 458.65,493.88 459.75,492.36 460.86,490.85 461.96,489.37 463.06,487.9 464.17,486.45 465.27,485.03 466.38,483.62 467.48,482.24 468.58,480.87 469.69,479.53 470.79,478.21 471.89,476.91 473,475.63 474.1,474.38 475.2,473.14 476.31,471.93 477.41,470.74 478.51,469.57 479.62,468.42 480.72,467.3 481.82,466.19 482.93,465.11 484.03,464.04 485.13,463 486.24,461.98 487.34,460.98 488.44,460 489.55,459.04 490.65,458.1 491.76,457.18 492.86,456.28 493.96,455.39 495.07,454.53 496.17,453.69 497.27,452.86 498.38,452.05 499.48,451.26 500.58,450.49 501.69,449.73 502.79,448.99 503.89,448.27 505,447.56 506.1,446.87 507.2,446.2 508.31,445.54 509.41,444.9 510.51,444.27 511.62,443.66 512.72,443.06 513.83,442.48 514.93,441.91 516.03,441.35 517.14,440.81 518.24,440.28 519.34,439.76 520.45,439.26 521.55,438.77 522.65,438.29 523.76,437.82 524.86,437.36 525.96,436.92 527.07,436.48 528.17,436.06 529.27,435.65 530.38,435.25 531.48,434.86 532.59,434.47 533.69,434.1 534.79,433.74 535.9,433.39 537,433.04 538.1,432.71 539.21,432.38 540.31,432.06 541.41,431.76 542.52,431.45 543.62,431.16 544.72,430.87 545.83,430.6 546.93,430.33 548.03,430.06 549.14,429.8 550.24,429.55 551.34,429.31 552.45,429.07 553.55,428.84 554.65,428.62 555.76,428.4 556.86,428.19 557.97,427.98 559.07,427.78 560.17,427.59 561.28,427.4 562.38,427.21 563.48,427.03 564.59,426.86 565.69,426.69 566.79,426.52 567.9,426.36 569,426.2 570.1,426.05 571.21,425.9 572.31,425.76 573.41,425.62 574.52,425.48 575.62,425.35 576.72,425.22 577.83,425.1 578.93,424.97 580.04,424.86 581.14,424.74 582.24,424.63 583.35,424.52 584.45,424.42 585.55,424.31 586.66,424.21 587.76,424.12 588.86,424.02 589.97,423.93 591.07,423.84 592.17,423.76 593.28,423.67 594.38,423.59 595.48,423.51 596.59,423.44 597.69,423.36 598.79,423.29 599.9,423.22 601,423.15 602.11,423.08 603.21,423.02 604.31,422.96 605.42,422.9 606.52,422.84 607.62,422.78 608.73,422.72 609.83,422.67 610.93,422.62 612.04,422.57 613.14,422.52 614.24,422.47 615.35,422.42 616.45,422.38 617.55,422.33 618.66,422.29 619.76,422.25 620.87,422.21 621.97,422.17 623.07,422.13 624.18,422.09 625.28,422.06 626.38,422.02 627.49,421.99 628.59,421.96 629.69,421.93 630.8,421.9 631.9,421.87 633,421.84 634.11,421.81 635.21,421.78 636.31,421.75 637.42,421.73 638.52,421.7 639.62,421.68 640.73,421.66 641.83,421.63 642.93,421.61 644.04,421.59 645.14,421.57 646.25,421.55 647.35,421.53 648.45,421.51 649.56,421.49 650.66,421.47 651.76,421.46 652.87,421.44 653.97,421.42 655.07,421.41 656.18,421.39 657.28,421.38 658.38,421.36 659.49,421.35 660.59,421.33 661.69,421.32 662.8,421.31 663.9,421.3 665,421.28 666.11,421.27 667.21,421.26 668.32,421.25 669.42,421.24 670.52,421.23 671.63,421.22" stroke="#9b9f9f" stroke-width="3.6" fill="none" stroke-linecap="round" stroke-linejoin="round"/>
<line x1="411.2" y1="486.3" x2="464.2" y2="486.3" stroke="#9b9f9f" stroke-width="2.6" />
<line x1="464.2" y1="486.3" x2="464.2" y2="552" stroke="#9b9f9f" stroke-width="2.6" />
<line x1="411.2" y1="347.4" x2="411.2" y2="552.8" stroke="#000" stroke-width="1.6" />
<line x1="410.4" y1="552" x2="685" y2="552" stroke="#000" stroke-width="1.6" />
<line x1="406.2" y1="552" x2="411.2" y2="552" stroke="#000" stroke-width="1.5" />
<text x="404" y="557" font-size="14" text-anchor="end" font-weight="normal" fill="#231f20" >0.0</text>
<line x1="406.2" y1="502.9" x2="411.2" y2="502.9" stroke="#000" stroke-width="1.5" />
<text x="404" y="507.9" font-size="14" text-anchor="end" font-weight="normal" fill="#231f20" >0.1</text>
<line x1="406.2" y1="453.8" x2="411.2" y2="453.8" stroke="#000" stroke-width="1.5" />
<text x="404" y="458.8" font-size="14" text-anchor="end" font-weight="normal" fill="#231f20" >0.2</text>
<line x1="406.2" y1="404.7" x2="411.2" y2="404.7" stroke="#000" stroke-width="1.5" />
<text x="404" y="409.7" font-size="14" text-anchor="end" font-weight="normal" fill="#231f20" >0.3</text>
<line x1="411.2" y1="552" x2="411.2" y2="557" stroke="#000" stroke-width="1.5" />
<text x="411.2" y="569.5" font-size="14" text-anchor="middle" font-weight="normal" fill="#231f20" >0</text>
<line x1="477.41" y1="552" x2="477.41" y2="557" stroke="#000" stroke-width="1.5" />
<text x="477.41" y="569.5" font-size="14" text-anchor="middle" font-weight="normal" fill="#231f20" >30</text>
<line x1="543.62" y1="552" x2="543.62" y2="557" stroke="#000" stroke-width="1.5" />
<text x="543.62" y="569.5" font-size="14" text-anchor="middle" font-weight="normal" fill="#231f20" >60</text>
<line x1="609.83" y1="552" x2="609.83" y2="557" stroke="#000" stroke-width="1.5" />
<text x="609.83" y="569.5" font-size="14" text-anchor="middle" font-weight="normal" fill="#231f20" >90</text>
<text x="546.8" y="584" font-size="14" text-anchor="middle" font-weight="normal" fill="#231f20" >Dwell Time (s)</text>
<g stroke="#5aa88a" stroke-width="1.6" opacity="0.6"><line x1="418.04" y1="544.63" x2="418.04" y2="538.25"/><line x1="413.84" y1="544.63" x2="422.24" y2="544.63"/><line x1="413.84" y1="538.25" x2="422.24" y2="538.25"/></g>
<g stroke="#5aa88a" stroke-width="1.6" opacity="0.6"><line x1="431.06" y1="533.83" x2="431.06" y2="518.61"/><line x1="426.86" y1="533.83" x2="435.26" y2="533.83"/><line x1="426.86" y1="518.61" x2="435.26" y2="518.61"/></g>
<g stroke="#5aa88a" stroke-width="1.6" opacity="0.6"><line x1="452.58" y1="526.47" x2="452.58" y2="494.55"/><line x1="448.38" y1="526.47" x2="456.78" y2="526.47"/><line x1="448.38" y1="494.55" x2="456.78" y2="494.55"/></g>
<g stroke="#5aa88a" stroke-width="1.6" opacity="0.6"><line x1="482.93" y1="521.31" x2="482.93" y2="449.38"/><line x1="478.73" y1="521.31" x2="487.13" y2="521.31"/><line x1="478.73" y1="449.38" x2="487.13" y2="449.38"/></g>
<g stroke="#d42a2e" stroke-width="1.6" opacity="0.6"><line x1="418.04" y1="552.49" x2="418.04" y2="548.07"/><line x1="413.84" y1="552.49" x2="422.24" y2="552.49"/><line x1="413.84" y1="548.07" x2="422.24" y2="548.07"/></g>
<g stroke="#d42a2e" stroke-width="1.6" opacity="0.6"><line x1="431.06" y1="539.23" x2="431.06" y2="535.31"/><line x1="426.86" y1="539.23" x2="435.26" y2="539.23"/><line x1="426.86" y1="535.31" x2="435.26" y2="535.31"/></g>
<g stroke="#d42a2e" stroke-width="1.6" opacity="0.6"><line x1="452.58" y1="506.83" x2="452.58" y2="493.57"/><line x1="448.38" y1="506.83" x2="456.78" y2="506.83"/><line x1="448.38" y1="493.57" x2="456.78" y2="493.57"/></g>
<g stroke="#d42a2e" stroke-width="1.6" opacity="0.6"><line x1="482.93" y1="477.86" x2="482.93" y2="457.24"/><line x1="478.73" y1="477.86" x2="487.13" y2="477.86"/><line x1="478.73" y1="457.24" x2="487.13" y2="457.24"/></g>
<g stroke="#d42a2e" stroke-width="1.6" opacity="0.6"><line x1="522.87" y1="450.36" x2="522.87" y2="420.9"/><line x1="518.67" y1="450.36" x2="527.07" y2="450.36"/><line x1="518.67" y1="420.9" x2="527.07" y2="420.9"/></g>
<g stroke="#d42a2e" stroke-width="1.6" opacity="0.6"><line x1="570.55" y1="448.6" x2="570.55" y2="407.65"/><line x1="566.35" y1="448.6" x2="574.75" y2="448.6"/><line x1="566.35" y1="407.65" x2="574.75" y2="407.65"/></g>
<g stroke="#d42a2e" stroke-width="1.6" opacity="0.6"><line x1="627.71" y1="448.4" x2="627.71" y2="382.11"/><line x1="623.51" y1="448.4" x2="631.91" y2="448.4"/><line x1="623.51" y1="382.11" x2="631.91" y2="382.11"/></g>
<circle cx="418.04" cy="541.69" r="3.9" fill="#5aa88a"/>
<circle cx="431.06" cy="526.47" r="3.9" fill="#5aa88a"/>
<circle cx="452.58" cy="510.26" r="3.9" fill="#5aa88a"/>
<circle cx="482.93" cy="485.22" r="3.9" fill="#5aa88a"/>
<circle cx="418.04" cy="550.33" r="3.9" fill="#d42a2e"/>
<circle cx="431.06" cy="537.27" r="3.9" fill="#d42a2e"/>
<circle cx="452.58" cy="499.95" r="3.9" fill="#d42a2e"/>
<circle cx="482.93" cy="467.55" r="3.9" fill="#d42a2e"/>
<circle cx="522.87" cy="435.63" r="3.9" fill="#d42a2e"/>
<circle cx="570.55" cy="428.02" r="3.9" fill="#d42a2e"/>
<circle cx="627.71" cy="415.01" r="3.9" fill="#d42a2e"/>
<circle cx="432.5" cy="388.3" r="3.9" fill="#d42a2e"/>
<circle cx="432.5" cy="404.3" r="3.9" fill="#5aa88a"/>
<text x="452.4" y="392.3" font-size="11.2" text-anchor="start" font-weight="normal" fill="#231f20" >MCC</text>
<text x="452.4" y="408.3" font-size="11.2" text-anchor="start" font-weight="normal" fill="#231f20" >T102S</text>
<text x="568.6" y="519.2" font-size="15" fill="#231f20">τ</text>
<text x="576" y="522" font-size="10.5" fill="#231f20">1/2</text>
<text x="592.8" y="519.2" font-size="15" fill="#231f20">=</text>
<text x="603.8" y="519.2" font-size="15" fill="#231f20">24.0</text>
<text x="637.3" y="519.2" font-size="15" fill="#231f20">±</text>
<text x="647.6" y="519.2" font-size="15" fill="#231f20">1.3</text>
<text x="673.6" y="519.2" font-size="15" fill="#231f20">s</text>
<text x="0" y="0" font-size="13.5" text-anchor="middle" fill="#231f20" transform="translate(354.4,312.3) rotate(-90)">LAT condensate</text>
<text x="0" y="0" font-size="13.5" text-anchor="middle" fill="#231f20" transform="translate(368.6,312.3) rotate(-90)">nucleation rate</text>
<g transform="translate(386.8,367.5) rotate(-90)" fill="#231f20"><text x="0" y="0" font-size="13.5">k<tspan font-size="9.72" dy="2.97">c</tspan><tspan dy="-2.97">(t) (</tspan></text><text x="38.5" y="-7.2" font-size="8.4" text-anchor="middle">1</text><rect x="35.9" y="-6.6" width="5.2" height="0.7"/><text x="38.5" y="2.6" font-size="8.4" text-anchor="middle">s</text><text x="74.5" y="-6.2" font-size="8.4" text-anchor="middle">1</text><rect x="48.5" y="-3.6" width="52" height="0.7"/><text x="74.5" y="5" font-size="8.6" text-anchor="middle">pMHC<tspan dx="2.4">:</tspan><tspan dx="2.4">TCR</tspan></text><text x="101.5" y="1.5" font-size="15.12">)</text></g>
<text x="0" y="0" font-size="13.4" text-anchor="middle" fill="#231f20" transform="translate(363.9,462.5) rotate(-90)">LAT condensation</text>
<text x="0" y="0" font-size="13.4" text-anchor="middle" fill="#231f20" transform="translate(379.1,462.5) rotate(-90)">P(τ<tspan font-size="9.5" dy="3">MHC</tspan><tspan dy="-3">)</tspan></text>
<text x="364.5" y="625.8" font-size="19" text-anchor="start" font-weight="bold" fill="#000" >e.</text>
<text x="537.2" y="636.3" font-size="17.5" text-anchor="middle" font-weight="bold" fill="#111" >Fit of simple KP chains</text>
<defs><clipPath id="ecl"><rect x="420" y="663.5" width="265" height="230"/></clipPath></defs>
<g clip-path="url(#ecl)">
<polyline points="427.7,887 428.21,885.14 428.73,882.82 429.24,880.33 429.75,877.75 430.27,875.14 430.78,872.51 431.29,869.89 431.81,867.29 432.32,864.71 432.83,862.17 433.35,859.67 433.86,857.22 434.38,854.82 434.89,852.47 435.4,850.17 435.92,847.94 436.43,845.75 436.94,843.63 437.46,841.57 437.97,839.56 438.48,837.62 439,835.73 439.51,833.91 440.02,832.14 440.54,830.43 441.05,828.78 441.56,827.19 442.08,825.66 442.59,824.18 443.1,822.76 443.62,821.4 444.13,820.09 444.65,818.83 445.16,817.63 445.67,816.47 446.19,815.37 446.7,814.32 447.21,813.32 447.73,812.36 448.24,811.46 448.75,810.6 449.27,809.78 449.78,809.01 450.29,808.28 450.81,807.59 451.32,806.95 451.83,806.34 452.35,805.78 452.86,805.25 453.38,804.76 453.89,804.31 454.4,803.9 454.92,803.51 455.43,803.17 455.94,802.85 456.46,802.57 456.97,802.32 457.48,802.1 458,801.91 458.51,801.75 459.02,801.61 459.54,801.51 460.05,801.43 460.56,801.37 461.08,801.35 461.59,801.34 462.1,801.36 462.62,801.4 463.13,801.47 463.64,801.55 464.16,801.66 464.67,801.78 465.19,801.93 465.7,802.09 466.21,802.28 466.73,802.48 467.24,802.69 467.75,802.93 468.27,803.18 468.78,803.44 469.29,803.72 469.81,804.02 470.32,804.32 470.83,804.64 471.35,804.98 471.86,805.32 472.37,805.68 472.89,806.05 473.4,806.43 473.91,806.82 474.43,807.22 474.94,807.63 475.46,808.04 475.97,808.47 476.48,808.91 477,809.35 477.51,809.8 478.02,810.26 478.54,810.72 479.05,811.19 479.56,811.67 480.08,812.15 480.59,812.64 481.1,813.13 481.62,813.63 482.13,814.13 482.64,814.64 483.16,815.15 483.67,815.67 484.19,816.18 484.7,816.71 485.21,817.23 485.73,817.76 486.24,818.29 486.75,818.82 487.27,819.35 487.78,819.89 488.29,820.42 488.81,820.96 489.32,821.5 489.83,822.04 490.35,822.58 490.86,823.13 491.37,823.67 491.89,824.21 492.4,824.75 492.91,825.3 493.43,825.84 493.94,826.38 494.45,826.92 494.97,827.47 495.48,828.01 496,828.54 496.51,829.08 497.02,829.62 497.54,830.16 498.05,830.69 498.56,831.23 499.08,831.76 499.59,832.29 500.1,832.82 500.62,833.34 501.13,833.87 501.64,834.39 502.16,834.91 502.67,835.43 503.18,835.94 503.7,836.46 504.21,836.97 504.72,837.48 505.24,837.98 505.75,838.48 506.27,838.99 506.78,839.48 507.29,839.98 507.81,840.47 508.32,840.96 508.83,841.45 509.35,841.93 509.86,842.41 510.37,842.89 510.89,843.36 511.4,843.83 511.91,844.3 512.43,844.77 512.94,845.23 513.45,845.69 513.97,846.14 514.48,846.59 515,847.04 515.51,847.49 516.02,847.93 516.54,848.37 517.05,848.8 517.56,849.23 518.08,849.66 518.59,850.09 519.1,850.51 519.62,850.92 520.13,851.34 520.64,851.75 521.16,852.16 521.67,852.56 522.18,852.96 522.7,853.36 523.21,853.75 523.72,854.14 524.24,854.53 524.75,854.91 525.26,855.29 525.78,855.67 526.29,856.04 526.81,856.41 527.32,856.78 527.83,857.14 528.35,857.5 528.86,857.85 529.37,858.21 529.89,858.56 530.4,858.9 530.91,859.24 531.43,859.58 531.94,859.92 532.45,860.25 532.97,860.58 533.48,860.9 533.99,861.23 534.51,861.54 535.02,861.86 535.53,862.17 536.05,862.48 536.56,862.79 537.08,863.09 537.59,863.39 538.1,863.69 538.62,863.98 539.13,864.27 539.64,864.56 540.16,864.84 540.67,865.12 541.18,865.4 541.7,865.68 542.21,865.95 542.72,866.22 543.24,866.48 543.75,866.75 544.26,867.01 544.78,867.27 545.29,867.52 545.8,867.77 546.32,868.02 546.83,868.27 547.35,868.51 547.86,868.75 548.37,868.99 548.89,869.22 549.4,869.46 549.91,869.69 550.43,869.91 550.94,870.14 551.45,870.36 551.97,870.58 552.48,870.79 552.99,871.01 553.51,871.22 554.02,871.43 554.53,871.64 555.05,871.84 555.56,872.04 556.08,872.24 556.59,872.44 557.1,872.63 557.62,872.83 558.13,873.02 558.64,873.2 559.16,873.39 559.67,873.57 560.18,873.75 560.7,873.93 561.21,874.11 561.72,874.28 562.24,874.46 562.75,874.63 563.26,874.79 563.78,874.96 564.29,875.12 564.8,875.29 565.32,875.45 565.83,875.6 566.35,875.76 566.86,875.91 567.37,876.07 567.89,876.22 568.4,876.36 568.91,876.51 569.43,876.66 569.94,876.8 570.45,876.94 570.97,877.08 571.48,877.22 571.99,877.35 572.51,877.49 573.02,877.62 573.53,877.75 574.05,877.88 574.56,878 575.07,878.13 575.59,878.25 576.1,878.38 576.62,878.5 577.13,878.61 577.64,878.73 578.16,878.85 578.67,878.96 579.18,879.08 579.7,879.19 580.21,879.3 580.72,879.41 581.24,879.51 581.75,879.62 582.26,879.72 582.78,879.83 583.29,879.93 583.8,880.03 584.32,880.13 584.83,880.22 585.34,880.32 585.86,880.42 586.37,880.51 586.88,880.6 587.4,880.69 587.91,880.78 588.43,880.87 588.94,880.96 589.45,881.05 589.97,881.13 590.48,881.22 590.99,881.3 591.51,881.38 592.02,881.46 592.53,881.54 593.05,881.62 593.56,881.7 594.07,881.77 594.59,881.85 595.1,881.92 595.61,882 596.13,882.07 596.64,882.14 597.15,882.21 597.67,882.28 598.18,882.35 598.7,882.42 599.21,882.48 599.72,882.55 600.24,882.61 600.75,882.68 601.26,882.74 601.78,882.8 602.29,882.86 602.8,882.92 603.32,882.98 603.83,883.04 604.34,883.1 604.86,883.16 605.37,883.21 605.88,883.27 606.4,883.32 606.91,883.38 607.42,883.43 607.94,883.48 608.45,883.53 608.97,883.59 609.48,883.64 609.99,883.69 610.51,883.73 611.02,883.78 611.53,883.83 612.05,883.88 612.56,883.92 613.07,883.97 613.59,884.01 614.1,884.06 614.61,884.1 615.13,884.14 615.64,884.19 616.15,884.23 616.67,884.27 617.18,884.31 617.69,884.35 618.21,884.39 618.72,884.43 619.24,884.47 619.75,884.5 620.26,884.54 620.78,884.58 621.29,884.61 621.8,884.65 622.32,884.69 622.83,884.72 623.34,884.75 623.86,884.79 624.37,884.82 624.88,884.85 625.4,884.89 625.91,884.92 626.42,884.95 626.94,884.98 627.45,885.01 627.96,885.04 628.48,885.07 628.99,885.1 629.51,885.13 630.02,885.16 630.53,885.18 631.05,885.21 631.56,885.24 632.07,885.26 632.59,885.29 633.1,885.32 633.61,885.34 634.13,885.37 634.64,885.39 635.15,885.42 635.67,885.44 636.18,885.46 636.69,885.49 637.21,885.51 637.72,885.53 638.23,885.55 638.75,885.58 639.26,885.6 639.78,885.62 640.29,885.64 640.8,885.66 641.32,885.68 641.83,885.7 642.34,885.72 642.86,885.74 643.37,885.76 643.88,885.78 644.4,885.8 644.91,885.82 645.42,885.83 645.94,885.85 646.45,885.87 646.96,885.89 647.48,885.9 647.99,885.92 648.5,885.94 649.02,885.95 649.53,885.97 650.05,885.99 650.56,886 651.07,886.02 651.59,886.03 652.1,886.05 652.61,886.06 653.13,886.08 653.64,886.09 654.15,886.1 654.67,886.12 655.18,886.13 655.69,886.14 656.21,886.16 656.72,886.17 657.23,886.18 657.75,886.2 658.26,886.21 658.77,886.22 659.29,886.23 659.8,886.24 660.32,886.26 660.83,886.27 661.34,886.28 661.86,886.29 662.37,886.3 662.88,886.31 663.4,886.32 663.91,886.33 664.42,886.34 664.94,886.35 665.45,886.36 665.96,886.37 666.48,886.38 666.99,886.39 667.5,886.4 668.02,886.41" stroke="#9c9a9a" stroke-width="4.6" fill="none" stroke-linecap="round" stroke-linejoin="round"/>
<polyline points="427.7,887 427.7,835.98 668.02,835.98" stroke="#c2303a" stroke-width="1.9" fill="none" />
<polyline points="427.7,887 428.21,886.92 428.73,886.68 429.24,886.3 429.75,885.77 430.27,885.1 430.78,884.3 431.29,883.38 431.81,882.33 432.32,881.17 432.83,879.91 433.35,878.53 433.86,877.06 434.38,875.5 434.89,873.84 435.4,872.1 435.92,870.28 436.43,868.38 436.94,866.41 437.46,864.37 437.97,862.26 438.48,860.09 439,857.87 439.51,855.59 440.02,853.26 440.54,850.87 441.05,848.45 441.56,845.98 442.08,843.47 442.59,840.93 443.1,838.35 443.62,835.74 444.13,833.1 444.65,830.43 445.16,827.74 445.67,825.03 446.19,822.29 446.7,819.54 447.21,816.77 447.73,813.99 448.24,811.2 448.75,808.39 449.27,805.58 449.78,802.75 450.29,799.93 450.81,797.09 451.32,794.26 451.83,791.42 452.35,788.58 452.86,785.74 453.38,782.91 453.89,780.08 454.4,777.25 454.92,774.43 455.43,771.61 455.94,768.81 456.46,766.01 456.97,763.22 457.48,760.44 458,757.67 458.51,754.91 459.02,752.16 459.54,749.43 460.05,746.71 460.56,744.01 461.08,741.32 461.59,738.64 462.1,735.99 462.62,733.34 463.13,730.72 463.64,728.11 464.16,725.52 464.67,722.95 465.19,720.4 465.7,717.86 466.21,715.35 466.73,712.86 467.24,710.38 467.75,707.93 468.27,705.49 468.78,703.08 469.29,700.68 469.81,698.31 470.32,695.96 470.83,693.63 471.35,691.32 471.86,689.04 472.37,686.77 472.89,684.53 473.4,682.31 473.91,680.11 474.43,677.93 474.94,675.77 475.46,673.64 475.97,671.53 476.48,669.44 477,667.37 477.51,665.33 478.02,663.3" stroke="#f4a44a" stroke-width="1.8" fill="none" />
<polyline points="427.7,887 428.21,883.49 428.73,880.64 429.24,878.01 429.75,875.52 430.27,873.13 430.78,870.83 431.29,868.59 431.81,866.4 432.32,864.27 432.83,862.19 433.35,860.15 433.86,858.15 434.38,856.18 434.89,854.25 435.4,852.34 435.92,850.47 436.43,848.63 436.94,846.81 437.46,845.02 437.97,843.25 438.48,841.51 439,839.79 439.51,838.09 440.02,836.41 440.54,834.75 441.05,833.12 441.56,831.5 442.08,829.9 442.59,828.32 443.1,826.75 443.62,825.21 444.13,823.68 444.65,822.16 445.16,820.67 445.67,819.19 446.19,817.72 446.7,816.27 447.21,814.83 447.73,813.41 448.24,812.01 448.75,810.61 449.27,809.23 449.78,807.87 450.29,806.51 450.81,805.17 451.32,803.85 451.83,802.53 452.35,801.23 452.86,799.94 453.38,798.66 453.89,797.4 454.4,796.14 454.92,794.9 455.43,793.67 455.94,792.45 456.46,791.24 456.97,790.04 457.48,788.85 458,787.67 458.51,786.5 459.02,785.35 459.54,784.2 460.05,783.06 460.56,781.94 461.08,780.82 461.59,779.71 462.1,778.61 462.62,777.52 463.13,776.44 463.64,775.37 464.16,774.31 464.67,773.26 465.19,772.21 465.7,771.18 466.21,770.15 466.73,769.14 467.24,768.13 467.75,767.12 468.27,766.13 468.78,765.15 469.29,764.17 469.81,763.2 470.32,762.24 470.83,761.29 471.35,760.34 471.86,759.41 472.37,758.48 472.89,757.55 473.4,756.64 473.91,755.73 474.43,754.83 474.94,753.94 475.46,753.05 475.97,752.17 476.48,751.3 477,750.44 477.51,749.58 478.02,748.73 478.54,747.88 479.05,747.04 479.56,746.21 480.08,745.39 480.59,744.57 481.1,743.76 481.62,742.95 482.13,742.15 482.64,741.36 483.16,740.57 483.67,739.79 484.19,739.02 484.7,738.25 485.21,737.49 485.73,736.73 486.24,735.98 486.75,735.23 487.27,734.49 487.78,733.76 488.29,733.03 488.81,732.31 489.32,731.59 489.83,730.88 490.35,730.17 490.86,729.47 491.37,728.78 491.89,728.09 492.4,727.4 492.91,726.72 493.43,726.05 493.94,725.38 494.45,724.72 494.97,724.06 495.48,723.4 496,722.75 496.51,722.11 497.02,721.47 497.54,720.83 498.05,720.2 498.56,719.58 499.08,718.96 499.59,718.34 500.1,717.73 500.62,717.12 501.13,716.52 501.64,715.92 502.16,715.33 502.67,714.74 503.18,714.16 503.7,713.58 504.21,713 504.72,712.43 505.24,711.86 505.75,711.3 506.27,710.74 506.78,710.19 507.29,709.64 507.81,709.09 508.32,708.55 508.83,708.01 509.35,707.48 509.86,706.95 510.37,706.42 510.89,705.9 511.4,705.38 511.91,704.86 512.43,704.35 512.94,703.84 513.45,703.34 513.97,702.84 514.48,702.35 515,701.85 515.51,701.36 516.02,700.88 516.54,700.4 517.05,699.92 517.56,699.44 518.08,698.97 518.59,698.5 519.1,698.04 519.62,697.58 520.13,697.12 520.64,696.67 521.16,696.22 521.67,695.77 522.18,695.32 522.7,694.88 523.21,694.44 523.72,694.01 524.24,693.58 524.75,693.15 525.26,692.72 525.78,692.3 526.29,691.88 526.81,691.47 527.32,691.05 527.83,690.64 528.35,690.23 528.86,689.83 529.37,689.43 529.89,689.03 530.4,688.64 530.91,688.24 531.43,687.85 531.94,687.47 532.45,687.08 532.97,686.7 533.48,686.32 533.99,685.95 534.51,685.57 535.02,685.2 535.53,684.83 536.05,684.47 536.56,684.11 537.08,683.75 537.59,683.39 538.1,683.03 538.62,682.68 539.13,682.33 539.64,681.98 540.16,681.64 540.67,681.3 541.18,680.96 541.7,680.62 542.21,680.28 542.72,679.95 543.24,679.62 543.75,679.29 544.26,678.97 544.78,678.65 545.29,678.32 545.8,678.01 546.32,677.69 546.83,677.38 547.35,677.06 547.86,676.75 548.37,676.45 548.89,676.14 549.4,675.84 549.91,675.54 550.43,675.24 550.94,674.94 551.45,674.65 551.97,674.36 552.48,674.07 552.99,673.78 553.51,673.49 554.02,673.21 554.53,672.93 555.05,672.65 555.56,672.37 556.08,672.09 556.59,671.82 557.1,671.55 557.62,671.28 558.13,671.01 558.64,670.74 559.16,670.48 559.67,670.22 560.18,669.95 560.7,669.7 561.21,669.44 561.72,669.18 562.24,668.93 562.75,668.68 563.26,668.43 563.78,668.18 564.29,667.94 564.8,667.69 565.32,667.45 565.83,667.21 566.35,666.97 566.86,666.73 567.37,666.49 567.89,666.26 568.4,666.03 568.91,665.8 569.43,665.57 569.94,665.34 570.45,665.11 570.97,664.89 571.48,664.67 571.99,664.44 572.51,664.22 573.02,664.01 573.53,663.79 574.05,663.57 574.56,663.36 575.07,663.15 575.59,662.94 576.1,662.73 576.62,662.52 577.13,662.32 577.64,662.11 578.16,661.91 578.67,661.71 579.18,661.51 579.7,661.31 580.21,661.11 580.72,660.91 581.24,660.72 581.75,660.52 582.26,660.33 582.78,660.14 583.29,659.95 583.8,659.76 584.32,659.58 584.83,659.39 585.34,659.21 585.86,659.03 586.37,658.84 586.88,658.66 587.4,658.48 587.91,658.31 588.43,658.13 588.94,657.96 589.45,657.78 589.97,657.61 590.48,657.44 590.99,657.27 591.51,657.1 592.02,656.93 592.53,656.76 593.05,656.6 593.56,656.43 594.07,656.27 594.59,656.11 595.1,655.95 595.61,655.79 596.13,655.63 596.64,655.47 597.15,655.31 597.67,655.16 598.18,655 598.7,654.85 599.21,654.7 599.72,654.55 600.24,654.4 600.75,654.25 601.26,654.1 601.78,653.95 602.29,653.81 602.8,653.66 603.32,653.52 603.83,653.38 604.34,653.23 604.86,653.09 605.37,652.95 605.88,652.82 606.4,652.68 606.91,652.54 607.42,652.4 607.94,652.27 608.45,652.14 608.97,652 609.48,651.87 609.99,651.74 610.51,651.61 611.02,651.48 611.53,651.35 612.05,651.22 612.56,651.1 613.07,650.97 613.59,650.85 614.1,650.72 614.61,650.6 615.13,650.48 615.64,650.35 616.15,650.23 616.67,650.11 617.18,650 617.69,649.88 618.21,649.76 618.72,649.64 619.24,649.53 619.75,649.41 620.26,649.3 620.78,649.19 621.29,649.07 621.8,648.96 622.32,648.85 622.83,648.74 623.34,648.63 623.86,648.52 624.37,648.41 624.88,648.31 625.4,648.2 625.91,648.1 626.42,647.99 626.94,647.89 627.45,647.78 627.96,647.68 628.48,647.58 628.99,647.48 629.51,647.38 630.02,647.28 630.53,647.18 631.05,647.08 631.56,646.98 632.07,646.88 632.59,646.79 633.1,646.69 633.61,646.6 634.13,646.5 634.64,646.41 635.15,646.32 635.67,646.22 636.18,646.13 636.69,646.04 637.21,645.95 637.72,645.86 638.23,645.77 638.75,645.68 639.26,645.59 639.78,645.51 640.29,645.42 640.8,645.33 641.32,645.25 641.83,645.16 642.34,645.08 642.86,645 643.37,644.91 643.88,644.83 644.4,644.75 644.91,644.67 645.42,644.59 645.94,644.5 646.45,644.43 646.96,644.35 647.48,644.27 647.99,644.19 648.5,644.11 649.02,644.03 649.53,643.96 650.05,643.88 650.56,643.81 651.07,643.73 651.59,643.66 652.1,643.58 652.61,643.51 653.13,643.44 653.64,643.36 654.15,643.29 654.67,643.22 655.18,643.15 655.69,643.08 656.21,643.01 656.72,642.94 657.23,642.87 657.75,642.8 658.26,642.74 658.77,642.67 659.29,642.6 659.8,642.53 660.32,642.47 660.83,642.4 661.34,642.34 661.86,642.27 662.37,642.21 662.88,642.14 663.4,642.08 663.91,642.02 664.42,641.96 664.94,641.89 665.45,641.83 665.96,641.77 666.48,641.71 666.99,641.65 667.5,641.59 668.02,641.53" stroke="#e5542a" stroke-width="2.0" fill="none" />
</g>
<line x1="427.7" y1="664.3" x2="427.7" y2="887.8" stroke="#000" stroke-width="1.6" />
<line x1="426.9" y1="887" x2="677.5" y2="887" stroke="#000" stroke-width="1.6" />
<line x1="422.7" y1="887" x2="427.7" y2="887" stroke="#000" stroke-width="1.5" />
<text x="420.5" y="892" font-size="14" text-anchor="end" font-weight="normal" fill="#231f20" >0</text>
<line x1="422.7" y1="775.6" x2="427.7" y2="775.6" stroke="#000" stroke-width="1.5" />
<text x="420.5" y="780.6" font-size="14" text-anchor="end" font-weight="normal" fill="#231f20" >1</text>
<line x1="422.7" y1="664.2" x2="427.7" y2="664.2" stroke="#000" stroke-width="1.5" />
<text x="420.5" y="669.2" font-size="14" text-anchor="end" font-weight="normal" fill="#231f20" >2</text>
<line x1="427.7" y1="887" x2="427.7" y2="892" stroke="#000" stroke-width="1.5" />
<text x="427.7" y="903.8" font-size="14" text-anchor="middle" font-weight="normal" fill="#231f20" >0</text>
<line x1="489.32" y1="887" x2="489.32" y2="892" stroke="#000" stroke-width="1.5" />
<text x="489.32" y="903.8" font-size="14" text-anchor="middle" font-weight="normal" fill="#231f20" >30</text>
<line x1="550.94" y1="887" x2="550.94" y2="892" stroke="#000" stroke-width="1.5" />
<text x="550.94" y="903.8" font-size="14" text-anchor="middle" font-weight="normal" fill="#231f20" >60</text>
<line x1="612.56" y1="887" x2="612.56" y2="892" stroke="#000" stroke-width="1.5" />
<text x="612.56" y="903.8" font-size="14" text-anchor="middle" font-weight="normal" fill="#231f20" >90</text>
<text x="553.6" y="918.3" font-size="13.4" text-anchor="middle" font-weight="normal" fill="#231f20" >Time (s)</text>
<text x="427.5" y="661" font-size="12.5" fill="#231f20">×10<tspan font-size="9.5" dy="-5">−2</tspan></text>
<text x="475.3" y="688.8" font-size="13" text-anchor="start" font-weight="bold" fill="#111" >N = 3.0</text>
<text x="475.3" y="764.8" font-size="13" text-anchor="start" font-weight="bold" fill="#111" >N = 2.0</text>
<text x="538" y="831.5" font-size="13" text-anchor="start" font-weight="bold" fill="#111" >N = 1.0</text>
<text x="579.3" y="876" font-size="13" text-anchor="start" font-weight="bold" fill="#111" >Observed</text>
<text x="0" y="0" font-size="12.95" text-anchor="middle" fill="#231f20" transform="translate(372.1,775.1) rotate(-90)">LAT condensate</text>
<text x="0" y="0" font-size="12.95" text-anchor="middle" fill="#231f20" transform="translate(385.7,775.1) rotate(-90)">nucleation rate</text>
<g transform="translate(405.2,826.6) rotate(-90)" fill="#231f20"><text x="0" y="0" font-size="12.95">k<tspan font-size="9.32" dy="2.85">c</tspan><tspan dy="-2.85">(t) (</tspan></text><text x="36.96" y="-6.91" font-size="8.06" text-anchor="middle">1</text><rect x="34.46" y="-6.34" width="4.99" height="0.7"/><text x="36.96" y="2.5" font-size="8.06" text-anchor="middle">s</text><text x="71.52" y="-5.95" font-size="8.06" text-anchor="middle">1</text><rect x="46.56" y="-3.46" width="49.92" height="0.7"/><text x="71.52" y="4.8" font-size="8.26" text-anchor="middle">pMHC<tspan dx="2.3">:</tspan><tspan dx="2.3">TCR</tspan></text><text x="97.44" y="1.44" font-size="14.5">)</text></g>
<rect x="544.4" y="660" width="141.4" height="115.6" fill="#fff" />
<defs><clipPath id="icl"><rect x="543.6" y="663.5" width="140" height="113"/></clipPath></defs>
<g clip-path="url(#icl)">
<polyline points="543.6,775.6 544.47,774.82 545.33,773.82 546.2,772.73 547.06,771.58 547.93,770.39 548.79,769.17 549.65,767.92 550.52,766.65 551.38,765.37 552.25,764.08 553.12,762.78 553.98,761.48 554.85,760.17 555.71,758.86 556.58,757.55 557.44,756.25 558.31,754.94 559.17,753.64 560.04,752.34 560.9,751.05 561.76,749.76 562.63,748.48 563.5,747.2 564.36,745.94 565.23,744.68 566.09,743.43 566.96,742.18 567.82,740.95 568.69,739.73 569.55,738.51 570.42,737.31 571.28,736.11 572.14,734.93 573.01,733.76 573.88,732.59 574.74,731.44 575.61,730.3 576.47,729.17 577.34,728.05 578.2,726.94 579.07,725.85 579.93,724.76 580.8,723.69 581.66,722.63 582.52,721.58 583.39,720.55 584.25,719.52 585.12,718.51 585.99,717.5 586.85,716.51 587.72,715.54 588.58,714.57 589.45,713.62 590.31,712.67 591.18,711.74 592.04,710.83 592.9,709.92 593.77,709.02 594.63,708.14 595.5,707.27 596.37,706.41 597.23,705.56 598.1,704.73 598.96,703.9 599.83,703.09 600.69,702.29 601.56,701.5 602.42,700.72 603.29,699.96 604.15,699.2 605.01,698.46 605.88,697.72 606.75,697 607.61,696.29 608.48,695.59 609.34,694.9 610.21,694.23 611.07,693.56 611.94,692.91 612.8,692.26 613.66,691.63 614.53,691 615.39,690.39 616.26,689.79 617.12,689.19 617.99,688.61 618.86,688.04 619.72,687.48 620.59,686.93 621.45,686.39 622.32,685.86 623.18,685.33 624.05,684.82 624.91,684.32 625.77,683.83 626.64,683.35 627.5,682.87 628.37,682.41 629.24,681.96 630.1,681.51 630.97,681.07 631.83,680.65 632.7,680.23 633.56,679.82 634.43,679.42 635.29,679.03 636.15,678.65 637.02,678.27 637.88,677.91 638.75,677.55 639.62,677.2 640.48,676.86 641.35,676.53 642.21,676.21 643.08,675.89 643.94,675.59 644.81,675.29 645.67,675 646.54,674.71 647.4,674.44 648.27,674.17 649.13,673.91 650,673.66 650.86,673.41 651.73,673.17 652.59,672.94 653.46,672.72 654.32,672.5 655.19,672.29 656.05,672.09 656.92,671.9 657.78,671.71 658.64,671.53 659.51,671.35 660.38,671.18 661.24,671.02 662.11,670.87 662.97,670.72 663.84,670.58 664.7,670.44 665.57,670.31 666.43,670.19 667.3,670.07 668.16,669.96 669.03,669.86 669.89,669.76 670.75,669.66 671.62,669.58 672.49,669.49 673.35,669.42" stroke="#9c9a9a" stroke-width="4.6" fill="none" stroke-linecap="round"/>
<line x1="543.6" y1="711.22" x2="673.35" y2="711.22" stroke="#c2303a" stroke-width="1.9" />
<polyline points="543.6,775.6 544.47,775.58 545.33,775.54 546.2,775.46 547.06,775.35 547.93,775.2 548.79,775.03 549.65,774.83 550.52,774.61 551.38,774.35 552.25,774.06 553.12,773.75 553.98,773.41 554.85,773.05 555.71,772.65 556.58,772.24 557.44,771.8 558.31,771.33 559.17,770.84 560.04,770.32 560.9,769.79 561.76,769.23 562.63,768.64 563.5,768.04 564.36,767.41 565.23,766.76 566.09,766.1 566.96,765.41 567.82,764.7 568.69,763.97 569.55,763.22 570.42,762.46 571.28,761.67 572.14,760.87 573.01,760.05 573.88,759.21 574.74,758.36 575.61,757.49 576.47,756.6 577.34,755.69 578.2,754.77 579.07,753.84 579.93,752.89 580.8,751.93 581.66,750.95 582.52,749.95 583.39,748.95 584.25,747.93 585.12,746.89 585.99,745.85 586.85,744.79 587.72,743.72 588.58,742.63 589.45,741.54 590.31,740.43 591.18,739.32 592.04,738.19 592.9,737.05 593.77,735.9 594.63,734.74 595.5,733.57 596.37,732.39 597.23,731.2 598.1,730.01 598.96,728.8 599.83,727.58 600.69,726.36 601.56,725.13 602.42,723.89 603.29,722.64 604.15,721.39 605.01,720.12 605.88,718.85 606.75,717.58 607.61,716.29 608.48,715 609.34,713.71 610.21,712.41 611.07,711.1 611.94,709.78 612.8,708.46 613.66,707.14 614.53,705.81 615.39,704.48 616.26,703.14 617.12,701.79 617.99,700.44 618.86,699.09 619.72,697.73 620.59,696.37 621.45,695.01 622.32,693.64 623.18,692.27 624.05,690.89 624.91,689.51 625.77,688.13 626.64,686.75 627.5,685.36 628.37,683.97 629.24,682.58 630.1,681.19 630.97,679.79 631.83,678.39 632.7,676.99 633.56,675.59 634.43,674.19 635.29,672.78 636.15,671.37 637.02,669.97 637.88,668.56 638.75,667.15 639.62,665.74 640.48,664.33 641.35,662.91 642.21,661.5 643.08,660.09 643.94,658.67 644.81,657.26 645.67,655.85 646.54,654.43 647.4,653.02 648.27,651.61 649.13,650.19 650,648.78 650.86,647.37 651.73,645.95 652.59,644.54 653.46,643.13 654.32,641.72 655.19,640.31 656.05,638.91 656.92,637.5 657.78,636.09 658.64,634.69 659.51,633.29 660.38,631.89 661.24,630.49 662.11,629.09 662.97,627.69 663.84,626.3 664.7,624.9 665.57,623.51 666.43,622.12 667.3,620.73 668.16,619.35 669.03,617.96 669.89,616.58 670.75,615.2 671.62,613.83 672.49,612.45 673.35,611.08 674.22,609.71 675.08,608.34 675.95,606.98 676.81,605.62 677.68,604.26 678.54,602.9 679.4,601.55 680.27,600.19" stroke="#f4a44a" stroke-width="1.8" fill="none" />
<polyline points="543.6,775.6 544.47,773.61 545.33,771.99 546.2,770.49 547.06,769.06 547.93,767.68 548.79,766.35 549.65,765.05 550.52,763.78 551.38,762.53 552.25,761.31 553.12,760.1 553.98,758.92 554.85,757.75 555.71,756.59 556.58,755.46 557.44,754.33 558.31,753.22 559.17,752.12 560.04,751.03 560.9,749.95 561.76,748.88 562.63,747.82 563.5,746.77 564.36,745.73 565.23,744.7 566.09,743.68 566.96,742.66 567.82,741.65 568.69,740.65 569.55,739.66 570.42,738.68 571.28,737.7 572.14,736.73 573.01,735.76 573.88,734.8 574.74,733.85 575.61,732.91 576.47,731.97 577.34,731.03 578.2,730.1 579.07,729.18 579.93,728.26 580.8,727.35 581.66,726.44 582.52,725.54 583.39,724.65 584.25,723.76 585.12,722.87 585.99,721.99 586.85,721.11 587.72,720.24 588.58,719.37 589.45,718.51 590.31,717.65 591.18,716.8 592.04,715.95 592.9,715.1 593.77,714.26 594.63,713.42 595.5,712.59 596.37,711.76 597.23,710.94 598.1,710.12 598.96,709.3 599.83,708.49 600.69,707.68 601.56,706.87 602.42,706.07 603.29,705.27 604.15,704.48 605.01,703.69 605.88,702.9 606.75,702.12 607.61,701.34 608.48,700.56 609.34,699.79 610.21,699.02 611.07,698.25 611.94,697.49 612.8,696.73 613.66,695.97 614.53,695.22 615.39,694.47 616.26,693.73 617.12,692.98 617.99,692.24 618.86,691.51 619.72,690.77 620.59,690.04 621.45,689.31 622.32,688.59 623.18,687.87 624.05,687.15 624.91,686.43 625.77,685.72 626.64,685.01 627.5,684.3 628.37,683.6 629.24,682.89 630.1,682.19 630.97,681.5 631.83,680.8 632.7,680.11 633.56,679.43 634.43,678.74 635.29,678.06 636.15,677.38 637.02,676.7 637.88,676.03 638.75,675.35 639.62,674.69 640.48,674.02 641.35,673.35 642.21,672.69 643.08,672.03 643.94,671.38 644.81,670.72 645.67,670.07 646.54,669.42 647.4,668.77 648.27,668.13 649.13,667.49 650,666.85 650.86,666.21 651.73,665.58 652.59,664.94 653.46,664.31 654.32,663.68 655.19,663.06 656.05,662.44 656.92,661.81 657.78,661.2 658.64,660.58 659.51,659.97 660.38,659.35 661.24,658.74 662.11,658.14 662.97,657.53 663.84,656.93 664.7,656.33 665.57,655.73 666.43,655.13 667.3,654.54 668.16,653.94 669.03,653.35 669.89,652.76 670.75,652.18 671.62,651.59 672.49,651.01 673.35,650.43 674.22,649.85 675.08,649.28 675.95,648.7 676.81,648.13 677.68,647.56 678.54,646.99 679.4,646.43 680.27,645.86" stroke="#e5542a" stroke-width="2.0" fill="none" />
</g>
<line x1="543.6" y1="664.1" x2="543.6" y2="776.4" stroke="#000" stroke-width="1.6" />
<line x1="542.8" y1="775.6" x2="680.2" y2="775.6" stroke="#000" stroke-width="1.6" />
<line x1="538.6" y1="775.6" x2="543.6" y2="775.6" stroke="#000" stroke-width="1.5" />
<text x="536.5" y="780.4" font-size="13.5" text-anchor="end" font-weight="normal" fill="#231f20" >0</text>
<line x1="538.6" y1="720.1" x2="543.6" y2="720.1" stroke="#000" stroke-width="1.5" />
<text x="536.5" y="724.9" font-size="13.5" text-anchor="end" font-weight="normal" fill="#231f20" >4</text>
<line x1="538.6" y1="664.6" x2="543.6" y2="664.6" stroke="#000" stroke-width="1.5" />
<text x="536.5" y="669.4" font-size="13.5" text-anchor="end" font-weight="normal" fill="#231f20" >8</text>
<line x1="543.6" y1="775.6" x2="543.6" y2="780.6" stroke="#000" stroke-width="1.5" />
<text x="543.6" y="791.7" font-size="13.5" text-anchor="middle" font-weight="normal" fill="#231f20" >0</text>
<line x1="630.1" y1="775.6" x2="630.1" y2="780.6" stroke="#000" stroke-width="1.5" />
<text x="630.1" y="791.7" font-size="13.5" text-anchor="middle" font-weight="normal" fill="#231f20" >10</text>
<text x="544" y="661" font-size="12.5" fill="#231f20">×10<tspan font-size="9.5" dy="-5">−3</tspan></text>
</svg>
</body></html>
